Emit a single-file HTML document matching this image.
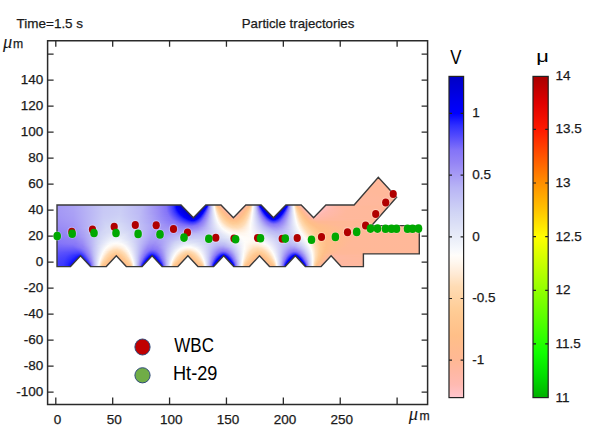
<!DOCTYPE html>
<html><head><meta charset="utf-8"><style>
html,body{margin:0;padding:0;background:#fff;width:602px;height:430px;overflow:hidden}
svg{display:block}

</style></head><body>
<svg width="602" height="430" viewBox="0 0 602 430">
<defs><linearGradient id="g0" gradientUnits="userSpaceOnUse" x1="56" x2="421"><stop offset="0.00137" stop-color="#a498f5"/><stop offset="0.04795" stop-color="#aba2f5"/><stop offset="0.1301" stop-color="#c7c8f5"/><stop offset="0.1795" stop-color="#caccf5"/><stop offset="0.237" stop-color="#b9b5f5"/><stop offset="0.2863" stop-color="#9484f5"/><stop offset="0.3027" stop-color="#8070f8"/><stop offset="0.3164" stop-color="#4c46fd"/><stop offset="0.3219" stop-color="#3231ff"/><stop offset="0.3274" stop-color="#0d0dff"/><stop offset="0.3301" stop-color="#0000fc"/><stop offset="0.3356" stop-color="#0000e6"/><stop offset="0.3384" stop-color="#0000d2"/><stop offset="0.3411" stop-color="#0000c8"/><stop offset="0.4096" stop-color="#0000c9"/><stop offset="0.4123" stop-color="#0000ce"/><stop offset="0.4151" stop-color="#0000ee"/><stop offset="0.4178" stop-color="#544bfc"/><stop offset="0.4205" stop-color="#9383f5"/><stop offset="0.4233" stop-color="#b2abf5"/><stop offset="0.426" stop-color="#c7c9f5"/><stop offset="0.4315" stop-color="#eff2fa"/><stop offset="0.4342" stop-color="#fff6ec"/><stop offset="0.437" stop-color="#ffdcb6"/><stop offset="0.4397" stop-color="#ffcb94"/><stop offset="0.4425" stop-color="#ffba8f"/><stop offset="0.4452" stop-color="#ffb8a3"/><stop offset="0.4589" stop-color="#ffb9aa"/><stop offset="0.5247" stop-color="#ffb8a7"/><stop offset="0.5274" stop-color="#ffb8a3"/><stop offset="0.5301" stop-color="#ffba90"/><stop offset="0.5329" stop-color="#ffca93"/><stop offset="0.5356" stop-color="#ffdbb3"/><stop offset="0.5384" stop-color="#fff3e6"/><stop offset="0.5411" stop-color="#f2f5fb"/><stop offset="0.5466" stop-color="#caccf5"/><stop offset="0.5493" stop-color="#b5b0f5"/><stop offset="0.5521" stop-color="#9686f5"/><stop offset="0.5548" stop-color="#5a50fc"/><stop offset="0.5575" stop-color="#0000ef"/><stop offset="0.5603" stop-color="#0000ce"/><stop offset="0.5658" stop-color="#0000c9"/><stop offset="0.6288" stop-color="#0000c9"/><stop offset="0.6315" stop-color="#0000ce"/><stop offset="0.6342" stop-color="#0000ef"/><stop offset="0.637" stop-color="#5d52fc"/><stop offset="0.6397" stop-color="#9889f5"/><stop offset="0.6425" stop-color="#b8b4f5"/><stop offset="0.6452" stop-color="#cdd0f5"/><stop offset="0.6507" stop-color="#f7f9fc"/><stop offset="0.6534" stop-color="#ffedda"/><stop offset="0.6562" stop-color="#ffd6aa"/><stop offset="0.6589" stop-color="#ffc58e"/><stop offset="0.6616" stop-color="#ffb897"/><stop offset="0.6644" stop-color="#ffbab1"/><stop offset="0.6753" stop-color="#ffbebc"/><stop offset="0.7466" stop-color="#ffbfbd"/><stop offset="0.7548" stop-color="#ffb9ad"/><stop offset="0.7795" stop-color="#ffb8a0"/><stop offset="0.7822" stop-color="#ffb89a"/><stop offset="0.9986" stop-color="#ffb89a"/></linearGradient><linearGradient id="g1" gradientUnits="userSpaceOnUse" x1="56" x2="421"><stop offset="0.00137" stop-color="#a498f5"/><stop offset="0.04795" stop-color="#aba2f5"/><stop offset="0.1301" stop-color="#c7c8f5"/><stop offset="0.1795" stop-color="#caccf5"/><stop offset="0.237" stop-color="#b9b5f5"/><stop offset="0.2863" stop-color="#9484f5"/><stop offset="0.3027" stop-color="#8070f8"/><stop offset="0.3164" stop-color="#4c46fd"/><stop offset="0.3219" stop-color="#3231ff"/><stop offset="0.3274" stop-color="#0d0dff"/><stop offset="0.3301" stop-color="#0000fc"/><stop offset="0.3356" stop-color="#0000e6"/><stop offset="0.3384" stop-color="#0000d2"/><stop offset="0.3411" stop-color="#0000c8"/><stop offset="0.4096" stop-color="#0000c9"/><stop offset="0.4123" stop-color="#0000ce"/><stop offset="0.4151" stop-color="#0000ee"/><stop offset="0.4178" stop-color="#544bfc"/><stop offset="0.4205" stop-color="#9383f5"/><stop offset="0.4233" stop-color="#b2abf5"/><stop offset="0.426" stop-color="#c7c9f5"/><stop offset="0.4315" stop-color="#eff2fa"/><stop offset="0.4342" stop-color="#fff6ec"/><stop offset="0.437" stop-color="#ffdcb6"/><stop offset="0.4397" stop-color="#ffcb94"/><stop offset="0.4425" stop-color="#ffba8f"/><stop offset="0.4452" stop-color="#ffb8a3"/><stop offset="0.4589" stop-color="#ffb9aa"/><stop offset="0.5247" stop-color="#ffb8a7"/><stop offset="0.5274" stop-color="#ffb8a3"/><stop offset="0.5301" stop-color="#ffba90"/><stop offset="0.5329" stop-color="#ffca93"/><stop offset="0.5356" stop-color="#ffdbb3"/><stop offset="0.5384" stop-color="#fff3e6"/><stop offset="0.5411" stop-color="#f2f5fb"/><stop offset="0.5466" stop-color="#caccf5"/><stop offset="0.5493" stop-color="#b5b0f5"/><stop offset="0.5521" stop-color="#9686f5"/><stop offset="0.5548" stop-color="#5a50fc"/><stop offset="0.5575" stop-color="#0000ef"/><stop offset="0.5603" stop-color="#0000ce"/><stop offset="0.5658" stop-color="#0000c9"/><stop offset="0.6288" stop-color="#0000c9"/><stop offset="0.6315" stop-color="#0000ce"/><stop offset="0.6342" stop-color="#0000ef"/><stop offset="0.637" stop-color="#5d52fc"/><stop offset="0.6397" stop-color="#9889f5"/><stop offset="0.6425" stop-color="#b8b4f5"/><stop offset="0.6452" stop-color="#cdd0f5"/><stop offset="0.6507" stop-color="#f7f9fc"/><stop offset="0.6534" stop-color="#ffedda"/><stop offset="0.6562" stop-color="#ffd6aa"/><stop offset="0.6589" stop-color="#ffc58e"/><stop offset="0.6616" stop-color="#ffb897"/><stop offset="0.6644" stop-color="#ffbab1"/><stop offset="0.6753" stop-color="#ffbebc"/><stop offset="0.7466" stop-color="#ffbfbd"/><stop offset="0.7548" stop-color="#ffb9ad"/><stop offset="0.7795" stop-color="#ffb8a0"/><stop offset="0.7877" stop-color="#ffb89a"/><stop offset="0.9986" stop-color="#ffb89a"/></linearGradient><linearGradient id="g2" gradientUnits="userSpaceOnUse" x1="56" x2="421"><stop offset="0.00137" stop-color="#a498f5"/><stop offset="0.04795" stop-color="#aba2f5"/><stop offset="0.1301" stop-color="#c7c8f5"/><stop offset="0.1795" stop-color="#caccf5"/><stop offset="0.237" stop-color="#b9b5f5"/><stop offset="0.2863" stop-color="#9484f5"/><stop offset="0.3027" stop-color="#8070f8"/><stop offset="0.3164" stop-color="#4c46fd"/><stop offset="0.3219" stop-color="#3231ff"/><stop offset="0.3274" stop-color="#0d0dff"/><stop offset="0.3301" stop-color="#0000fc"/><stop offset="0.3356" stop-color="#0000e6"/><stop offset="0.3384" stop-color="#0000d2"/><stop offset="0.3411" stop-color="#0000c8"/><stop offset="0.4096" stop-color="#0000c9"/><stop offset="0.4123" stop-color="#0000ce"/><stop offset="0.4151" stop-color="#0000ee"/><stop offset="0.4178" stop-color="#544bfc"/><stop offset="0.4205" stop-color="#9383f5"/><stop offset="0.4233" stop-color="#b2abf5"/><stop offset="0.426" stop-color="#c7c9f5"/><stop offset="0.4315" stop-color="#eff2fa"/><stop offset="0.4342" stop-color="#fff6ec"/><stop offset="0.437" stop-color="#ffdcb6"/><stop offset="0.4397" stop-color="#ffcb94"/><stop offset="0.4425" stop-color="#ffba8f"/><stop offset="0.4452" stop-color="#ffb8a3"/><stop offset="0.4589" stop-color="#ffb9aa"/><stop offset="0.5247" stop-color="#ffb8a7"/><stop offset="0.5274" stop-color="#ffb8a3"/><stop offset="0.5301" stop-color="#ffba90"/><stop offset="0.5329" stop-color="#ffca93"/><stop offset="0.5356" stop-color="#ffdbb3"/><stop offset="0.5384" stop-color="#fff3e6"/><stop offset="0.5411" stop-color="#f2f5fb"/><stop offset="0.5466" stop-color="#caccf5"/><stop offset="0.5493" stop-color="#b5b0f5"/><stop offset="0.5521" stop-color="#9686f5"/><stop offset="0.5548" stop-color="#5a50fc"/><stop offset="0.5575" stop-color="#0000ef"/><stop offset="0.5603" stop-color="#0000ce"/><stop offset="0.5658" stop-color="#0000c9"/><stop offset="0.6288" stop-color="#0000c9"/><stop offset="0.6315" stop-color="#0000ce"/><stop offset="0.6342" stop-color="#0000ef"/><stop offset="0.637" stop-color="#5d52fc"/><stop offset="0.6397" stop-color="#9889f5"/><stop offset="0.6425" stop-color="#b8b4f5"/><stop offset="0.6452" stop-color="#cdd0f5"/><stop offset="0.6507" stop-color="#f7f9fc"/><stop offset="0.6534" stop-color="#ffedda"/><stop offset="0.6562" stop-color="#ffd6aa"/><stop offset="0.6589" stop-color="#ffc58e"/><stop offset="0.6616" stop-color="#ffb897"/><stop offset="0.6644" stop-color="#ffbab1"/><stop offset="0.6753" stop-color="#ffbebc"/><stop offset="0.7466" stop-color="#ffbfbd"/><stop offset="0.7548" stop-color="#ffb9ad"/><stop offset="0.7904" stop-color="#ffb89a"/><stop offset="0.9986" stop-color="#ffb89a"/></linearGradient><linearGradient id="g3" gradientUnits="userSpaceOnUse" x1="56" x2="421"><stop offset="0.00137" stop-color="#a498f5"/><stop offset="0.04795" stop-color="#aba2f5"/><stop offset="0.1301" stop-color="#c7c8f5"/><stop offset="0.1795" stop-color="#caccf5"/><stop offset="0.237" stop-color="#b9b5f5"/><stop offset="0.2863" stop-color="#9484f5"/><stop offset="0.3027" stop-color="#8070f8"/><stop offset="0.3164" stop-color="#4c46fd"/><stop offset="0.3219" stop-color="#3231ff"/><stop offset="0.3274" stop-color="#0d0dff"/><stop offset="0.3301" stop-color="#0000fc"/><stop offset="0.3356" stop-color="#0000e6"/><stop offset="0.3384" stop-color="#0000d2"/><stop offset="0.3411" stop-color="#0000c8"/><stop offset="0.4096" stop-color="#0000c9"/><stop offset="0.4123" stop-color="#0000ce"/><stop offset="0.4151" stop-color="#0000ee"/><stop offset="0.4178" stop-color="#544bfc"/><stop offset="0.4205" stop-color="#9383f5"/><stop offset="0.4233" stop-color="#b2abf5"/><stop offset="0.426" stop-color="#c7c9f5"/><stop offset="0.4315" stop-color="#eff2fa"/><stop offset="0.4342" stop-color="#fff6ec"/><stop offset="0.437" stop-color="#ffdcb6"/><stop offset="0.4397" stop-color="#ffcb94"/><stop offset="0.4425" stop-color="#ffba8f"/><stop offset="0.4452" stop-color="#ffb8a3"/><stop offset="0.4589" stop-color="#ffb9aa"/><stop offset="0.5247" stop-color="#ffb8a7"/><stop offset="0.5274" stop-color="#ffb8a3"/><stop offset="0.5301" stop-color="#ffba90"/><stop offset="0.5329" stop-color="#ffca93"/><stop offset="0.5356" stop-color="#ffdbb3"/><stop offset="0.5384" stop-color="#fff3e6"/><stop offset="0.5411" stop-color="#f2f5fb"/><stop offset="0.5466" stop-color="#caccf5"/><stop offset="0.5493" stop-color="#b5b0f5"/><stop offset="0.5521" stop-color="#9686f5"/><stop offset="0.5548" stop-color="#5a50fc"/><stop offset="0.5575" stop-color="#0000ef"/><stop offset="0.5603" stop-color="#0000ce"/><stop offset="0.5658" stop-color="#0000c9"/><stop offset="0.6288" stop-color="#0000c9"/><stop offset="0.6315" stop-color="#0000ce"/><stop offset="0.6342" stop-color="#0000ef"/><stop offset="0.637" stop-color="#5d52fc"/><stop offset="0.6397" stop-color="#9889f5"/><stop offset="0.6425" stop-color="#b8b4f5"/><stop offset="0.6452" stop-color="#cdd0f5"/><stop offset="0.6507" stop-color="#f7f9fc"/><stop offset="0.6534" stop-color="#ffedda"/><stop offset="0.6562" stop-color="#ffd6aa"/><stop offset="0.6589" stop-color="#ffc58e"/><stop offset="0.6616" stop-color="#ffb897"/><stop offset="0.6644" stop-color="#ffbab1"/><stop offset="0.6753" stop-color="#ffbebc"/><stop offset="0.7466" stop-color="#ffbfbd"/><stop offset="0.7548" stop-color="#ffb9ad"/><stop offset="0.7932" stop-color="#ffb89a"/><stop offset="0.9986" stop-color="#ffb89a"/></linearGradient><linearGradient id="g4" gradientUnits="userSpaceOnUse" x1="56" x2="421"><stop offset="0.00137" stop-color="#a498f5"/><stop offset="0.04795" stop-color="#aba2f5"/><stop offset="0.1301" stop-color="#c7c8f5"/><stop offset="0.1795" stop-color="#caccf5"/><stop offset="0.237" stop-color="#b9b5f5"/><stop offset="0.2863" stop-color="#9484f5"/><stop offset="0.3027" stop-color="#8070f8"/><stop offset="0.3164" stop-color="#4c46fd"/><stop offset="0.3219" stop-color="#3231ff"/><stop offset="0.3274" stop-color="#0d0dff"/><stop offset="0.3301" stop-color="#0000fc"/><stop offset="0.3356" stop-color="#0000e6"/><stop offset="0.3384" stop-color="#0000d2"/><stop offset="0.3411" stop-color="#0000c8"/><stop offset="0.4096" stop-color="#0000c9"/><stop offset="0.4123" stop-color="#0000ce"/><stop offset="0.4151" stop-color="#0000ee"/><stop offset="0.4178" stop-color="#544bfc"/><stop offset="0.4205" stop-color="#9383f5"/><stop offset="0.4233" stop-color="#b2abf5"/><stop offset="0.426" stop-color="#c7c9f5"/><stop offset="0.4315" stop-color="#eff2fa"/><stop offset="0.4342" stop-color="#fff6ec"/><stop offset="0.437" stop-color="#ffdcb6"/><stop offset="0.4397" stop-color="#ffcb94"/><stop offset="0.4425" stop-color="#ffba8f"/><stop offset="0.4452" stop-color="#ffb8a3"/><stop offset="0.4589" stop-color="#ffb9aa"/><stop offset="0.5247" stop-color="#ffb8a7"/><stop offset="0.5274" stop-color="#ffb8a3"/><stop offset="0.5301" stop-color="#ffba90"/><stop offset="0.5329" stop-color="#ffca93"/><stop offset="0.5356" stop-color="#ffdbb3"/><stop offset="0.5384" stop-color="#fff3e6"/><stop offset="0.5411" stop-color="#f2f5fb"/><stop offset="0.5466" stop-color="#caccf5"/><stop offset="0.5493" stop-color="#b5b0f5"/><stop offset="0.5521" stop-color="#9686f5"/><stop offset="0.5548" stop-color="#5a50fc"/><stop offset="0.5575" stop-color="#0000ef"/><stop offset="0.5603" stop-color="#0000ce"/><stop offset="0.5658" stop-color="#0000c9"/><stop offset="0.6288" stop-color="#0000c9"/><stop offset="0.6315" stop-color="#0000ce"/><stop offset="0.6342" stop-color="#0000ef"/><stop offset="0.637" stop-color="#5d52fc"/><stop offset="0.6397" stop-color="#9889f5"/><stop offset="0.6425" stop-color="#b8b4f5"/><stop offset="0.6452" stop-color="#cdd0f5"/><stop offset="0.6507" stop-color="#f7f9fc"/><stop offset="0.6534" stop-color="#ffedda"/><stop offset="0.6562" stop-color="#ffd6aa"/><stop offset="0.6589" stop-color="#ffc58e"/><stop offset="0.6616" stop-color="#ffb897"/><stop offset="0.6644" stop-color="#ffbab1"/><stop offset="0.6753" stop-color="#ffbebc"/><stop offset="0.7466" stop-color="#ffbfbd"/><stop offset="0.7548" stop-color="#ffb9ad"/><stop offset="0.7932" stop-color="#ffb89a"/><stop offset="0.9986" stop-color="#ffb89a"/></linearGradient><linearGradient id="g5" gradientUnits="userSpaceOnUse" x1="56" x2="421"><stop offset="0.00137" stop-color="#a498f5"/><stop offset="0.04795" stop-color="#aba2f5"/><stop offset="0.1301" stop-color="#c7c8f5"/><stop offset="0.1795" stop-color="#caccf5"/><stop offset="0.237" stop-color="#b9b5f5"/><stop offset="0.2863" stop-color="#9484f5"/><stop offset="0.3027" stop-color="#8070f8"/><stop offset="0.3164" stop-color="#4c46fd"/><stop offset="0.3219" stop-color="#3231ff"/><stop offset="0.3274" stop-color="#0d0dff"/><stop offset="0.3301" stop-color="#0000fc"/><stop offset="0.3356" stop-color="#0000e6"/><stop offset="0.3384" stop-color="#0000d2"/><stop offset="0.3411" stop-color="#0000c8"/><stop offset="0.4096" stop-color="#0000c9"/><stop offset="0.4123" stop-color="#0000ce"/><stop offset="0.4151" stop-color="#0000ee"/><stop offset="0.4178" stop-color="#544bfc"/><stop offset="0.4205" stop-color="#9383f5"/><stop offset="0.4233" stop-color="#b2abf5"/><stop offset="0.426" stop-color="#c7c9f5"/><stop offset="0.4315" stop-color="#eff2fa"/><stop offset="0.4342" stop-color="#fff6ec"/><stop offset="0.437" stop-color="#ffdcb6"/><stop offset="0.4397" stop-color="#ffcb94"/><stop offset="0.4425" stop-color="#ffba8f"/><stop offset="0.4452" stop-color="#ffb8a3"/><stop offset="0.4589" stop-color="#ffb9aa"/><stop offset="0.5247" stop-color="#ffb8a7"/><stop offset="0.5274" stop-color="#ffb8a3"/><stop offset="0.5301" stop-color="#ffba90"/><stop offset="0.5329" stop-color="#ffca93"/><stop offset="0.5356" stop-color="#ffdbb3"/><stop offset="0.5384" stop-color="#fff3e6"/><stop offset="0.5411" stop-color="#f2f5fb"/><stop offset="0.5466" stop-color="#caccf5"/><stop offset="0.5493" stop-color="#b5b0f5"/><stop offset="0.5521" stop-color="#9686f5"/><stop offset="0.5548" stop-color="#5a50fc"/><stop offset="0.5575" stop-color="#0000ef"/><stop offset="0.5603" stop-color="#0000ce"/><stop offset="0.5658" stop-color="#0000c9"/><stop offset="0.6288" stop-color="#0000c9"/><stop offset="0.6315" stop-color="#0000ce"/><stop offset="0.6342" stop-color="#0000ef"/><stop offset="0.637" stop-color="#5d52fc"/><stop offset="0.6397" stop-color="#9889f5"/><stop offset="0.6425" stop-color="#b8b4f5"/><stop offset="0.6452" stop-color="#cdd0f5"/><stop offset="0.6507" stop-color="#f7f9fc"/><stop offset="0.6534" stop-color="#ffedda"/><stop offset="0.6562" stop-color="#ffd6aa"/><stop offset="0.6589" stop-color="#ffc58e"/><stop offset="0.6616" stop-color="#ffb897"/><stop offset="0.6644" stop-color="#ffbab1"/><stop offset="0.6753" stop-color="#ffbebc"/><stop offset="0.7466" stop-color="#ffbfbd"/><stop offset="0.7548" stop-color="#ffb9ad"/><stop offset="0.7959" stop-color="#ffb89a"/><stop offset="0.9986" stop-color="#ffb89a"/></linearGradient><linearGradient id="g6" gradientUnits="userSpaceOnUse" x1="56" x2="421"><stop offset="0.00137" stop-color="#a498f5"/><stop offset="0.04795" stop-color="#aba2f5"/><stop offset="0.1301" stop-color="#c7c8f5"/><stop offset="0.1795" stop-color="#caccf5"/><stop offset="0.237" stop-color="#b9b5f5"/><stop offset="0.2863" stop-color="#9484f5"/><stop offset="0.3027" stop-color="#8070f8"/><stop offset="0.3164" stop-color="#4c46fd"/><stop offset="0.3219" stop-color="#3231ff"/><stop offset="0.3274" stop-color="#0d0dff"/><stop offset="0.3301" stop-color="#0000fc"/><stop offset="0.3356" stop-color="#0000e6"/><stop offset="0.3384" stop-color="#0000d2"/><stop offset="0.3411" stop-color="#0000c8"/><stop offset="0.4096" stop-color="#0000c9"/><stop offset="0.4123" stop-color="#0000ce"/><stop offset="0.4151" stop-color="#0000ee"/><stop offset="0.4178" stop-color="#544bfc"/><stop offset="0.4205" stop-color="#9383f5"/><stop offset="0.4233" stop-color="#b2abf5"/><stop offset="0.426" stop-color="#c7c9f5"/><stop offset="0.4315" stop-color="#eff2fa"/><stop offset="0.4342" stop-color="#fff6ec"/><stop offset="0.437" stop-color="#ffdcb6"/><stop offset="0.4397" stop-color="#ffcb94"/><stop offset="0.4425" stop-color="#ffba8f"/><stop offset="0.4452" stop-color="#ffb8a3"/><stop offset="0.4589" stop-color="#ffb9aa"/><stop offset="0.5247" stop-color="#ffb8a7"/><stop offset="0.5274" stop-color="#ffb8a3"/><stop offset="0.5301" stop-color="#ffba90"/><stop offset="0.5329" stop-color="#ffca93"/><stop offset="0.5356" stop-color="#ffdbb3"/><stop offset="0.5384" stop-color="#fff3e6"/><stop offset="0.5411" stop-color="#f2f5fb"/><stop offset="0.5466" stop-color="#caccf5"/><stop offset="0.5493" stop-color="#b5b0f5"/><stop offset="0.5521" stop-color="#9686f5"/><stop offset="0.5548" stop-color="#5a50fc"/><stop offset="0.5575" stop-color="#0000ef"/><stop offset="0.5603" stop-color="#0000ce"/><stop offset="0.5658" stop-color="#0000c9"/><stop offset="0.6288" stop-color="#0000c9"/><stop offset="0.6315" stop-color="#0000ce"/><stop offset="0.6342" stop-color="#0000ef"/><stop offset="0.637" stop-color="#5d52fc"/><stop offset="0.6397" stop-color="#9889f5"/><stop offset="0.6425" stop-color="#b8b4f5"/><stop offset="0.6452" stop-color="#cdd0f5"/><stop offset="0.6507" stop-color="#f7f9fc"/><stop offset="0.6534" stop-color="#ffedda"/><stop offset="0.6562" stop-color="#ffd6aa"/><stop offset="0.6589" stop-color="#ffc58e"/><stop offset="0.6616" stop-color="#ffb897"/><stop offset="0.6644" stop-color="#ffbab1"/><stop offset="0.6753" stop-color="#ffbebc"/><stop offset="0.7466" stop-color="#ffbfbd"/><stop offset="0.7548" stop-color="#ffb9ad"/><stop offset="0.7959" stop-color="#ffb89a"/><stop offset="0.9986" stop-color="#ffb89a"/></linearGradient><linearGradient id="g7" gradientUnits="userSpaceOnUse" x1="56" x2="421"><stop offset="0.00137" stop-color="#a498f5"/><stop offset="0.04795" stop-color="#aba2f5"/><stop offset="0.1301" stop-color="#c7c8f5"/><stop offset="0.1795" stop-color="#caccf5"/><stop offset="0.237" stop-color="#b9b5f5"/><stop offset="0.2863" stop-color="#9484f5"/><stop offset="0.3027" stop-color="#8070f8"/><stop offset="0.3164" stop-color="#4c46fd"/><stop offset="0.3219" stop-color="#3231ff"/><stop offset="0.3274" stop-color="#0d0dff"/><stop offset="0.3301" stop-color="#0000fc"/><stop offset="0.3356" stop-color="#0000e6"/><stop offset="0.3384" stop-color="#0000d2"/><stop offset="0.3411" stop-color="#0000c8"/><stop offset="0.4096" stop-color="#0000c9"/><stop offset="0.4123" stop-color="#0000ce"/><stop offset="0.4151" stop-color="#0000ee"/><stop offset="0.4178" stop-color="#544bfc"/><stop offset="0.4205" stop-color="#9383f5"/><stop offset="0.4233" stop-color="#b2abf5"/><stop offset="0.426" stop-color="#c7c9f5"/><stop offset="0.4315" stop-color="#eff2fa"/><stop offset="0.4342" stop-color="#fff6ec"/><stop offset="0.437" stop-color="#ffdcb6"/><stop offset="0.4397" stop-color="#ffcb94"/><stop offset="0.4425" stop-color="#ffba8f"/><stop offset="0.4452" stop-color="#ffb8a3"/><stop offset="0.4589" stop-color="#ffb9aa"/><stop offset="0.5247" stop-color="#ffb8a7"/><stop offset="0.5274" stop-color="#ffb8a3"/><stop offset="0.5301" stop-color="#ffba90"/><stop offset="0.5329" stop-color="#ffca93"/><stop offset="0.5356" stop-color="#ffdbb3"/><stop offset="0.5384" stop-color="#fff3e6"/><stop offset="0.5411" stop-color="#f2f5fb"/><stop offset="0.5466" stop-color="#caccf5"/><stop offset="0.5493" stop-color="#b5b0f5"/><stop offset="0.5521" stop-color="#9686f5"/><stop offset="0.5548" stop-color="#5a50fc"/><stop offset="0.5575" stop-color="#0000ef"/><stop offset="0.5603" stop-color="#0000ce"/><stop offset="0.5658" stop-color="#0000c9"/><stop offset="0.6288" stop-color="#0000c9"/><stop offset="0.6315" stop-color="#0000ce"/><stop offset="0.6342" stop-color="#0000ef"/><stop offset="0.637" stop-color="#5d52fc"/><stop offset="0.6397" stop-color="#9889f5"/><stop offset="0.6425" stop-color="#b8b4f5"/><stop offset="0.6452" stop-color="#cdd0f5"/><stop offset="0.6507" stop-color="#f7f9fc"/><stop offset="0.6534" stop-color="#ffedda"/><stop offset="0.6562" stop-color="#ffd6aa"/><stop offset="0.6589" stop-color="#ffc58e"/><stop offset="0.6616" stop-color="#ffb897"/><stop offset="0.6644" stop-color="#ffbab1"/><stop offset="0.6753" stop-color="#ffbebc"/><stop offset="0.7466" stop-color="#ffbfbd"/><stop offset="0.7548" stop-color="#ffb9ad"/><stop offset="0.7986" stop-color="#ffb89a"/><stop offset="0.9986" stop-color="#ffb89a"/></linearGradient><linearGradient id="g8" gradientUnits="userSpaceOnUse" x1="56" x2="421"><stop offset="0.00137" stop-color="#a498f5"/><stop offset="0.04795" stop-color="#aba2f5"/><stop offset="0.1301" stop-color="#c7c8f5"/><stop offset="0.1795" stop-color="#caccf5"/><stop offset="0.237" stop-color="#b9b5f5"/><stop offset="0.2863" stop-color="#9484f5"/><stop offset="0.3027" stop-color="#8070f8"/><stop offset="0.3164" stop-color="#4c46fd"/><stop offset="0.3219" stop-color="#3231ff"/><stop offset="0.3274" stop-color="#0d0dff"/><stop offset="0.3301" stop-color="#0000fc"/><stop offset="0.3356" stop-color="#0000e6"/><stop offset="0.3384" stop-color="#0000d2"/><stop offset="0.3411" stop-color="#0000c8"/><stop offset="0.4096" stop-color="#0000c9"/><stop offset="0.4123" stop-color="#0000ce"/><stop offset="0.4151" stop-color="#0000ee"/><stop offset="0.4178" stop-color="#544bfc"/><stop offset="0.4205" stop-color="#9383f5"/><stop offset="0.4233" stop-color="#b2abf5"/><stop offset="0.426" stop-color="#c7c9f5"/><stop offset="0.4315" stop-color="#eff2fa"/><stop offset="0.4342" stop-color="#fff6ec"/><stop offset="0.437" stop-color="#ffdcb6"/><stop offset="0.4397" stop-color="#ffcb94"/><stop offset="0.4425" stop-color="#ffba8f"/><stop offset="0.4452" stop-color="#ffb8a3"/><stop offset="0.4589" stop-color="#ffb9aa"/><stop offset="0.5247" stop-color="#ffb8a7"/><stop offset="0.5274" stop-color="#ffb8a3"/><stop offset="0.5301" stop-color="#ffba90"/><stop offset="0.5329" stop-color="#ffca93"/><stop offset="0.5356" stop-color="#ffdbb3"/><stop offset="0.5384" stop-color="#fff3e6"/><stop offset="0.5411" stop-color="#f2f5fb"/><stop offset="0.5466" stop-color="#caccf5"/><stop offset="0.5493" stop-color="#b5b0f5"/><stop offset="0.5521" stop-color="#9686f5"/><stop offset="0.5548" stop-color="#5a50fc"/><stop offset="0.5575" stop-color="#0000ef"/><stop offset="0.5603" stop-color="#0000ce"/><stop offset="0.5658" stop-color="#0000c9"/><stop offset="0.6288" stop-color="#0000c9"/><stop offset="0.6315" stop-color="#0000ce"/><stop offset="0.6342" stop-color="#0000ef"/><stop offset="0.637" stop-color="#5d52fc"/><stop offset="0.6397" stop-color="#9889f5"/><stop offset="0.6425" stop-color="#b8b4f5"/><stop offset="0.6452" stop-color="#cdd0f5"/><stop offset="0.6507" stop-color="#f7f9fc"/><stop offset="0.6534" stop-color="#ffedda"/><stop offset="0.6562" stop-color="#ffd6aa"/><stop offset="0.6589" stop-color="#ffc58e"/><stop offset="0.6616" stop-color="#ffb897"/><stop offset="0.6644" stop-color="#ffbab1"/><stop offset="0.6753" stop-color="#ffbebc"/><stop offset="0.7466" stop-color="#ffbfbd"/><stop offset="0.7548" stop-color="#ffb9ad"/><stop offset="0.7986" stop-color="#ffb89a"/><stop offset="0.9986" stop-color="#ffb89a"/></linearGradient><linearGradient id="g9" gradientUnits="userSpaceOnUse" x1="56" x2="421"><stop offset="0.00137" stop-color="#a498f5"/><stop offset="0.04795" stop-color="#aba2f5"/><stop offset="0.1301" stop-color="#c7c8f5"/><stop offset="0.1795" stop-color="#caccf5"/><stop offset="0.237" stop-color="#b9b5f5"/><stop offset="0.2863" stop-color="#9484f5"/><stop offset="0.3027" stop-color="#8070f8"/><stop offset="0.3164" stop-color="#4c46fd"/><stop offset="0.3219" stop-color="#3231ff"/><stop offset="0.3274" stop-color="#0d0dff"/><stop offset="0.3301" stop-color="#0000fc"/><stop offset="0.3356" stop-color="#0000e6"/><stop offset="0.3384" stop-color="#0000d2"/><stop offset="0.3411" stop-color="#0000c8"/><stop offset="0.4096" stop-color="#0000c9"/><stop offset="0.4123" stop-color="#0000ce"/><stop offset="0.4151" stop-color="#0000ee"/><stop offset="0.4178" stop-color="#544bfc"/><stop offset="0.4205" stop-color="#9383f5"/><stop offset="0.4233" stop-color="#b2abf5"/><stop offset="0.426" stop-color="#c7c9f5"/><stop offset="0.4315" stop-color="#eff2fa"/><stop offset="0.4342" stop-color="#fff6ec"/><stop offset="0.437" stop-color="#ffdcb6"/><stop offset="0.4397" stop-color="#ffcb94"/><stop offset="0.4425" stop-color="#ffba8f"/><stop offset="0.4452" stop-color="#ffb8a3"/><stop offset="0.4589" stop-color="#ffb9aa"/><stop offset="0.5247" stop-color="#ffb8a7"/><stop offset="0.5274" stop-color="#ffb8a3"/><stop offset="0.5301" stop-color="#ffba90"/><stop offset="0.5329" stop-color="#ffca93"/><stop offset="0.5356" stop-color="#ffdbb3"/><stop offset="0.5384" stop-color="#fff3e6"/><stop offset="0.5411" stop-color="#f2f5fb"/><stop offset="0.5466" stop-color="#caccf5"/><stop offset="0.5493" stop-color="#b5b0f5"/><stop offset="0.5521" stop-color="#9686f5"/><stop offset="0.5548" stop-color="#5a50fc"/><stop offset="0.5575" stop-color="#0000ef"/><stop offset="0.5603" stop-color="#0000ce"/><stop offset="0.5658" stop-color="#0000c9"/><stop offset="0.6288" stop-color="#0000c9"/><stop offset="0.6315" stop-color="#0000ce"/><stop offset="0.6342" stop-color="#0000ef"/><stop offset="0.637" stop-color="#5d52fc"/><stop offset="0.6397" stop-color="#9889f5"/><stop offset="0.6425" stop-color="#b8b4f5"/><stop offset="0.6452" stop-color="#cdd0f5"/><stop offset="0.6507" stop-color="#f7f9fc"/><stop offset="0.6534" stop-color="#ffedda"/><stop offset="0.6562" stop-color="#ffd6aa"/><stop offset="0.6589" stop-color="#ffc58e"/><stop offset="0.6616" stop-color="#ffb897"/><stop offset="0.6644" stop-color="#ffbab1"/><stop offset="0.6753" stop-color="#ffbebc"/><stop offset="0.7466" stop-color="#ffbfbd"/><stop offset="0.7548" stop-color="#ffb9ad"/><stop offset="0.7986" stop-color="#ffb89a"/><stop offset="0.9986" stop-color="#ffb89a"/></linearGradient><linearGradient id="g10" gradientUnits="userSpaceOnUse" x1="56" x2="421"><stop offset="0.00137" stop-color="#a498f5"/><stop offset="0.04795" stop-color="#aba2f5"/><stop offset="0.1301" stop-color="#c7c8f5"/><stop offset="0.1795" stop-color="#caccf5"/><stop offset="0.237" stop-color="#b9b5f5"/><stop offset="0.2863" stop-color="#9484f5"/><stop offset="0.3027" stop-color="#8070f8"/><stop offset="0.3164" stop-color="#4c46fd"/><stop offset="0.3219" stop-color="#3231ff"/><stop offset="0.3274" stop-color="#0d0dff"/><stop offset="0.3301" stop-color="#0000fc"/><stop offset="0.3356" stop-color="#0000e6"/><stop offset="0.3384" stop-color="#0000d2"/><stop offset="0.3411" stop-color="#0000c8"/><stop offset="0.4096" stop-color="#0000c9"/><stop offset="0.4123" stop-color="#0000ce"/><stop offset="0.4151" stop-color="#0000ee"/><stop offset="0.4178" stop-color="#544bfc"/><stop offset="0.4205" stop-color="#9383f5"/><stop offset="0.4233" stop-color="#b2abf5"/><stop offset="0.426" stop-color="#c7c9f5"/><stop offset="0.4315" stop-color="#eff2fa"/><stop offset="0.4342" stop-color="#fff6ec"/><stop offset="0.437" stop-color="#ffdcb6"/><stop offset="0.4397" stop-color="#ffcb94"/><stop offset="0.4425" stop-color="#ffba8f"/><stop offset="0.4452" stop-color="#ffb8a3"/><stop offset="0.4589" stop-color="#ffb9aa"/><stop offset="0.5247" stop-color="#ffb8a7"/><stop offset="0.5274" stop-color="#ffb8a3"/><stop offset="0.5301" stop-color="#ffba90"/><stop offset="0.5329" stop-color="#ffca93"/><stop offset="0.5356" stop-color="#ffdbb3"/><stop offset="0.5384" stop-color="#fff3e6"/><stop offset="0.5411" stop-color="#f2f5fb"/><stop offset="0.5466" stop-color="#caccf5"/><stop offset="0.5493" stop-color="#b5b0f5"/><stop offset="0.5521" stop-color="#9686f5"/><stop offset="0.5548" stop-color="#5a50fc"/><stop offset="0.5575" stop-color="#0000ef"/><stop offset="0.5603" stop-color="#0000ce"/><stop offset="0.5658" stop-color="#0000c9"/><stop offset="0.6288" stop-color="#0000c9"/><stop offset="0.6315" stop-color="#0000ce"/><stop offset="0.6342" stop-color="#0000ef"/><stop offset="0.637" stop-color="#5d52fc"/><stop offset="0.6397" stop-color="#9889f5"/><stop offset="0.6425" stop-color="#b8b4f5"/><stop offset="0.6452" stop-color="#cdd0f5"/><stop offset="0.6507" stop-color="#f7f9fc"/><stop offset="0.6534" stop-color="#ffedda"/><stop offset="0.6562" stop-color="#ffd6aa"/><stop offset="0.6589" stop-color="#ffc58e"/><stop offset="0.6616" stop-color="#ffb897"/><stop offset="0.6644" stop-color="#ffbab1"/><stop offset="0.6753" stop-color="#ffbebc"/><stop offset="0.7466" stop-color="#ffbfbd"/><stop offset="0.7548" stop-color="#ffb9ad"/><stop offset="0.7986" stop-color="#ffb89a"/><stop offset="0.9986" stop-color="#ffb89a"/></linearGradient><linearGradient id="g11" gradientUnits="userSpaceOnUse" x1="56" x2="421"><stop offset="0.00137" stop-color="#a498f5"/><stop offset="0.04795" stop-color="#aba2f5"/><stop offset="0.1301" stop-color="#c7c8f5"/><stop offset="0.1795" stop-color="#caccf5"/><stop offset="0.237" stop-color="#b9b5f5"/><stop offset="0.2863" stop-color="#9484f5"/><stop offset="0.3027" stop-color="#8070f8"/><stop offset="0.3164" stop-color="#4c46fd"/><stop offset="0.3219" stop-color="#3231ff"/><stop offset="0.3274" stop-color="#0d0dff"/><stop offset="0.3301" stop-color="#0000fc"/><stop offset="0.3356" stop-color="#0000e6"/><stop offset="0.3384" stop-color="#0000d2"/><stop offset="0.3411" stop-color="#0000c8"/><stop offset="0.4096" stop-color="#0000c9"/><stop offset="0.4123" stop-color="#0000ce"/><stop offset="0.4151" stop-color="#0000ee"/><stop offset="0.4178" stop-color="#544bfc"/><stop offset="0.4205" stop-color="#9383f5"/><stop offset="0.4233" stop-color="#b2abf5"/><stop offset="0.426" stop-color="#c7c9f5"/><stop offset="0.4315" stop-color="#eff2fa"/><stop offset="0.4342" stop-color="#fff6ec"/><stop offset="0.437" stop-color="#ffdcb6"/><stop offset="0.4397" stop-color="#ffcb94"/><stop offset="0.4425" stop-color="#ffba8f"/><stop offset="0.4452" stop-color="#ffb8a3"/><stop offset="0.4589" stop-color="#ffb9aa"/><stop offset="0.5247" stop-color="#ffb8a7"/><stop offset="0.5274" stop-color="#ffb8a3"/><stop offset="0.5301" stop-color="#ffba90"/><stop offset="0.5329" stop-color="#ffca93"/><stop offset="0.5356" stop-color="#ffdbb3"/><stop offset="0.5384" stop-color="#fff3e6"/><stop offset="0.5411" stop-color="#f2f5fb"/><stop offset="0.5466" stop-color="#caccf5"/><stop offset="0.5493" stop-color="#b5b0f5"/><stop offset="0.5521" stop-color="#9686f5"/><stop offset="0.5548" stop-color="#5a50fc"/><stop offset="0.5575" stop-color="#0000ef"/><stop offset="0.5603" stop-color="#0000ce"/><stop offset="0.5658" stop-color="#0000c9"/><stop offset="0.6288" stop-color="#0000c9"/><stop offset="0.6315" stop-color="#0000ce"/><stop offset="0.6342" stop-color="#0000ef"/><stop offset="0.637" stop-color="#5d52fc"/><stop offset="0.6397" stop-color="#9889f5"/><stop offset="0.6425" stop-color="#b8b4f5"/><stop offset="0.6452" stop-color="#cdd0f5"/><stop offset="0.6507" stop-color="#f7f9fc"/><stop offset="0.6534" stop-color="#ffedda"/><stop offset="0.6562" stop-color="#ffd6aa"/><stop offset="0.6589" stop-color="#ffc58e"/><stop offset="0.6616" stop-color="#ffb897"/><stop offset="0.6644" stop-color="#ffbab1"/><stop offset="0.6753" stop-color="#ffbebc"/><stop offset="0.7466" stop-color="#ffbfbd"/><stop offset="0.7548" stop-color="#ffb9ad"/><stop offset="0.7904" stop-color="#ffb89e"/><stop offset="0.8233" stop-color="#ffb89a"/><stop offset="0.9986" stop-color="#ffb89a"/></linearGradient><linearGradient id="g12" gradientUnits="userSpaceOnUse" x1="56" x2="421"><stop offset="0.00137" stop-color="#a498f5"/><stop offset="0.04795" stop-color="#aba2f5"/><stop offset="0.1301" stop-color="#c7c8f5"/><stop offset="0.1795" stop-color="#caccf5"/><stop offset="0.237" stop-color="#b9b5f5"/><stop offset="0.2863" stop-color="#9484f5"/><stop offset="0.3027" stop-color="#8070f8"/><stop offset="0.3164" stop-color="#4c46fd"/><stop offset="0.3219" stop-color="#3231ff"/><stop offset="0.3274" stop-color="#0d0dff"/><stop offset="0.3301" stop-color="#0000fc"/><stop offset="0.3356" stop-color="#0000e6"/><stop offset="0.3384" stop-color="#0000d2"/><stop offset="0.3411" stop-color="#0000c8"/><stop offset="0.4096" stop-color="#0000c9"/><stop offset="0.4123" stop-color="#0000ce"/><stop offset="0.4151" stop-color="#0000ee"/><stop offset="0.4178" stop-color="#544bfc"/><stop offset="0.4205" stop-color="#9383f5"/><stop offset="0.4233" stop-color="#b2abf5"/><stop offset="0.426" stop-color="#c7c9f5"/><stop offset="0.4315" stop-color="#eff2fa"/><stop offset="0.4342" stop-color="#fff6ec"/><stop offset="0.437" stop-color="#ffdcb6"/><stop offset="0.4397" stop-color="#ffcb94"/><stop offset="0.4425" stop-color="#ffba8f"/><stop offset="0.4452" stop-color="#ffb8a3"/><stop offset="0.4589" stop-color="#ffb9aa"/><stop offset="0.5247" stop-color="#ffb8a7"/><stop offset="0.5274" stop-color="#ffb8a3"/><stop offset="0.5301" stop-color="#ffba90"/><stop offset="0.5329" stop-color="#ffca93"/><stop offset="0.5356" stop-color="#ffdbb3"/><stop offset="0.5384" stop-color="#fff3e6"/><stop offset="0.5411" stop-color="#f2f5fb"/><stop offset="0.5466" stop-color="#caccf5"/><stop offset="0.5493" stop-color="#b5b0f5"/><stop offset="0.5521" stop-color="#9686f5"/><stop offset="0.5548" stop-color="#5a50fc"/><stop offset="0.5575" stop-color="#0000ef"/><stop offset="0.5603" stop-color="#0000ce"/><stop offset="0.5658" stop-color="#0000c9"/><stop offset="0.6288" stop-color="#0000c9"/><stop offset="0.6315" stop-color="#0000ce"/><stop offset="0.6342" stop-color="#0000ef"/><stop offset="0.637" stop-color="#5d52fc"/><stop offset="0.6397" stop-color="#9889f5"/><stop offset="0.6425" stop-color="#b8b4f5"/><stop offset="0.6452" stop-color="#cdd0f5"/><stop offset="0.6507" stop-color="#f7f9fc"/><stop offset="0.6534" stop-color="#ffedda"/><stop offset="0.6562" stop-color="#ffd6aa"/><stop offset="0.6589" stop-color="#ffc58e"/><stop offset="0.6616" stop-color="#ffb897"/><stop offset="0.6644" stop-color="#ffbab1"/><stop offset="0.6753" stop-color="#ffbebc"/><stop offset="0.7466" stop-color="#ffbfbd"/><stop offset="0.7548" stop-color="#ffb9ad"/><stop offset="0.7904" stop-color="#ffb89e"/><stop offset="0.8425" stop-color="#ffb89a"/><stop offset="0.9986" stop-color="#ffb89a"/></linearGradient><linearGradient id="g13" gradientUnits="userSpaceOnUse" x1="56" x2="421"><stop offset="0.00137" stop-color="#a498f5"/><stop offset="0.04795" stop-color="#aba2f5"/><stop offset="0.1301" stop-color="#c7c8f5"/><stop offset="0.1795" stop-color="#caccf5"/><stop offset="0.237" stop-color="#b9b5f5"/><stop offset="0.2863" stop-color="#9484f5"/><stop offset="0.3027" stop-color="#8070f8"/><stop offset="0.3164" stop-color="#4c46fd"/><stop offset="0.3219" stop-color="#3231ff"/><stop offset="0.3274" stop-color="#0d0dff"/><stop offset="0.3301" stop-color="#0000fc"/><stop offset="0.3356" stop-color="#0000e6"/><stop offset="0.3384" stop-color="#0000d2"/><stop offset="0.3411" stop-color="#0000c8"/><stop offset="0.4096" stop-color="#0000c9"/><stop offset="0.4123" stop-color="#0000ce"/><stop offset="0.4151" stop-color="#0000ee"/><stop offset="0.4178" stop-color="#544bfc"/><stop offset="0.4205" stop-color="#9383f5"/><stop offset="0.4233" stop-color="#b2abf5"/><stop offset="0.426" stop-color="#c7c9f5"/><stop offset="0.4315" stop-color="#eff2fa"/><stop offset="0.4342" stop-color="#fff6ec"/><stop offset="0.437" stop-color="#ffdcb6"/><stop offset="0.4397" stop-color="#ffcb94"/><stop offset="0.4425" stop-color="#ffba8f"/><stop offset="0.4452" stop-color="#ffb8a3"/><stop offset="0.4589" stop-color="#ffb9aa"/><stop offset="0.5247" stop-color="#ffb8a7"/><stop offset="0.5274" stop-color="#ffb8a3"/><stop offset="0.5301" stop-color="#ffba90"/><stop offset="0.5329" stop-color="#ffca93"/><stop offset="0.5356" stop-color="#ffdbb3"/><stop offset="0.5384" stop-color="#fff3e6"/><stop offset="0.5411" stop-color="#f2f5fb"/><stop offset="0.5466" stop-color="#caccf5"/><stop offset="0.5493" stop-color="#b5b0f5"/><stop offset="0.5521" stop-color="#9686f5"/><stop offset="0.5548" stop-color="#5a50fc"/><stop offset="0.5575" stop-color="#0000ef"/><stop offset="0.5603" stop-color="#0000ce"/><stop offset="0.5658" stop-color="#0000c9"/><stop offset="0.6288" stop-color="#0000c9"/><stop offset="0.6315" stop-color="#0000ce"/><stop offset="0.6342" stop-color="#0000ef"/><stop offset="0.637" stop-color="#5d52fc"/><stop offset="0.6397" stop-color="#9889f5"/><stop offset="0.6425" stop-color="#b8b4f5"/><stop offset="0.6452" stop-color="#cdd0f5"/><stop offset="0.6507" stop-color="#f7f9fc"/><stop offset="0.6534" stop-color="#ffedda"/><stop offset="0.6562" stop-color="#ffd6aa"/><stop offset="0.6589" stop-color="#ffc58e"/><stop offset="0.6616" stop-color="#ffb897"/><stop offset="0.6644" stop-color="#ffbab1"/><stop offset="0.6753" stop-color="#ffbebc"/><stop offset="0.7466" stop-color="#ffbfbd"/><stop offset="0.7548" stop-color="#ffb9ad"/><stop offset="0.7904" stop-color="#ffb89e"/><stop offset="0.8425" stop-color="#ffb89a"/><stop offset="0.9986" stop-color="#ffb89a"/></linearGradient><linearGradient id="g14" gradientUnits="userSpaceOnUse" x1="56" x2="421"><stop offset="0.00137" stop-color="#a498f5"/><stop offset="0.04795" stop-color="#aba2f5"/><stop offset="0.1301" stop-color="#c7c8f5"/><stop offset="0.1795" stop-color="#caccf5"/><stop offset="0.237" stop-color="#b9b5f5"/><stop offset="0.2863" stop-color="#9484f5"/><stop offset="0.3027" stop-color="#8070f8"/><stop offset="0.3164" stop-color="#4c46fd"/><stop offset="0.3219" stop-color="#3231ff"/><stop offset="0.3274" stop-color="#0d0dff"/><stop offset="0.3301" stop-color="#0000fc"/><stop offset="0.3356" stop-color="#0000e6"/><stop offset="0.3384" stop-color="#0000d2"/><stop offset="0.3411" stop-color="#0000c8"/><stop offset="0.4096" stop-color="#0000c9"/><stop offset="0.4123" stop-color="#0000ce"/><stop offset="0.4151" stop-color="#0000ee"/><stop offset="0.4178" stop-color="#544bfc"/><stop offset="0.4205" stop-color="#9383f5"/><stop offset="0.4233" stop-color="#b2abf5"/><stop offset="0.426" stop-color="#c7c9f5"/><stop offset="0.4315" stop-color="#eff2fa"/><stop offset="0.4342" stop-color="#fff6ec"/><stop offset="0.437" stop-color="#ffdcb6"/><stop offset="0.4397" stop-color="#ffcb94"/><stop offset="0.4425" stop-color="#ffba8f"/><stop offset="0.4452" stop-color="#ffb8a3"/><stop offset="0.4589" stop-color="#ffb9aa"/><stop offset="0.5247" stop-color="#ffb8a7"/><stop offset="0.5274" stop-color="#ffb8a3"/><stop offset="0.5301" stop-color="#ffba90"/><stop offset="0.5329" stop-color="#ffca93"/><stop offset="0.5356" stop-color="#ffdbb3"/><stop offset="0.5384" stop-color="#fff3e6"/><stop offset="0.5411" stop-color="#f2f5fb"/><stop offset="0.5466" stop-color="#caccf5"/><stop offset="0.5493" stop-color="#b5b0f5"/><stop offset="0.5521" stop-color="#9686f5"/><stop offset="0.5548" stop-color="#5a50fc"/><stop offset="0.5575" stop-color="#0000ef"/><stop offset="0.5603" stop-color="#0000ce"/><stop offset="0.5658" stop-color="#0000c9"/><stop offset="0.6288" stop-color="#0000c9"/><stop offset="0.6315" stop-color="#0000ce"/><stop offset="0.6342" stop-color="#0000ef"/><stop offset="0.637" stop-color="#5d52fc"/><stop offset="0.6397" stop-color="#9889f5"/><stop offset="0.6425" stop-color="#b8b4f5"/><stop offset="0.6452" stop-color="#cdd0f5"/><stop offset="0.6507" stop-color="#f7f9fc"/><stop offset="0.6534" stop-color="#ffedda"/><stop offset="0.6562" stop-color="#ffd6aa"/><stop offset="0.6589" stop-color="#ffc58e"/><stop offset="0.6616" stop-color="#ffb897"/><stop offset="0.6644" stop-color="#ffbab1"/><stop offset="0.6753" stop-color="#ffbebc"/><stop offset="0.7466" stop-color="#ffbfbd"/><stop offset="0.7548" stop-color="#ffb9ad"/><stop offset="0.7904" stop-color="#ffb89e"/><stop offset="0.8616" stop-color="#ffb89a"/><stop offset="0.9986" stop-color="#ffb89a"/></linearGradient><linearGradient id="g15" gradientUnits="userSpaceOnUse" x1="56" x2="421"><stop offset="0.00137" stop-color="#a498f5"/><stop offset="0.04795" stop-color="#aba2f5"/><stop offset="0.1301" stop-color="#c7c8f5"/><stop offset="0.1795" stop-color="#caccf5"/><stop offset="0.237" stop-color="#b9b5f5"/><stop offset="0.2863" stop-color="#9484f5"/><stop offset="0.3027" stop-color="#8070f8"/><stop offset="0.3164" stop-color="#4c46fd"/><stop offset="0.3219" stop-color="#3231ff"/><stop offset="0.3274" stop-color="#0d0dff"/><stop offset="0.3301" stop-color="#0000fc"/><stop offset="0.3356" stop-color="#0000e6"/><stop offset="0.3384" stop-color="#0000d2"/><stop offset="0.3411" stop-color="#0000c8"/><stop offset="0.4096" stop-color="#0000c9"/><stop offset="0.4123" stop-color="#0000ce"/><stop offset="0.4151" stop-color="#0000ee"/><stop offset="0.4178" stop-color="#544bfc"/><stop offset="0.4205" stop-color="#9383f5"/><stop offset="0.4233" stop-color="#b2abf5"/><stop offset="0.426" stop-color="#c7c9f5"/><stop offset="0.4315" stop-color="#eff2fa"/><stop offset="0.4342" stop-color="#fff6ec"/><stop offset="0.437" stop-color="#ffdcb6"/><stop offset="0.4397" stop-color="#ffcb94"/><stop offset="0.4425" stop-color="#ffba8f"/><stop offset="0.4452" stop-color="#ffb8a3"/><stop offset="0.4589" stop-color="#ffb9aa"/><stop offset="0.5247" stop-color="#ffb8a7"/><stop offset="0.5274" stop-color="#ffb8a3"/><stop offset="0.5301" stop-color="#ffba90"/><stop offset="0.5329" stop-color="#ffca93"/><stop offset="0.5356" stop-color="#ffdbb3"/><stop offset="0.5384" stop-color="#fff3e6"/><stop offset="0.5411" stop-color="#f2f5fb"/><stop offset="0.5466" stop-color="#caccf5"/><stop offset="0.5493" stop-color="#b5b0f5"/><stop offset="0.5521" stop-color="#9686f5"/><stop offset="0.5548" stop-color="#5a50fc"/><stop offset="0.5575" stop-color="#0000ef"/><stop offset="0.5603" stop-color="#0000ce"/><stop offset="0.5658" stop-color="#0000c9"/><stop offset="0.6288" stop-color="#0000c9"/><stop offset="0.6315" stop-color="#0000ce"/><stop offset="0.6342" stop-color="#0000ef"/><stop offset="0.637" stop-color="#5d52fc"/><stop offset="0.6397" stop-color="#9889f5"/><stop offset="0.6425" stop-color="#b8b4f5"/><stop offset="0.6452" stop-color="#cdd0f5"/><stop offset="0.6507" stop-color="#f7f9fc"/><stop offset="0.6534" stop-color="#ffedda"/><stop offset="0.6562" stop-color="#ffd6aa"/><stop offset="0.6589" stop-color="#ffc58e"/><stop offset="0.6616" stop-color="#ffb897"/><stop offset="0.6644" stop-color="#ffbab1"/><stop offset="0.6753" stop-color="#ffbebc"/><stop offset="0.7466" stop-color="#ffbfbd"/><stop offset="0.7548" stop-color="#ffb9ad"/><stop offset="0.7904" stop-color="#ffb89e"/><stop offset="0.8616" stop-color="#ffb89a"/><stop offset="0.9986" stop-color="#ffb89a"/></linearGradient><linearGradient id="g16" gradientUnits="userSpaceOnUse" x1="56" x2="421"><stop offset="0.00137" stop-color="#a498f5"/><stop offset="0.04795" stop-color="#aba2f5"/><stop offset="0.1301" stop-color="#c7c8f5"/><stop offset="0.1795" stop-color="#caccf5"/><stop offset="0.237" stop-color="#b9b5f5"/><stop offset="0.2863" stop-color="#9484f5"/><stop offset="0.3027" stop-color="#8070f8"/><stop offset="0.3164" stop-color="#4c46fd"/><stop offset="0.3219" stop-color="#3231ff"/><stop offset="0.3274" stop-color="#0d0dff"/><stop offset="0.3301" stop-color="#0000fc"/><stop offset="0.3356" stop-color="#0000e6"/><stop offset="0.3384" stop-color="#0000d2"/><stop offset="0.3411" stop-color="#0000c8"/><stop offset="0.4096" stop-color="#0000c9"/><stop offset="0.4123" stop-color="#0000ce"/><stop offset="0.4151" stop-color="#0000ee"/><stop offset="0.4178" stop-color="#544bfc"/><stop offset="0.4205" stop-color="#9383f5"/><stop offset="0.4233" stop-color="#b2abf5"/><stop offset="0.426" stop-color="#c7c9f5"/><stop offset="0.4315" stop-color="#eff2fa"/><stop offset="0.4342" stop-color="#fff6ec"/><stop offset="0.437" stop-color="#ffdcb6"/><stop offset="0.4397" stop-color="#ffcb94"/><stop offset="0.4425" stop-color="#ffba8f"/><stop offset="0.4452" stop-color="#ffb8a3"/><stop offset="0.4589" stop-color="#ffb9aa"/><stop offset="0.5247" stop-color="#ffb8a7"/><stop offset="0.5274" stop-color="#ffb8a3"/><stop offset="0.5301" stop-color="#ffba90"/><stop offset="0.5329" stop-color="#ffca93"/><stop offset="0.5356" stop-color="#ffdbb3"/><stop offset="0.5384" stop-color="#fff3e6"/><stop offset="0.5411" stop-color="#f2f5fb"/><stop offset="0.5466" stop-color="#caccf5"/><stop offset="0.5493" stop-color="#b5b0f5"/><stop offset="0.5521" stop-color="#9686f5"/><stop offset="0.5548" stop-color="#5a50fc"/><stop offset="0.5575" stop-color="#0000ef"/><stop offset="0.5603" stop-color="#0000ce"/><stop offset="0.5658" stop-color="#0000c9"/><stop offset="0.6288" stop-color="#0000c9"/><stop offset="0.6315" stop-color="#0000ce"/><stop offset="0.6342" stop-color="#0000ef"/><stop offset="0.637" stop-color="#5d52fc"/><stop offset="0.6397" stop-color="#9889f5"/><stop offset="0.6425" stop-color="#b8b4f5"/><stop offset="0.6452" stop-color="#cdd0f5"/><stop offset="0.6507" stop-color="#f7f9fc"/><stop offset="0.6534" stop-color="#ffedda"/><stop offset="0.6562" stop-color="#ffd6aa"/><stop offset="0.6589" stop-color="#ffc58e"/><stop offset="0.6616" stop-color="#ffb897"/><stop offset="0.6644" stop-color="#ffbab1"/><stop offset="0.6753" stop-color="#ffbebc"/><stop offset="0.7466" stop-color="#ffbfbd"/><stop offset="0.7548" stop-color="#ffb9ad"/><stop offset="0.7904" stop-color="#ffb89e"/><stop offset="0.8808" stop-color="#ffb89a"/><stop offset="0.9986" stop-color="#ffb89a"/></linearGradient><linearGradient id="g17" gradientUnits="userSpaceOnUse" x1="56" x2="421"><stop offset="0.00137" stop-color="#a498f5"/><stop offset="0.04795" stop-color="#aba2f5"/><stop offset="0.1301" stop-color="#c7c8f5"/><stop offset="0.1795" stop-color="#caccf5"/><stop offset="0.237" stop-color="#b9b5f5"/><stop offset="0.2863" stop-color="#9484f5"/><stop offset="0.3027" stop-color="#8070f8"/><stop offset="0.3164" stop-color="#4c46fd"/><stop offset="0.3219" stop-color="#3231ff"/><stop offset="0.3274" stop-color="#0d0dff"/><stop offset="0.3301" stop-color="#0000fc"/><stop offset="0.3356" stop-color="#0000e6"/><stop offset="0.3384" stop-color="#0000d2"/><stop offset="0.3411" stop-color="#0000c8"/><stop offset="0.4096" stop-color="#0000c9"/><stop offset="0.4123" stop-color="#0000ce"/><stop offset="0.4151" stop-color="#0000ee"/><stop offset="0.4178" stop-color="#544bfc"/><stop offset="0.4205" stop-color="#9383f5"/><stop offset="0.4233" stop-color="#b2abf5"/><stop offset="0.426" stop-color="#c7c9f5"/><stop offset="0.4315" stop-color="#eff2fa"/><stop offset="0.4342" stop-color="#fff6ec"/><stop offset="0.437" stop-color="#ffdcb6"/><stop offset="0.4397" stop-color="#ffcb94"/><stop offset="0.4425" stop-color="#ffba8f"/><stop offset="0.4452" stop-color="#ffb8a3"/><stop offset="0.4589" stop-color="#ffb9aa"/><stop offset="0.5247" stop-color="#ffb8a7"/><stop offset="0.5274" stop-color="#ffb8a3"/><stop offset="0.5301" stop-color="#ffba90"/><stop offset="0.5329" stop-color="#ffca93"/><stop offset="0.5356" stop-color="#ffdbb3"/><stop offset="0.5384" stop-color="#fff3e6"/><stop offset="0.5411" stop-color="#f2f5fb"/><stop offset="0.5466" stop-color="#caccf5"/><stop offset="0.5493" stop-color="#b5b0f5"/><stop offset="0.5521" stop-color="#9686f5"/><stop offset="0.5548" stop-color="#5a50fc"/><stop offset="0.5575" stop-color="#0000ef"/><stop offset="0.5603" stop-color="#0000ce"/><stop offset="0.5658" stop-color="#0000c9"/><stop offset="0.6288" stop-color="#0000c9"/><stop offset="0.6315" stop-color="#0000ce"/><stop offset="0.6342" stop-color="#0000ef"/><stop offset="0.637" stop-color="#5d52fc"/><stop offset="0.6397" stop-color="#9889f5"/><stop offset="0.6425" stop-color="#b8b4f5"/><stop offset="0.6452" stop-color="#cdd0f5"/><stop offset="0.6507" stop-color="#f7f9fc"/><stop offset="0.6534" stop-color="#ffedda"/><stop offset="0.6562" stop-color="#ffd6aa"/><stop offset="0.6589" stop-color="#ffc58e"/><stop offset="0.6616" stop-color="#ffb897"/><stop offset="0.6644" stop-color="#ffbab1"/><stop offset="0.6753" stop-color="#ffbebc"/><stop offset="0.7466" stop-color="#ffbfbd"/><stop offset="0.7548" stop-color="#ffb9ad"/><stop offset="0.7904" stop-color="#ffb89e"/><stop offset="0.8808" stop-color="#ffb89a"/><stop offset="0.9986" stop-color="#ffb89a"/></linearGradient><linearGradient id="g18" gradientUnits="userSpaceOnUse" x1="56" x2="421"><stop offset="0.00137" stop-color="#a498f5"/><stop offset="0.04795" stop-color="#aba2f5"/><stop offset="0.1301" stop-color="#c7c8f5"/><stop offset="0.1795" stop-color="#caccf5"/><stop offset="0.237" stop-color="#b9b5f5"/><stop offset="0.2863" stop-color="#9484f5"/><stop offset="0.3027" stop-color="#8070f8"/><stop offset="0.3164" stop-color="#4c46fd"/><stop offset="0.3219" stop-color="#3231ff"/><stop offset="0.3274" stop-color="#0d0dff"/><stop offset="0.3301" stop-color="#0000fc"/><stop offset="0.3356" stop-color="#0000e6"/><stop offset="0.3384" stop-color="#0000d2"/><stop offset="0.3411" stop-color="#0000c8"/><stop offset="0.4096" stop-color="#0000c9"/><stop offset="0.4123" stop-color="#0000ce"/><stop offset="0.4151" stop-color="#0000ee"/><stop offset="0.4178" stop-color="#544bfc"/><stop offset="0.4205" stop-color="#9383f5"/><stop offset="0.4233" stop-color="#b2abf5"/><stop offset="0.426" stop-color="#c7c9f5"/><stop offset="0.4315" stop-color="#eff2fa"/><stop offset="0.4342" stop-color="#fff6ec"/><stop offset="0.437" stop-color="#ffdcb6"/><stop offset="0.4397" stop-color="#ffcb94"/><stop offset="0.4425" stop-color="#ffba8f"/><stop offset="0.4452" stop-color="#ffb8a3"/><stop offset="0.4589" stop-color="#ffb9aa"/><stop offset="0.5247" stop-color="#ffb8a7"/><stop offset="0.5274" stop-color="#ffb8a3"/><stop offset="0.5301" stop-color="#ffba90"/><stop offset="0.5329" stop-color="#ffca93"/><stop offset="0.5356" stop-color="#ffdbb3"/><stop offset="0.5384" stop-color="#fff3e6"/><stop offset="0.5411" stop-color="#f2f5fb"/><stop offset="0.5466" stop-color="#caccf5"/><stop offset="0.5493" stop-color="#b5b0f5"/><stop offset="0.5521" stop-color="#9686f5"/><stop offset="0.5548" stop-color="#5a50fc"/><stop offset="0.5575" stop-color="#0000ef"/><stop offset="0.5603" stop-color="#0000ce"/><stop offset="0.5658" stop-color="#0000c9"/><stop offset="0.6288" stop-color="#0000c9"/><stop offset="0.6315" stop-color="#0000ce"/><stop offset="0.6342" stop-color="#0000ef"/><stop offset="0.637" stop-color="#5d52fc"/><stop offset="0.6397" stop-color="#9889f5"/><stop offset="0.6425" stop-color="#b8b4f5"/><stop offset="0.6452" stop-color="#cdd0f5"/><stop offset="0.6507" stop-color="#f7f9fc"/><stop offset="0.6534" stop-color="#ffedda"/><stop offset="0.6562" stop-color="#ffd6aa"/><stop offset="0.6589" stop-color="#ffc58e"/><stop offset="0.6616" stop-color="#ffb897"/><stop offset="0.6644" stop-color="#ffbab1"/><stop offset="0.6753" stop-color="#ffbebc"/><stop offset="0.7466" stop-color="#ffbfbd"/><stop offset="0.7548" stop-color="#ffb9ad"/><stop offset="0.7904" stop-color="#ffb89e"/><stop offset="0.9" stop-color="#ffb89a"/><stop offset="0.9986" stop-color="#ffb89a"/></linearGradient><linearGradient id="g19" gradientUnits="userSpaceOnUse" x1="56" x2="421"><stop offset="0.00137" stop-color="#a498f5"/><stop offset="0.04795" stop-color="#aba2f5"/><stop offset="0.1301" stop-color="#c7c8f5"/><stop offset="0.1795" stop-color="#caccf5"/><stop offset="0.237" stop-color="#b9b5f5"/><stop offset="0.2863" stop-color="#9484f5"/><stop offset="0.3027" stop-color="#8070f8"/><stop offset="0.3164" stop-color="#4c46fd"/><stop offset="0.3219" stop-color="#3231ff"/><stop offset="0.3274" stop-color="#0d0dff"/><stop offset="0.3301" stop-color="#0000fc"/><stop offset="0.3356" stop-color="#0000e6"/><stop offset="0.3384" stop-color="#0000d2"/><stop offset="0.3411" stop-color="#0000c8"/><stop offset="0.4096" stop-color="#0000c9"/><stop offset="0.4123" stop-color="#0000ce"/><stop offset="0.4151" stop-color="#0000ee"/><stop offset="0.4178" stop-color="#544bfc"/><stop offset="0.4205" stop-color="#9383f5"/><stop offset="0.4233" stop-color="#b2abf5"/><stop offset="0.426" stop-color="#c7c9f5"/><stop offset="0.4315" stop-color="#eff2fa"/><stop offset="0.4342" stop-color="#fff6ec"/><stop offset="0.437" stop-color="#ffdcb6"/><stop offset="0.4397" stop-color="#ffcb94"/><stop offset="0.4425" stop-color="#ffba8f"/><stop offset="0.4452" stop-color="#ffb8a3"/><stop offset="0.4589" stop-color="#ffb9aa"/><stop offset="0.5247" stop-color="#ffb8a7"/><stop offset="0.5274" stop-color="#ffb8a3"/><stop offset="0.5301" stop-color="#ffba90"/><stop offset="0.5329" stop-color="#ffca93"/><stop offset="0.5356" stop-color="#ffdbb3"/><stop offset="0.5384" stop-color="#fff3e6"/><stop offset="0.5411" stop-color="#f2f5fb"/><stop offset="0.5466" stop-color="#caccf5"/><stop offset="0.5493" stop-color="#b5b0f5"/><stop offset="0.5521" stop-color="#9686f5"/><stop offset="0.5548" stop-color="#5a50fc"/><stop offset="0.5575" stop-color="#0000ef"/><stop offset="0.5603" stop-color="#0000ce"/><stop offset="0.5658" stop-color="#0000c9"/><stop offset="0.6288" stop-color="#0000c9"/><stop offset="0.6315" stop-color="#0000ce"/><stop offset="0.6342" stop-color="#0000ef"/><stop offset="0.637" stop-color="#5d52fc"/><stop offset="0.6397" stop-color="#9889f5"/><stop offset="0.6425" stop-color="#b8b4f5"/><stop offset="0.6452" stop-color="#cdd0f5"/><stop offset="0.6507" stop-color="#f7f9fc"/><stop offset="0.6534" stop-color="#ffedda"/><stop offset="0.6562" stop-color="#ffd6aa"/><stop offset="0.6589" stop-color="#ffc58e"/><stop offset="0.6616" stop-color="#ffb897"/><stop offset="0.6644" stop-color="#ffbab1"/><stop offset="0.6753" stop-color="#ffbebc"/><stop offset="0.7466" stop-color="#ffbfbd"/><stop offset="0.7548" stop-color="#ffb9ad"/><stop offset="0.7904" stop-color="#ffb89e"/><stop offset="0.9" stop-color="#ffb89a"/><stop offset="0.9986" stop-color="#ffb89a"/></linearGradient><linearGradient id="g20" gradientUnits="userSpaceOnUse" x1="56" x2="421"><stop offset="0.00137" stop-color="#a498f5"/><stop offset="0.04795" stop-color="#aba2f5"/><stop offset="0.1301" stop-color="#c7c8f5"/><stop offset="0.1795" stop-color="#caccf5"/><stop offset="0.237" stop-color="#b9b5f5"/><stop offset="0.2863" stop-color="#9484f5"/><stop offset="0.3027" stop-color="#8070f8"/><stop offset="0.3164" stop-color="#4c46fd"/><stop offset="0.3219" stop-color="#3231ff"/><stop offset="0.3274" stop-color="#0d0dff"/><stop offset="0.3301" stop-color="#0000fc"/><stop offset="0.3356" stop-color="#0000e6"/><stop offset="0.3384" stop-color="#0000d2"/><stop offset="0.3411" stop-color="#0000c8"/><stop offset="0.4096" stop-color="#0000c9"/><stop offset="0.4123" stop-color="#0000ce"/><stop offset="0.4151" stop-color="#0000ee"/><stop offset="0.4178" stop-color="#544bfc"/><stop offset="0.4205" stop-color="#9383f5"/><stop offset="0.4233" stop-color="#b2abf5"/><stop offset="0.426" stop-color="#c7c9f5"/><stop offset="0.4315" stop-color="#eff2fa"/><stop offset="0.4342" stop-color="#fff6ec"/><stop offset="0.437" stop-color="#ffdcb6"/><stop offset="0.4397" stop-color="#ffcb94"/><stop offset="0.4425" stop-color="#ffba8f"/><stop offset="0.4452" stop-color="#ffb8a3"/><stop offset="0.4589" stop-color="#ffb9aa"/><stop offset="0.5247" stop-color="#ffb8a7"/><stop offset="0.5274" stop-color="#ffb8a3"/><stop offset="0.5301" stop-color="#ffba90"/><stop offset="0.5329" stop-color="#ffca93"/><stop offset="0.5356" stop-color="#ffdbb3"/><stop offset="0.5384" stop-color="#fff3e6"/><stop offset="0.5411" stop-color="#f2f5fb"/><stop offset="0.5466" stop-color="#caccf5"/><stop offset="0.5493" stop-color="#b5b0f5"/><stop offset="0.5521" stop-color="#9686f5"/><stop offset="0.5548" stop-color="#5a50fc"/><stop offset="0.5575" stop-color="#0000ef"/><stop offset="0.5603" stop-color="#0000ce"/><stop offset="0.5658" stop-color="#0000c9"/><stop offset="0.6288" stop-color="#0000c9"/><stop offset="0.6315" stop-color="#0000ce"/><stop offset="0.6342" stop-color="#0000ef"/><stop offset="0.637" stop-color="#5d52fc"/><stop offset="0.6397" stop-color="#9889f5"/><stop offset="0.6425" stop-color="#b8b4f5"/><stop offset="0.6452" stop-color="#cdd0f5"/><stop offset="0.6507" stop-color="#f7f9fc"/><stop offset="0.6534" stop-color="#ffedda"/><stop offset="0.6562" stop-color="#ffd6aa"/><stop offset="0.6589" stop-color="#ffc58e"/><stop offset="0.6616" stop-color="#ffb897"/><stop offset="0.6644" stop-color="#ffbab1"/><stop offset="0.6753" stop-color="#ffbebc"/><stop offset="0.7055" stop-color="#ffbfbd"/><stop offset="0.7466" stop-color="#ffbfbd"/><stop offset="0.7548" stop-color="#ffb9ad"/><stop offset="0.7904" stop-color="#ffb89e"/><stop offset="0.9274" stop-color="#ffb89a"/><stop offset="0.9986" stop-color="#ffb89a"/></linearGradient><linearGradient id="g21" gradientUnits="userSpaceOnUse" x1="56" x2="421"><stop offset="0.00137" stop-color="#a498f5"/><stop offset="0.04795" stop-color="#aba2f5"/><stop offset="0.1301" stop-color="#c7c8f5"/><stop offset="0.1795" stop-color="#caccf5"/><stop offset="0.237" stop-color="#b9b5f5"/><stop offset="0.2863" stop-color="#9484f5"/><stop offset="0.3027" stop-color="#8070f8"/><stop offset="0.3164" stop-color="#4c46fd"/><stop offset="0.3219" stop-color="#3231ff"/><stop offset="0.3274" stop-color="#0d0dff"/><stop offset="0.3301" stop-color="#0000fc"/><stop offset="0.3356" stop-color="#0000e6"/><stop offset="0.3384" stop-color="#0000d2"/><stop offset="0.3411" stop-color="#0000c8"/><stop offset="0.4096" stop-color="#0000c9"/><stop offset="0.4123" stop-color="#0000ce"/><stop offset="0.4151" stop-color="#0000ee"/><stop offset="0.4178" stop-color="#544bfc"/><stop offset="0.4205" stop-color="#9383f5"/><stop offset="0.4233" stop-color="#b2abf5"/><stop offset="0.426" stop-color="#c7c9f5"/><stop offset="0.4315" stop-color="#eff2fa"/><stop offset="0.4342" stop-color="#fff6ec"/><stop offset="0.437" stop-color="#ffdcb6"/><stop offset="0.4397" stop-color="#ffcb94"/><stop offset="0.4425" stop-color="#ffba8f"/><stop offset="0.4452" stop-color="#ffb8a3"/><stop offset="0.4589" stop-color="#ffb9aa"/><stop offset="0.5247" stop-color="#ffb8a7"/><stop offset="0.5274" stop-color="#ffb8a3"/><stop offset="0.5301" stop-color="#ffba90"/><stop offset="0.5329" stop-color="#ffca93"/><stop offset="0.5356" stop-color="#ffdbb3"/><stop offset="0.5384" stop-color="#fff3e6"/><stop offset="0.5411" stop-color="#f2f5fb"/><stop offset="0.5466" stop-color="#caccf5"/><stop offset="0.5493" stop-color="#b5b0f5"/><stop offset="0.5521" stop-color="#9686f5"/><stop offset="0.5548" stop-color="#5a50fc"/><stop offset="0.5575" stop-color="#0000ef"/><stop offset="0.5603" stop-color="#0000ce"/><stop offset="0.5658" stop-color="#0000c9"/><stop offset="0.6288" stop-color="#0000c9"/><stop offset="0.6315" stop-color="#0000ce"/><stop offset="0.6342" stop-color="#0000ef"/><stop offset="0.637" stop-color="#5d52fc"/><stop offset="0.6397" stop-color="#9889f5"/><stop offset="0.6425" stop-color="#b8b4f5"/><stop offset="0.6452" stop-color="#cdd0f5"/><stop offset="0.6507" stop-color="#f7f9fc"/><stop offset="0.6534" stop-color="#ffedda"/><stop offset="0.6562" stop-color="#ffd6aa"/><stop offset="0.6589" stop-color="#ffc58e"/><stop offset="0.6616" stop-color="#ffb897"/><stop offset="0.6644" stop-color="#ffbab1"/><stop offset="0.6753" stop-color="#ffbebc"/><stop offset="0.7055" stop-color="#ffbfbd"/><stop offset="0.7466" stop-color="#ffbfbd"/><stop offset="0.7548" stop-color="#ffb9ad"/><stop offset="0.7904" stop-color="#ffb89e"/><stop offset="0.9548" stop-color="#ffb89a"/><stop offset="0.9986" stop-color="#ffb89a"/></linearGradient><linearGradient id="g22" gradientUnits="userSpaceOnUse" x1="56" x2="421"><stop offset="0.00137" stop-color="#a498f5"/><stop offset="0.04795" stop-color="#aba2f5"/><stop offset="0.1301" stop-color="#c7c8f5"/><stop offset="0.1795" stop-color="#caccf5"/><stop offset="0.237" stop-color="#b9b5f5"/><stop offset="0.2863" stop-color="#9484f5"/><stop offset="0.3027" stop-color="#8070f8"/><stop offset="0.3164" stop-color="#4c46fd"/><stop offset="0.3219" stop-color="#3231ff"/><stop offset="0.3274" stop-color="#0d0dff"/><stop offset="0.3301" stop-color="#0000fc"/><stop offset="0.3356" stop-color="#0000e6"/><stop offset="0.3384" stop-color="#0000d2"/><stop offset="0.3411" stop-color="#0000c8"/><stop offset="0.4096" stop-color="#0000c9"/><stop offset="0.4123" stop-color="#0000ce"/><stop offset="0.4151" stop-color="#0000ee"/><stop offset="0.4178" stop-color="#544bfc"/><stop offset="0.4205" stop-color="#9383f5"/><stop offset="0.4233" stop-color="#b2abf5"/><stop offset="0.426" stop-color="#c7c9f5"/><stop offset="0.4315" stop-color="#eff2fa"/><stop offset="0.4342" stop-color="#fff6ec"/><stop offset="0.437" stop-color="#ffdcb6"/><stop offset="0.4397" stop-color="#ffcb94"/><stop offset="0.4425" stop-color="#ffba8f"/><stop offset="0.4452" stop-color="#ffb8a3"/><stop offset="0.4589" stop-color="#ffb9aa"/><stop offset="0.5247" stop-color="#ffb8a7"/><stop offset="0.5274" stop-color="#ffb8a3"/><stop offset="0.5301" stop-color="#ffba90"/><stop offset="0.5329" stop-color="#ffca93"/><stop offset="0.5356" stop-color="#ffdbb3"/><stop offset="0.5384" stop-color="#fff3e6"/><stop offset="0.5411" stop-color="#f2f5fb"/><stop offset="0.5466" stop-color="#caccf5"/><stop offset="0.5493" stop-color="#b5b0f5"/><stop offset="0.5521" stop-color="#9686f5"/><stop offset="0.5548" stop-color="#5a50fc"/><stop offset="0.5575" stop-color="#0000ef"/><stop offset="0.5603" stop-color="#0000ce"/><stop offset="0.5658" stop-color="#0000c9"/><stop offset="0.6288" stop-color="#0000c9"/><stop offset="0.6315" stop-color="#0000ce"/><stop offset="0.6342" stop-color="#0000ef"/><stop offset="0.637" stop-color="#5d52fc"/><stop offset="0.6397" stop-color="#9889f5"/><stop offset="0.6425" stop-color="#b8b4f5"/><stop offset="0.6452" stop-color="#cdd0f5"/><stop offset="0.6507" stop-color="#f7f9fc"/><stop offset="0.6534" stop-color="#ffedda"/><stop offset="0.6562" stop-color="#ffd6aa"/><stop offset="0.6589" stop-color="#ffc58e"/><stop offset="0.6616" stop-color="#ffb897"/><stop offset="0.6644" stop-color="#ffbab1"/><stop offset="0.6753" stop-color="#ffbebc"/><stop offset="0.7055" stop-color="#ffbfbd"/><stop offset="0.7466" stop-color="#ffbfbd"/><stop offset="0.7548" stop-color="#ffb9ad"/><stop offset="0.7904" stop-color="#ffb89e"/><stop offset="0.9822" stop-color="#ffb89a"/><stop offset="0.9986" stop-color="#ffb89a"/></linearGradient><linearGradient id="g23" gradientUnits="userSpaceOnUse" x1="56" x2="421"><stop offset="0.00137" stop-color="#a498f5"/><stop offset="0.04795" stop-color="#aba2f5"/><stop offset="0.1301" stop-color="#c7c8f5"/><stop offset="0.1795" stop-color="#caccf5"/><stop offset="0.237" stop-color="#b9b5f5"/><stop offset="0.2863" stop-color="#9484f5"/><stop offset="0.3027" stop-color="#8070f8"/><stop offset="0.3164" stop-color="#4c46fd"/><stop offset="0.3219" stop-color="#3231ff"/><stop offset="0.3274" stop-color="#0d0dff"/><stop offset="0.3301" stop-color="#0000fc"/><stop offset="0.3356" stop-color="#0000e6"/><stop offset="0.3384" stop-color="#0000d2"/><stop offset="0.3411" stop-color="#0000c8"/><stop offset="0.4096" stop-color="#0000c9"/><stop offset="0.4123" stop-color="#0000ce"/><stop offset="0.4151" stop-color="#0000ee"/><stop offset="0.4178" stop-color="#544bfc"/><stop offset="0.4205" stop-color="#9383f5"/><stop offset="0.4233" stop-color="#b2abf5"/><stop offset="0.426" stop-color="#c7c9f5"/><stop offset="0.4315" stop-color="#eff2fa"/><stop offset="0.4342" stop-color="#fff6ec"/><stop offset="0.437" stop-color="#ffdcb6"/><stop offset="0.4397" stop-color="#ffcb94"/><stop offset="0.4425" stop-color="#ffba8f"/><stop offset="0.4452" stop-color="#ffb8a3"/><stop offset="0.4589" stop-color="#ffb9aa"/><stop offset="0.5247" stop-color="#ffb8a7"/><stop offset="0.5274" stop-color="#ffb8a3"/><stop offset="0.5301" stop-color="#ffba90"/><stop offset="0.5329" stop-color="#ffca93"/><stop offset="0.5356" stop-color="#ffdbb3"/><stop offset="0.5384" stop-color="#fff3e6"/><stop offset="0.5411" stop-color="#f2f5fb"/><stop offset="0.5466" stop-color="#caccf5"/><stop offset="0.5493" stop-color="#b5b0f5"/><stop offset="0.5521" stop-color="#9686f5"/><stop offset="0.5548" stop-color="#5a50fc"/><stop offset="0.5575" stop-color="#0000ef"/><stop offset="0.5603" stop-color="#0000ce"/><stop offset="0.5658" stop-color="#0000c9"/><stop offset="0.6288" stop-color="#0000c9"/><stop offset="0.6315" stop-color="#0000ce"/><stop offset="0.6342" stop-color="#0000ef"/><stop offset="0.637" stop-color="#5d52fc"/><stop offset="0.6397" stop-color="#9889f5"/><stop offset="0.6425" stop-color="#b8b4f5"/><stop offset="0.6452" stop-color="#cdd0f5"/><stop offset="0.6507" stop-color="#f7f9fc"/><stop offset="0.6534" stop-color="#ffedda"/><stop offset="0.6562" stop-color="#ffd6aa"/><stop offset="0.6589" stop-color="#ffc58e"/><stop offset="0.6616" stop-color="#ffb897"/><stop offset="0.6644" stop-color="#ffbab1"/><stop offset="0.6753" stop-color="#ffbebc"/><stop offset="0.7055" stop-color="#ffbebc"/><stop offset="0.7466" stop-color="#ffbfbd"/><stop offset="0.7548" stop-color="#ffb9ad"/><stop offset="0.7904" stop-color="#ffb89e"/><stop offset="0.9986" stop-color="#ffb89a"/></linearGradient><linearGradient id="g24" gradientUnits="userSpaceOnUse" x1="56" x2="421"><stop offset="0.00137" stop-color="#a498f5"/><stop offset="0.04795" stop-color="#aba2f5"/><stop offset="0.1301" stop-color="#c7c8f5"/><stop offset="0.1795" stop-color="#caccf5"/><stop offset="0.237" stop-color="#b9b5f5"/><stop offset="0.2863" stop-color="#9484f5"/><stop offset="0.3027" stop-color="#8070f8"/><stop offset="0.3164" stop-color="#4c46fd"/><stop offset="0.3219" stop-color="#3231ff"/><stop offset="0.3274" stop-color="#0d0dff"/><stop offset="0.3301" stop-color="#0000fc"/><stop offset="0.3356" stop-color="#0000e6"/><stop offset="0.3384" stop-color="#0000d2"/><stop offset="0.3411" stop-color="#0000c8"/><stop offset="0.4096" stop-color="#0000c9"/><stop offset="0.4123" stop-color="#0000ce"/><stop offset="0.4151" stop-color="#0000ee"/><stop offset="0.4178" stop-color="#544bfc"/><stop offset="0.4205" stop-color="#9383f5"/><stop offset="0.4233" stop-color="#b2abf5"/><stop offset="0.426" stop-color="#c7c9f5"/><stop offset="0.4315" stop-color="#eff2fa"/><stop offset="0.4342" stop-color="#fff6ec"/><stop offset="0.437" stop-color="#ffdcb6"/><stop offset="0.4397" stop-color="#ffcb94"/><stop offset="0.4425" stop-color="#ffba8f"/><stop offset="0.4452" stop-color="#ffb8a3"/><stop offset="0.4589" stop-color="#ffb9aa"/><stop offset="0.5247" stop-color="#ffb8a7"/><stop offset="0.5274" stop-color="#ffb8a3"/><stop offset="0.5301" stop-color="#ffba90"/><stop offset="0.5329" stop-color="#ffca93"/><stop offset="0.5356" stop-color="#ffdbb3"/><stop offset="0.5384" stop-color="#fff3e6"/><stop offset="0.5411" stop-color="#f2f5fb"/><stop offset="0.5466" stop-color="#caccf5"/><stop offset="0.5493" stop-color="#b5b0f5"/><stop offset="0.5521" stop-color="#9686f5"/><stop offset="0.5548" stop-color="#5a50fc"/><stop offset="0.5575" stop-color="#0000ef"/><stop offset="0.5603" stop-color="#0000ce"/><stop offset="0.5658" stop-color="#0000c9"/><stop offset="0.6288" stop-color="#0000c9"/><stop offset="0.6315" stop-color="#0000ce"/><stop offset="0.6342" stop-color="#0000ef"/><stop offset="0.637" stop-color="#5d52fc"/><stop offset="0.6397" stop-color="#9889f5"/><stop offset="0.6425" stop-color="#b8b4f5"/><stop offset="0.6452" stop-color="#cdd0f5"/><stop offset="0.6507" stop-color="#f7f9fc"/><stop offset="0.6534" stop-color="#ffedda"/><stop offset="0.6562" stop-color="#ffd6aa"/><stop offset="0.6589" stop-color="#ffc58e"/><stop offset="0.6616" stop-color="#ffb897"/><stop offset="0.6644" stop-color="#ffbab1"/><stop offset="0.6753" stop-color="#ffbebc"/><stop offset="0.7466" stop-color="#ffbfbd"/><stop offset="0.7548" stop-color="#ffb9ad"/><stop offset="0.7904" stop-color="#ffb89e"/><stop offset="0.9986" stop-color="#ffb89a"/></linearGradient><linearGradient id="g25" gradientUnits="userSpaceOnUse" x1="56" x2="421"><stop offset="0.00137" stop-color="#a498f5"/><stop offset="0.04795" stop-color="#aba2f5"/><stop offset="0.1301" stop-color="#c7c8f5"/><stop offset="0.1795" stop-color="#caccf5"/><stop offset="0.237" stop-color="#b9b5f5"/><stop offset="0.2863" stop-color="#9484f5"/><stop offset="0.3027" stop-color="#8070f8"/><stop offset="0.3164" stop-color="#4c46fd"/><stop offset="0.3219" stop-color="#3231ff"/><stop offset="0.3274" stop-color="#0d0dff"/><stop offset="0.3301" stop-color="#0000fc"/><stop offset="0.3356" stop-color="#0000e6"/><stop offset="0.3384" stop-color="#0000d2"/><stop offset="0.3411" stop-color="#0000c8"/><stop offset="0.4096" stop-color="#0000c9"/><stop offset="0.4123" stop-color="#0000ce"/><stop offset="0.4151" stop-color="#0000ee"/><stop offset="0.4178" stop-color="#544bfc"/><stop offset="0.4205" stop-color="#9383f5"/><stop offset="0.4233" stop-color="#b2abf5"/><stop offset="0.426" stop-color="#c7c9f5"/><stop offset="0.4315" stop-color="#eff2fa"/><stop offset="0.4342" stop-color="#fff6ec"/><stop offset="0.437" stop-color="#ffdcb6"/><stop offset="0.4397" stop-color="#ffcb94"/><stop offset="0.4425" stop-color="#ffba8f"/><stop offset="0.4452" stop-color="#ffb8a3"/><stop offset="0.4589" stop-color="#ffb9aa"/><stop offset="0.5247" stop-color="#ffb8a7"/><stop offset="0.5274" stop-color="#ffb8a3"/><stop offset="0.5301" stop-color="#ffba90"/><stop offset="0.5329" stop-color="#ffca93"/><stop offset="0.5356" stop-color="#ffdbb3"/><stop offset="0.5384" stop-color="#fff3e6"/><stop offset="0.5411" stop-color="#f2f5fb"/><stop offset="0.5466" stop-color="#caccf5"/><stop offset="0.5493" stop-color="#b5b0f5"/><stop offset="0.5521" stop-color="#9686f5"/><stop offset="0.5548" stop-color="#5a50fc"/><stop offset="0.5575" stop-color="#0000ef"/><stop offset="0.5603" stop-color="#0000ce"/><stop offset="0.5658" stop-color="#0000c9"/><stop offset="0.6288" stop-color="#0000c9"/><stop offset="0.6315" stop-color="#0000ce"/><stop offset="0.6342" stop-color="#0000ef"/><stop offset="0.637" stop-color="#5d52fc"/><stop offset="0.6397" stop-color="#9889f5"/><stop offset="0.6425" stop-color="#b8b4f5"/><stop offset="0.6452" stop-color="#cdd0f5"/><stop offset="0.6507" stop-color="#f7f9fc"/><stop offset="0.6534" stop-color="#ffedda"/><stop offset="0.6562" stop-color="#ffd6aa"/><stop offset="0.6589" stop-color="#ffc58e"/><stop offset="0.6616" stop-color="#ffb897"/><stop offset="0.6644" stop-color="#ffbab1"/><stop offset="0.6753" stop-color="#ffbebc"/><stop offset="0.7466" stop-color="#ffbfbd"/><stop offset="0.7548" stop-color="#ffb9ad"/><stop offset="0.7904" stop-color="#ffb89e"/><stop offset="0.9986" stop-color="#ffb89a"/></linearGradient><linearGradient id="g26" gradientUnits="userSpaceOnUse" x1="56" x2="421"><stop offset="0.00137" stop-color="#a498f5"/><stop offset="0.04795" stop-color="#aba2f5"/><stop offset="0.1301" stop-color="#c7c8f5"/><stop offset="0.1795" stop-color="#caccf5"/><stop offset="0.237" stop-color="#b9b5f5"/><stop offset="0.2863" stop-color="#9484f5"/><stop offset="0.3027" stop-color="#8070f8"/><stop offset="0.3164" stop-color="#4c46fd"/><stop offset="0.3219" stop-color="#3231ff"/><stop offset="0.3274" stop-color="#0d0dff"/><stop offset="0.3301" stop-color="#0000fc"/><stop offset="0.3356" stop-color="#0000e6"/><stop offset="0.3384" stop-color="#0000d2"/><stop offset="0.3411" stop-color="#0000c8"/><stop offset="0.4096" stop-color="#0000c9"/><stop offset="0.4123" stop-color="#0000ce"/><stop offset="0.4151" stop-color="#0000ee"/><stop offset="0.4178" stop-color="#544bfc"/><stop offset="0.4205" stop-color="#9383f5"/><stop offset="0.4233" stop-color="#b2abf5"/><stop offset="0.426" stop-color="#c7c9f5"/><stop offset="0.4315" stop-color="#eff2fa"/><stop offset="0.4342" stop-color="#fff6ec"/><stop offset="0.437" stop-color="#ffdcb6"/><stop offset="0.4397" stop-color="#ffcb94"/><stop offset="0.4425" stop-color="#ffba8f"/><stop offset="0.4452" stop-color="#ffb8a3"/><stop offset="0.4589" stop-color="#ffb9aa"/><stop offset="0.5247" stop-color="#ffb8a7"/><stop offset="0.5274" stop-color="#ffb8a3"/><stop offset="0.5301" stop-color="#ffba90"/><stop offset="0.5329" stop-color="#ffca93"/><stop offset="0.5356" stop-color="#ffdbb3"/><stop offset="0.5384" stop-color="#fff3e6"/><stop offset="0.5411" stop-color="#f2f5fb"/><stop offset="0.5466" stop-color="#caccf5"/><stop offset="0.5493" stop-color="#b5b0f5"/><stop offset="0.5521" stop-color="#9686f5"/><stop offset="0.5548" stop-color="#5a50fc"/><stop offset="0.5575" stop-color="#0000ef"/><stop offset="0.5603" stop-color="#0000ce"/><stop offset="0.5658" stop-color="#0000c9"/><stop offset="0.6288" stop-color="#0000c9"/><stop offset="0.6315" stop-color="#0000ce"/><stop offset="0.6342" stop-color="#0000ef"/><stop offset="0.637" stop-color="#5d52fc"/><stop offset="0.6397" stop-color="#9889f5"/><stop offset="0.6425" stop-color="#b8b4f5"/><stop offset="0.6452" stop-color="#cdd0f5"/><stop offset="0.6507" stop-color="#f7f9fc"/><stop offset="0.6534" stop-color="#ffedda"/><stop offset="0.6562" stop-color="#ffd6aa"/><stop offset="0.6589" stop-color="#ffc58e"/><stop offset="0.6616" stop-color="#ffb897"/><stop offset="0.6644" stop-color="#ffbab1"/><stop offset="0.6753" stop-color="#ffbebc"/><stop offset="0.7466" stop-color="#ffbfbd"/><stop offset="0.7548" stop-color="#ffb9ad"/><stop offset="0.7904" stop-color="#ffb89e"/><stop offset="0.9986" stop-color="#ffb899"/></linearGradient><linearGradient id="g27" gradientUnits="userSpaceOnUse" x1="56" x2="421"><stop offset="0.00137" stop-color="#a498f5"/><stop offset="0.04795" stop-color="#aba2f5"/><stop offset="0.1301" stop-color="#c7c8f5"/><stop offset="0.1795" stop-color="#caccf5"/><stop offset="0.237" stop-color="#b9b5f5"/><stop offset="0.2863" stop-color="#9484f5"/><stop offset="0.3027" stop-color="#8070f8"/><stop offset="0.3164" stop-color="#4c46fd"/><stop offset="0.3219" stop-color="#3231ff"/><stop offset="0.3274" stop-color="#0d0dff"/><stop offset="0.3301" stop-color="#0000fc"/><stop offset="0.3356" stop-color="#0000e6"/><stop offset="0.3384" stop-color="#0000d2"/><stop offset="0.3411" stop-color="#0000c8"/><stop offset="0.4096" stop-color="#0000c9"/><stop offset="0.4123" stop-color="#0000ce"/><stop offset="0.4151" stop-color="#0000ee"/><stop offset="0.4178" stop-color="#544bfc"/><stop offset="0.4205" stop-color="#9383f5"/><stop offset="0.4233" stop-color="#b2abf5"/><stop offset="0.426" stop-color="#c7c9f5"/><stop offset="0.4315" stop-color="#eff2fa"/><stop offset="0.4342" stop-color="#fff6ec"/><stop offset="0.437" stop-color="#ffdcb6"/><stop offset="0.4397" stop-color="#ffcb94"/><stop offset="0.4425" stop-color="#ffba8f"/><stop offset="0.4452" stop-color="#ffb8a3"/><stop offset="0.4589" stop-color="#ffb9aa"/><stop offset="0.5247" stop-color="#ffb8a7"/><stop offset="0.5274" stop-color="#ffb8a3"/><stop offset="0.5301" stop-color="#ffba90"/><stop offset="0.5329" stop-color="#ffca93"/><stop offset="0.5356" stop-color="#ffdbb3"/><stop offset="0.5384" stop-color="#fff3e6"/><stop offset="0.5411" stop-color="#f2f5fb"/><stop offset="0.5466" stop-color="#caccf5"/><stop offset="0.5493" stop-color="#b5b0f5"/><stop offset="0.5521" stop-color="#9686f5"/><stop offset="0.5548" stop-color="#5a50fc"/><stop offset="0.5575" stop-color="#0000ef"/><stop offset="0.5603" stop-color="#0000ce"/><stop offset="0.5658" stop-color="#0000c9"/><stop offset="0.6288" stop-color="#0000c9"/><stop offset="0.6315" stop-color="#0000ce"/><stop offset="0.6342" stop-color="#0000ef"/><stop offset="0.637" stop-color="#5d52fc"/><stop offset="0.6397" stop-color="#9889f5"/><stop offset="0.6425" stop-color="#b8b4f5"/><stop offset="0.6452" stop-color="#cdd0f5"/><stop offset="0.6507" stop-color="#f7f9fc"/><stop offset="0.6534" stop-color="#ffedda"/><stop offset="0.6562" stop-color="#ffd6aa"/><stop offset="0.6589" stop-color="#ffc58e"/><stop offset="0.6616" stop-color="#ffb897"/><stop offset="0.6644" stop-color="#ffbab1"/><stop offset="0.6753" stop-color="#ffbebc"/><stop offset="0.7466" stop-color="#ffbfbd"/><stop offset="0.7548" stop-color="#ffb9ad"/><stop offset="0.7904" stop-color="#ffb89e"/><stop offset="0.9986" stop-color="#ffb899"/></linearGradient><linearGradient id="g28" gradientUnits="userSpaceOnUse" x1="56" x2="421"><stop offset="0.00137" stop-color="#a498f5"/><stop offset="0.04795" stop-color="#aba2f5"/><stop offset="0.1301" stop-color="#c7c8f5"/><stop offset="0.1795" stop-color="#caccf5"/><stop offset="0.237" stop-color="#b9b5f5"/><stop offset="0.2863" stop-color="#9484f5"/><stop offset="0.3027" stop-color="#8070f8"/><stop offset="0.3164" stop-color="#4c46fd"/><stop offset="0.3219" stop-color="#3231ff"/><stop offset="0.3274" stop-color="#0d0dff"/><stop offset="0.3301" stop-color="#0000fc"/><stop offset="0.3356" stop-color="#0000e6"/><stop offset="0.3384" stop-color="#0000d2"/><stop offset="0.3411" stop-color="#0000c8"/><stop offset="0.4096" stop-color="#0000c9"/><stop offset="0.4123" stop-color="#0000ce"/><stop offset="0.4151" stop-color="#0000ee"/><stop offset="0.4178" stop-color="#544bfc"/><stop offset="0.4205" stop-color="#9383f5"/><stop offset="0.4233" stop-color="#b2abf5"/><stop offset="0.426" stop-color="#c7c9f5"/><stop offset="0.4315" stop-color="#eff2fa"/><stop offset="0.4342" stop-color="#fff6ec"/><stop offset="0.437" stop-color="#ffdcb6"/><stop offset="0.4397" stop-color="#ffcb94"/><stop offset="0.4425" stop-color="#ffba8f"/><stop offset="0.4452" stop-color="#ffb8a3"/><stop offset="0.4589" stop-color="#ffb9a9"/><stop offset="0.5247" stop-color="#ffb8a7"/><stop offset="0.5274" stop-color="#ffb8a3"/><stop offset="0.5301" stop-color="#ffba90"/><stop offset="0.5329" stop-color="#ffca93"/><stop offset="0.5356" stop-color="#ffdbb3"/><stop offset="0.5384" stop-color="#fff3e6"/><stop offset="0.5411" stop-color="#f2f5fb"/><stop offset="0.5466" stop-color="#caccf5"/><stop offset="0.5493" stop-color="#b5b0f5"/><stop offset="0.5521" stop-color="#9686f5"/><stop offset="0.5548" stop-color="#5a50fc"/><stop offset="0.5575" stop-color="#0000ef"/><stop offset="0.5603" stop-color="#0000ce"/><stop offset="0.5658" stop-color="#0000c9"/><stop offset="0.6288" stop-color="#0000c9"/><stop offset="0.6315" stop-color="#0000ce"/><stop offset="0.6342" stop-color="#0000ef"/><stop offset="0.637" stop-color="#5d52fc"/><stop offset="0.6397" stop-color="#9889f5"/><stop offset="0.6425" stop-color="#b8b4f5"/><stop offset="0.6452" stop-color="#cdd0f5"/><stop offset="0.6507" stop-color="#f7f9fc"/><stop offset="0.6534" stop-color="#ffedda"/><stop offset="0.6562" stop-color="#ffd6aa"/><stop offset="0.6589" stop-color="#ffc58e"/><stop offset="0.6616" stop-color="#ffb897"/><stop offset="0.6644" stop-color="#ffbab1"/><stop offset="0.6726" stop-color="#ffbebc"/><stop offset="0.7466" stop-color="#ffbfbd"/><stop offset="0.7548" stop-color="#ffb9ad"/><stop offset="0.7904" stop-color="#ffb89e"/><stop offset="0.9986" stop-color="#ffb899"/></linearGradient><linearGradient id="g29" gradientUnits="userSpaceOnUse" x1="56" x2="421"><stop offset="0.00137" stop-color="#a498f5"/><stop offset="0.04795" stop-color="#aba2f5"/><stop offset="0.1301" stop-color="#c7c8f5"/><stop offset="0.1795" stop-color="#caccf5"/><stop offset="0.237" stop-color="#b9b5f5"/><stop offset="0.2863" stop-color="#9484f5"/><stop offset="0.3027" stop-color="#8070f8"/><stop offset="0.3164" stop-color="#4c46fd"/><stop offset="0.3219" stop-color="#3231ff"/><stop offset="0.3274" stop-color="#0d0dff"/><stop offset="0.3301" stop-color="#0000fc"/><stop offset="0.3356" stop-color="#0000e7"/><stop offset="0.3384" stop-color="#0000d4"/><stop offset="0.3411" stop-color="#0000ca"/><stop offset="0.4068" stop-color="#0000ca"/><stop offset="0.4096" stop-color="#0000cb"/><stop offset="0.4123" stop-color="#0000d5"/><stop offset="0.4151" stop-color="#0000f4"/><stop offset="0.4178" stop-color="#574efc"/><stop offset="0.4205" stop-color="#9484f5"/><stop offset="0.4233" stop-color="#b2acf5"/><stop offset="0.426" stop-color="#c7c9f5"/><stop offset="0.4315" stop-color="#eff2fa"/><stop offset="0.4342" stop-color="#fff6ec"/><stop offset="0.437" stop-color="#ffddb7"/><stop offset="0.4397" stop-color="#ffcc95"/><stop offset="0.4425" stop-color="#ffbc8d"/><stop offset="0.4452" stop-color="#ffb89b"/><stop offset="0.4534" stop-color="#ffb9a9"/><stop offset="0.5192" stop-color="#ffb9a9"/><stop offset="0.5274" stop-color="#ffb89c"/><stop offset="0.5301" stop-color="#ffbb8d"/><stop offset="0.5329" stop-color="#ffcb94"/><stop offset="0.5356" stop-color="#ffdbb3"/><stop offset="0.5384" stop-color="#fff3e7"/><stop offset="0.5411" stop-color="#f2f4fb"/><stop offset="0.5466" stop-color="#caccf5"/><stop offset="0.5493" stop-color="#b6b1f5"/><stop offset="0.5521" stop-color="#9787f5"/><stop offset="0.5548" stop-color="#5d52fc"/><stop offset="0.5575" stop-color="#0000f5"/><stop offset="0.5603" stop-color="#0000d5"/><stop offset="0.563" stop-color="#0000cb"/><stop offset="0.6288" stop-color="#0000cb"/><stop offset="0.6315" stop-color="#0000d5"/><stop offset="0.6342" stop-color="#0000f6"/><stop offset="0.637" stop-color="#6055fb"/><stop offset="0.6397" stop-color="#998af5"/><stop offset="0.6425" stop-color="#b8b5f5"/><stop offset="0.6452" stop-color="#cdd0f5"/><stop offset="0.6507" stop-color="#f7f9fc"/><stop offset="0.6534" stop-color="#ffedda"/><stop offset="0.6562" stop-color="#ffd7aa"/><stop offset="0.6589" stop-color="#ffc68f"/><stop offset="0.6616" stop-color="#ffb992"/><stop offset="0.6644" stop-color="#ffb9aa"/><stop offset="0.6726" stop-color="#ffbeba"/><stop offset="0.7438" stop-color="#ffbfbd"/><stop offset="0.7603" stop-color="#ffb9a9"/><stop offset="0.8068" stop-color="#ffb89c"/><stop offset="0.9986" stop-color="#ffb899"/></linearGradient><linearGradient id="g30" gradientUnits="userSpaceOnUse" x1="56" x2="421"><stop offset="0.00137" stop-color="#a498f5"/><stop offset="0.04795" stop-color="#aba2f5"/><stop offset="0.1301" stop-color="#c7c8f5"/><stop offset="0.1795" stop-color="#caccf5"/><stop offset="0.237" stop-color="#b9b5f5"/><stop offset="0.2863" stop-color="#9484f5"/><stop offset="0.3027" stop-color="#8071f8"/><stop offset="0.3164" stop-color="#4d46fd"/><stop offset="0.3219" stop-color="#3332ff"/><stop offset="0.3301" stop-color="#0000fd"/><stop offset="0.3438" stop-color="#0000cb"/><stop offset="0.363" stop-color="#0000c7"/><stop offset="0.4068" stop-color="#0000cc"/><stop offset="0.4096" stop-color="#0000da"/><stop offset="0.4123" stop-color="#0000ef"/><stop offset="0.4151" stop-color="#1818ff"/><stop offset="0.4178" stop-color="#685cfb"/><stop offset="0.4205" stop-color="#9787f5"/><stop offset="0.4233" stop-color="#b4aef5"/><stop offset="0.426" stop-color="#c8c9f5"/><stop offset="0.4315" stop-color="#eef1fa"/><stop offset="0.4342" stop-color="#fff8ef"/><stop offset="0.437" stop-color="#ffe0be"/><stop offset="0.4397" stop-color="#ffcf9c"/><stop offset="0.4425" stop-color="#ffc28b"/><stop offset="0.4479" stop-color="#ffb992"/><stop offset="0.4562" stop-color="#ffb9a8"/><stop offset="0.5164" stop-color="#ffb9a8"/><stop offset="0.5274" stop-color="#ffbb8e"/><stop offset="0.5301" stop-color="#ffc28b"/><stop offset="0.5329" stop-color="#ffce99"/><stop offset="0.5356" stop-color="#ffddb7"/><stop offset="0.5384" stop-color="#fff4e9"/><stop offset="0.5411" stop-color="#f1f4fb"/><stop offset="0.5466" stop-color="#cbcdf5"/><stop offset="0.5493" stop-color="#b7b3f5"/><stop offset="0.5521" stop-color="#9a8bf5"/><stop offset="0.5548" stop-color="#6e61fa"/><stop offset="0.5575" stop-color="#1d1dff"/><stop offset="0.5603" stop-color="#0000f0"/><stop offset="0.563" stop-color="#0000db"/><stop offset="0.5658" stop-color="#0000cc"/><stop offset="0.6233" stop-color="#0000c9"/><stop offset="0.626" stop-color="#0000cc"/><stop offset="0.6288" stop-color="#0000db"/><stop offset="0.6315" stop-color="#0000f1"/><stop offset="0.6342" stop-color="#1f1fff"/><stop offset="0.637" stop-color="#7164fa"/><stop offset="0.6397" stop-color="#9c8ef5"/><stop offset="0.6425" stop-color="#bab6f5"/><stop offset="0.6452" stop-color="#cdd0f5"/><stop offset="0.6507" stop-color="#f6f8fc"/><stop offset="0.6534" stop-color="#ffeedd"/><stop offset="0.6562" stop-color="#ffd8ae"/><stop offset="0.6589" stop-color="#ffc992"/><stop offset="0.6616" stop-color="#ffbe8a"/><stop offset="0.6671" stop-color="#ffb89e"/><stop offset="0.6753" stop-color="#ffbdb9"/><stop offset="0.7356" stop-color="#ffbfbe"/><stop offset="0.7685" stop-color="#ffb8a4"/><stop offset="0.8288" stop-color="#ffb89a"/><stop offset="0.9986" stop-color="#ffb899"/></linearGradient><linearGradient id="g31" gradientUnits="userSpaceOnUse" x1="56" x2="421"><stop offset="0.00137" stop-color="#a498f5"/><stop offset="0.04795" stop-color="#aba2f5"/><stop offset="0.1301" stop-color="#c7c8f5"/><stop offset="0.1795" stop-color="#caccf5"/><stop offset="0.237" stop-color="#b9b6f5"/><stop offset="0.289" stop-color="#9282f6"/><stop offset="0.3027" stop-color="#8171f8"/><stop offset="0.3164" stop-color="#4f47fd"/><stop offset="0.3219" stop-color="#3534ff"/><stop offset="0.3301" stop-color="#0000ff"/><stop offset="0.3466" stop-color="#0000cb"/><stop offset="0.374" stop-color="#0000c7"/><stop offset="0.4041" stop-color="#0000cb"/><stop offset="0.4068" stop-color="#0000d8"/><stop offset="0.4123" stop-color="#0000ff"/><stop offset="0.4151" stop-color="#3d3afe"/><stop offset="0.4178" stop-color="#7c6df9"/><stop offset="0.4233" stop-color="#b6b1f5"/><stop offset="0.4288" stop-color="#dadef6"/><stop offset="0.4315" stop-color="#edf0f9"/><stop offset="0.4342" stop-color="#fff9f3"/><stop offset="0.437" stop-color="#ffe4c8"/><stop offset="0.4397" stop-color="#ffd4a5"/><stop offset="0.4425" stop-color="#ffc891"/><stop offset="0.4452" stop-color="#ffc089"/><stop offset="0.4534" stop-color="#ffb898"/><stop offset="0.4562" stop-color="#ffb8a3"/><stop offset="0.4616" stop-color="#ffb9a9"/><stop offset="0.5137" stop-color="#ffb9a8"/><stop offset="0.5219" stop-color="#ffb991"/><stop offset="0.5274" stop-color="#ffbf88"/><stop offset="0.5301" stop-color="#ffc790"/><stop offset="0.5329" stop-color="#ffd2a2"/><stop offset="0.5356" stop-color="#ffe1c1"/><stop offset="0.5384" stop-color="#fff7ed"/><stop offset="0.5411" stop-color="#f0f3fa"/><stop offset="0.5466" stop-color="#cbcef5"/><stop offset="0.5493" stop-color="#b9b6f5"/><stop offset="0.5548" stop-color="#8373f8"/><stop offset="0.5603" stop-color="#0404ff"/><stop offset="0.5658" stop-color="#0000d8"/><stop offset="0.5685" stop-color="#0000cb"/><stop offset="0.6233" stop-color="#0000ca"/><stop offset="0.626" stop-color="#0000d8"/><stop offset="0.6315" stop-color="#0505ff"/><stop offset="0.637" stop-color="#8575f8"/><stop offset="0.6425" stop-color="#bbb8f5"/><stop offset="0.6479" stop-color="#e1e5f7"/><stop offset="0.6507" stop-color="#f5f7fc"/><stop offset="0.6534" stop-color="#fff1e2"/><stop offset="0.6562" stop-color="#ffdbb3"/><stop offset="0.6589" stop-color="#ffce98"/><stop offset="0.6616" stop-color="#ffc38c"/><stop offset="0.6671" stop-color="#ffb992"/><stop offset="0.6781" stop-color="#ffbdb9"/><stop offset="0.7356" stop-color="#ffbebc"/><stop offset="0.7712" stop-color="#ffb8a3"/><stop offset="0.8397" stop-color="#ffb89a"/><stop offset="0.9986" stop-color="#ffb899"/></linearGradient><linearGradient id="g32" gradientUnits="userSpaceOnUse" x1="56" x2="421"><stop offset="0.00137" stop-color="#a498f5"/><stop offset="0.04795" stop-color="#aba2f5"/><stop offset="0.1301" stop-color="#c7c8f5"/><stop offset="0.1795" stop-color="#cacdf5"/><stop offset="0.237" stop-color="#b9b6f5"/><stop offset="0.289" stop-color="#9282f6"/><stop offset="0.3027" stop-color="#8272f8"/><stop offset="0.3164" stop-color="#5149fd"/><stop offset="0.3247" stop-color="#2929ff"/><stop offset="0.3301" stop-color="#0505ff"/><stop offset="0.3356" stop-color="#0000f2"/><stop offset="0.3493" stop-color="#0000cb"/><stop offset="0.3877" stop-color="#0000c8"/><stop offset="0.4014" stop-color="#0000cb"/><stop offset="0.4068" stop-color="#0000e8"/><stop offset="0.4096" stop-color="#0000f9"/><stop offset="0.4123" stop-color="#2323ff"/><stop offset="0.4178" stop-color="#8878f7"/><stop offset="0.4233" stop-color="#b8b5f5"/><stop offset="0.4315" stop-color="#ebeff9"/><stop offset="0.4342" stop-color="#fffcf7"/><stop offset="0.4397" stop-color="#ffd8ad"/><stop offset="0.4425" stop-color="#ffce98"/><stop offset="0.4479" stop-color="#ffbf88"/><stop offset="0.4562" stop-color="#ffb899"/><stop offset="0.4589" stop-color="#ffb8a4"/><stop offset="0.4644" stop-color="#ffb9a9"/><stop offset="0.511" stop-color="#ffb9a8"/><stop offset="0.5192" stop-color="#ffb991"/><stop offset="0.5247" stop-color="#ffbf88"/><stop offset="0.5301" stop-color="#ffcc95"/><stop offset="0.5329" stop-color="#ffd6aa"/><stop offset="0.5384" stop-color="#fff9f2"/><stop offset="0.5411" stop-color="#eff2fa"/><stop offset="0.5466" stop-color="#cdcff5"/><stop offset="0.5493" stop-color="#bcb9f5"/><stop offset="0.5548" stop-color="#8c7cf7"/><stop offset="0.5575" stop-color="#5d53fc"/><stop offset="0.5603" stop-color="#2828ff"/><stop offset="0.563" stop-color="#0000fa"/><stop offset="0.5685" stop-color="#0000d4"/><stop offset="0.5712" stop-color="#0000ca"/><stop offset="0.6205" stop-color="#0000ca"/><stop offset="0.6233" stop-color="#0000d4"/><stop offset="0.6288" stop-color="#0000fa"/><stop offset="0.6315" stop-color="#2929ff"/><stop offset="0.6342" stop-color="#5f54fc"/><stop offset="0.637" stop-color="#8d7df6"/><stop offset="0.6425" stop-color="#bdbbf5"/><stop offset="0.6479" stop-color="#e0e4f7"/><stop offset="0.6507" stop-color="#f4f6fb"/><stop offset="0.6534" stop-color="#fff4e8"/><stop offset="0.6562" stop-color="#ffdfbc"/><stop offset="0.6589" stop-color="#ffd2a1"/><stop offset="0.6616" stop-color="#ffc891"/><stop offset="0.6644" stop-color="#ffc089"/><stop offset="0.6726" stop-color="#ffb89a"/><stop offset="0.6808" stop-color="#ffbdb9"/><stop offset="0.7329" stop-color="#ffbebc"/><stop offset="0.7658" stop-color="#ffb8a5"/><stop offset="0.8233" stop-color="#ffb89b"/><stop offset="0.9986" stop-color="#ffb899"/></linearGradient><linearGradient id="g33" gradientUnits="userSpaceOnUse" x1="56" x2="421"><stop offset="0.00137" stop-color="#a498f5"/><stop offset="0.04795" stop-color="#aba2f5"/><stop offset="0.1301" stop-color="#c7c9f5"/><stop offset="0.1767" stop-color="#cbcdf5"/><stop offset="0.2315" stop-color="#bcb9f5"/><stop offset="0.2781" stop-color="#9d8ff5"/><stop offset="0.3027" stop-color="#8374f8"/><stop offset="0.3192" stop-color="#4842fd"/><stop offset="0.3247" stop-color="#2e2eff"/><stop offset="0.3301" stop-color="#0c0cff"/><stop offset="0.3329" stop-color="#0000fd"/><stop offset="0.3521" stop-color="#0000ca"/><stop offset="0.3959" stop-color="#0000c9"/><stop offset="0.3986" stop-color="#0000ca"/><stop offset="0.4041" stop-color="#0000e5"/><stop offset="0.4068" stop-color="#0000f5"/><stop offset="0.4096" stop-color="#0f0fff"/><stop offset="0.4151" stop-color="#6d60fa"/><stop offset="0.4178" stop-color="#8f7ff6"/><stop offset="0.4233" stop-color="#bab7f5"/><stop offset="0.4315" stop-color="#eaedf8"/><stop offset="0.4342" stop-color="#fefcfa"/><stop offset="0.437" stop-color="#ffeedc"/><stop offset="0.4397" stop-color="#ffdcb5"/><stop offset="0.4452" stop-color="#ffca93"/><stop offset="0.4507" stop-color="#ffbf89"/><stop offset="0.4589" stop-color="#ffb89a"/><stop offset="0.4616" stop-color="#ffb8a4"/><stop offset="0.4699" stop-color="#ffb9a9"/><stop offset="0.5082" stop-color="#ffb9a9"/><stop offset="0.5164" stop-color="#ffb992"/><stop offset="0.5219" stop-color="#ffbe89"/><stop offset="0.5274" stop-color="#ffc992"/><stop offset="0.5301" stop-color="#ffd19e"/><stop offset="0.5329" stop-color="#ffdab1"/><stop offset="0.5384" stop-color="#fffbf5"/><stop offset="0.5411" stop-color="#eef1fa"/><stop offset="0.5466" stop-color="#ced1f5"/><stop offset="0.5493" stop-color="#bebcf5"/><stop offset="0.5548" stop-color="#9383f5"/><stop offset="0.5575" stop-color="#7567f9"/><stop offset="0.563" stop-color="#1414ff"/><stop offset="0.5658" stop-color="#0000f5"/><stop offset="0.5712" stop-color="#0000d1"/><stop offset="0.574" stop-color="#0000c9"/><stop offset="0.6178" stop-color="#0000c9"/><stop offset="0.6205" stop-color="#0000d1"/><stop offset="0.626" stop-color="#0000f5"/><stop offset="0.6288" stop-color="#1313ff"/><stop offset="0.6342" stop-color="#7668f9"/><stop offset="0.637" stop-color="#9484f5"/><stop offset="0.6425" stop-color="#bfbef5"/><stop offset="0.6479" stop-color="#e0e4f7"/><stop offset="0.6507" stop-color="#f2f5fb"/><stop offset="0.6534" stop-color="#fff7ed"/><stop offset="0.6562" stop-color="#ffe4c7"/><stop offset="0.6589" stop-color="#ffd6a9"/><stop offset="0.6616" stop-color="#ffcc95"/><stop offset="0.6671" stop-color="#ffbf89"/><stop offset="0.6753" stop-color="#ffb89c"/><stop offset="0.6836" stop-color="#ffbdba"/><stop offset="0.7301" stop-color="#ffbebc"/><stop offset="0.7575" stop-color="#ffb9a8"/><stop offset="0.8068" stop-color="#ffb89b"/><stop offset="0.9986" stop-color="#ffb899"/></linearGradient><linearGradient id="g34" gradientUnits="userSpaceOnUse" x1="56" x2="421"><stop offset="0.00137" stop-color="#a397f5"/><stop offset="0.04795" stop-color="#aba2f5"/><stop offset="0.1301" stop-color="#c8c9f5"/><stop offset="0.1767" stop-color="#cbcef5"/><stop offset="0.2315" stop-color="#bcb9f5"/><stop offset="0.2781" stop-color="#9d8ff5"/><stop offset="0.3027" stop-color="#8575f8"/><stop offset="0.3192" stop-color="#4c45fd"/><stop offset="0.3247" stop-color="#3332ff"/><stop offset="0.3329" stop-color="#0303ff"/><stop offset="0.3548" stop-color="#0000ca"/><stop offset="0.3932" stop-color="#0000c8"/><stop offset="0.3959" stop-color="#0000ca"/><stop offset="0.4014" stop-color="#0000e2"/><stop offset="0.4068" stop-color="#0000ff"/><stop offset="0.4096" stop-color="#2b2bff"/><stop offset="0.4151" stop-color="#7f70f8"/><stop offset="0.4205" stop-color="#aaa0f5"/><stop offset="0.4233" stop-color="#bcbaf5"/><stop offset="0.4315" stop-color="#e8ecf8"/><stop offset="0.4342" stop-color="#fafafb"/><stop offset="0.437" stop-color="#fff2e5"/><stop offset="0.4397" stop-color="#ffe2c2"/><stop offset="0.4425" stop-color="#ffd7aa"/><stop offset="0.4452" stop-color="#ffce9a"/><stop offset="0.4507" stop-color="#ffc28b"/><stop offset="0.4562" stop-color="#ffbb8e"/><stop offset="0.4616" stop-color="#ffb89a"/><stop offset="0.4671" stop-color="#ffb9a9"/><stop offset="0.5055" stop-color="#ffb9a9"/><stop offset="0.5164" stop-color="#ffbb8e"/><stop offset="0.5219" stop-color="#ffc18a"/><stop offset="0.5274" stop-color="#ffcc96"/><stop offset="0.5329" stop-color="#ffdeb9"/><stop offset="0.5356" stop-color="#ffeedc"/><stop offset="0.5384" stop-color="#fffcf9"/><stop offset="0.5466" stop-color="#cfd3f5"/><stop offset="0.5521" stop-color="#afa7f5"/><stop offset="0.5548" stop-color="#9a8bf5"/><stop offset="0.5575" stop-color="#8676f8"/><stop offset="0.563" stop-color="#3131ff"/><stop offset="0.5658" stop-color="#0303ff"/><stop offset="0.574" stop-color="#0000d0"/><stop offset="0.5767" stop-color="#0000c9"/><stop offset="0.6151" stop-color="#0000c9"/><stop offset="0.6178" stop-color="#0000cf"/><stop offset="0.626" stop-color="#0101ff"/><stop offset="0.6288" stop-color="#2f2fff"/><stop offset="0.6342" stop-color="#8676f8"/><stop offset="0.637" stop-color="#9b8cf5"/><stop offset="0.6425" stop-color="#c2c1f5"/><stop offset="0.6479" stop-color="#e0e4f7"/><stop offset="0.6507" stop-color="#f1f3fa"/><stop offset="0.6534" stop-color="#fff9f2"/><stop offset="0.6589" stop-color="#ffd9af"/><stop offset="0.6616" stop-color="#ffd09d"/><stop offset="0.6671" stop-color="#ffc28b"/><stop offset="0.6726" stop-color="#ffbb8f"/><stop offset="0.6781" stop-color="#ffb89d"/><stop offset="0.6863" stop-color="#ffbdba"/><stop offset="0.7274" stop-color="#ffbebc"/><stop offset="0.7466" stop-color="#ffb9ad"/><stop offset="0.7959" stop-color="#ffb89c"/><stop offset="0.9986" stop-color="#ffb899"/></linearGradient><linearGradient id="g35" gradientUnits="userSpaceOnUse" x1="56" x2="421"><stop offset="0.00137" stop-color="#a397f5"/><stop offset="0.04795" stop-color="#aba1f5"/><stop offset="0.1301" stop-color="#c8c9f5"/><stop offset="0.1767" stop-color="#cbcef5"/><stop offset="0.2315" stop-color="#bcb9f5"/><stop offset="0.2781" stop-color="#9d90f5"/><stop offset="0.3027" stop-color="#8575f8"/><stop offset="0.3164" stop-color="#5b51fc"/><stop offset="0.3274" stop-color="#2c2cff"/><stop offset="0.3356" stop-color="#0000fe"/><stop offset="0.3603" stop-color="#0000c7"/><stop offset="0.3932" stop-color="#0000c9"/><stop offset="0.3986" stop-color="#0000df"/><stop offset="0.4041" stop-color="#0000fb"/><stop offset="0.4068" stop-color="#1a1aff"/><stop offset="0.4123" stop-color="#675bfb"/><stop offset="0.4151" stop-color="#8979f7"/><stop offset="0.4233" stop-color="#bebcf5"/><stop offset="0.4315" stop-color="#e7ebf8"/><stop offset="0.4342" stop-color="#f6f8fc"/><stop offset="0.437" stop-color="#fff6ec"/><stop offset="0.4425" stop-color="#ffdab1"/><stop offset="0.4479" stop-color="#ffcb94"/><stop offset="0.4534" stop-color="#ffc18a"/><stop offset="0.4616" stop-color="#ffb993"/><stop offset="0.4671" stop-color="#ffb8a5"/><stop offset="0.4753" stop-color="#ffb9a9"/><stop offset="0.5027" stop-color="#ffb9a9"/><stop offset="0.5082" stop-color="#ffb89b"/><stop offset="0.5164" stop-color="#ffbd8b"/><stop offset="0.5192" stop-color="#ffc089"/><stop offset="0.5247" stop-color="#ffca93"/><stop offset="0.5301" stop-color="#ffd8ac"/><stop offset="0.5329" stop-color="#ffe2c3"/><stop offset="0.5356" stop-color="#fff1e2"/><stop offset="0.5384" stop-color="#fdfcfa"/><stop offset="0.5466" stop-color="#d0d4f5"/><stop offset="0.5521" stop-color="#b4aef5"/><stop offset="0.5575" stop-color="#8e7ef6"/><stop offset="0.5603" stop-color="#7164fa"/><stop offset="0.5658" stop-color="#2020ff"/><stop offset="0.5685" stop-color="#0000fc"/><stop offset="0.5767" stop-color="#0000cf"/><stop offset="0.5795" stop-color="#0000c9"/><stop offset="0.6123" stop-color="#0000c9"/><stop offset="0.6151" stop-color="#0000cf"/><stop offset="0.6233" stop-color="#0000fb"/><stop offset="0.626" stop-color="#1d1dff"/><stop offset="0.6315" stop-color="#6f62fa"/><stop offset="0.6342" stop-color="#8d7df6"/><stop offset="0.6425" stop-color="#c3c3f5"/><stop offset="0.6507" stop-color="#eff2fa"/><stop offset="0.6534" stop-color="#fffbf6"/><stop offset="0.6562" stop-color="#ffecd9"/><stop offset="0.6589" stop-color="#ffdcb6"/><stop offset="0.6644" stop-color="#ffcc95"/><stop offset="0.6699" stop-color="#ffc089"/><stop offset="0.6781" stop-color="#ffb895"/><stop offset="0.689" stop-color="#ffbebb"/><stop offset="0.7247" stop-color="#ffbebc"/><stop offset="0.7411" stop-color="#ffb9ae"/><stop offset="0.7959" stop-color="#ffb89c"/><stop offset="0.9986" stop-color="#ffb899"/></linearGradient><linearGradient id="g36" gradientUnits="userSpaceOnUse" x1="56" x2="421"><stop offset="0.00137" stop-color="#a397f5"/><stop offset="0.04795" stop-color="#aaa1f5"/><stop offset="0.1301" stop-color="#c8c9f5"/><stop offset="0.1767" stop-color="#cccef5"/><stop offset="0.2315" stop-color="#bcb9f5"/><stop offset="0.2808" stop-color="#9b8df5"/><stop offset="0.3055" stop-color="#8273f8"/><stop offset="0.3219" stop-color="#4a44fd"/><stop offset="0.3301" stop-color="#2525ff"/><stop offset="0.3356" stop-color="#0808ff"/><stop offset="0.3384" stop-color="#0000fc"/><stop offset="0.363" stop-color="#0000c7"/><stop offset="0.3904" stop-color="#0000c9"/><stop offset="0.3932" stop-color="#0000cf"/><stop offset="0.4014" stop-color="#0000f7"/><stop offset="0.4041" stop-color="#0d0dff"/><stop offset="0.4068" stop-color="#3131ff"/><stop offset="0.4123" stop-color="#786af9"/><stop offset="0.4178" stop-color="#a093f5"/><stop offset="0.4233" stop-color="#c0bef5"/><stop offset="0.4342" stop-color="#f4f6fb"/><stop offset="0.437" stop-color="#fff9f3"/><stop offset="0.4425" stop-color="#ffdebb"/><stop offset="0.4479" stop-color="#ffcf9b"/><stop offset="0.4534" stop-color="#ffc48d"/><stop offset="0.4562" stop-color="#ffc089"/><stop offset="0.4644" stop-color="#ffb893"/><stop offset="0.4699" stop-color="#ffb8a5"/><stop offset="0.4781" stop-color="#ffb9a9"/><stop offset="0.5" stop-color="#ffb9a9"/><stop offset="0.5055" stop-color="#ffb89c"/><stop offset="0.511" stop-color="#ffba90"/><stop offset="0.5164" stop-color="#ffbf88"/><stop offset="0.5247" stop-color="#ffcd97"/><stop offset="0.5301" stop-color="#ffdab2"/><stop offset="0.5356" stop-color="#fff4e8"/><stop offset="0.5384" stop-color="#fbfbfb"/><stop offset="0.5466" stop-color="#d1d5f5"/><stop offset="0.5521" stop-color="#b8b4f5"/><stop offset="0.5575" stop-color="#9585f5"/><stop offset="0.5603" stop-color="#8474f8"/><stop offset="0.5658" stop-color="#3937fe"/><stop offset="0.5685" stop-color="#1313ff"/><stop offset="0.5712" stop-color="#0000f8"/><stop offset="0.5795" stop-color="#0000cf"/><stop offset="0.5849" stop-color="#0000c9"/><stop offset="0.6096" stop-color="#0000c9"/><stop offset="0.6123" stop-color="#0000ce"/><stop offset="0.6205" stop-color="#0000f7"/><stop offset="0.6233" stop-color="#0f0fff"/><stop offset="0.626" stop-color="#3634ff"/><stop offset="0.6315" stop-color="#8272f8"/><stop offset="0.637" stop-color="#a69bf5"/><stop offset="0.6397" stop-color="#b8b4f5"/><stop offset="0.6479" stop-color="#e0e4f7"/><stop offset="0.6534" stop-color="#fffdfa"/><stop offset="0.6589" stop-color="#ffe1c0"/><stop offset="0.6616" stop-color="#ffd7ab"/><stop offset="0.6671" stop-color="#ffc992"/><stop offset="0.6726" stop-color="#ffbf89"/><stop offset="0.6808" stop-color="#ffb897"/><stop offset="0.6918" stop-color="#ffbebb"/><stop offset="0.7219" stop-color="#ffbebb"/><stop offset="0.7384" stop-color="#ffb9ad"/><stop offset="0.7959" stop-color="#ffb89c"/><stop offset="0.9986" stop-color="#ffb899"/></linearGradient><linearGradient id="g37" gradientUnits="userSpaceOnUse" x1="56" x2="421"><stop offset="0.00137" stop-color="#a296f5"/><stop offset="0.04795" stop-color="#aaa0f5"/><stop offset="0.1301" stop-color="#c8caf5"/><stop offset="0.1767" stop-color="#cccff5"/><stop offset="0.2315" stop-color="#bcb9f5"/><stop offset="0.2808" stop-color="#9c8ef5"/><stop offset="0.3055" stop-color="#8575f8"/><stop offset="0.3219" stop-color="#5048fd"/><stop offset="0.3301" stop-color="#2f2fff"/><stop offset="0.3384" stop-color="#0505ff"/><stop offset="0.3438" stop-color="#0000f7"/><stop offset="0.3658" stop-color="#0000c8"/><stop offset="0.3877" stop-color="#0000c8"/><stop offset="0.3904" stop-color="#0000ce"/><stop offset="0.4014" stop-color="#0202ff"/><stop offset="0.4068" stop-color="#443ffe"/><stop offset="0.4123" stop-color="#8676f8"/><stop offset="0.4178" stop-color="#a599f5"/><stop offset="0.4233" stop-color="#c1c0f5"/><stop offset="0.4342" stop-color="#f1f4fb"/><stop offset="0.437" stop-color="#fffcf7"/><stop offset="0.4452" stop-color="#ffd9b0"/><stop offset="0.4507" stop-color="#ffcd96"/><stop offset="0.4589" stop-color="#ffbf88"/><stop offset="0.4671" stop-color="#ffb893"/><stop offset="0.4726" stop-color="#ffb8a5"/><stop offset="0.4808" stop-color="#ffb9a9"/><stop offset="0.4973" stop-color="#ffb9a9"/><stop offset="0.5027" stop-color="#ffb89d"/><stop offset="0.5082" stop-color="#ffba90"/><stop offset="0.5137" stop-color="#ffbe89"/><stop offset="0.5219" stop-color="#ffca93"/><stop offset="0.5301" stop-color="#ffddb8"/><stop offset="0.5356" stop-color="#fff7ed"/><stop offset="0.5384" stop-color="#f9fafb"/><stop offset="0.5493" stop-color="#c7c8f5"/><stop offset="0.5548" stop-color="#aca3f5"/><stop offset="0.5603" stop-color="#8c7cf7"/><stop offset="0.563" stop-color="#7265fa"/><stop offset="0.5685" stop-color="#2e2eff"/><stop offset="0.5712" stop-color="#0a0aff"/><stop offset="0.574" stop-color="#0000f6"/><stop offset="0.5822" stop-color="#0000cf"/><stop offset="0.5877" stop-color="#0000c9"/><stop offset="0.6068" stop-color="#0000c9"/><stop offset="0.6096" stop-color="#0000ce"/><stop offset="0.6178" stop-color="#0000f5"/><stop offset="0.6205" stop-color="#0505ff"/><stop offset="0.6233" stop-color="#2828ff"/><stop offset="0.6288" stop-color="#6e61fa"/><stop offset="0.6315" stop-color="#8a7af7"/><stop offset="0.637" stop-color="#aba2f5"/><stop offset="0.6425" stop-color="#c7c8f5"/><stop offset="0.6534" stop-color="#fdfcfb"/><stop offset="0.6562" stop-color="#fff3e6"/><stop offset="0.6616" stop-color="#ffdab0"/><stop offset="0.6671" stop-color="#ffcc95"/><stop offset="0.6726" stop-color="#ffc18a"/><stop offset="0.6808" stop-color="#ffb992"/><stop offset="0.6945" stop-color="#ffbebb"/><stop offset="0.7192" stop-color="#ffbebb"/><stop offset="0.7329" stop-color="#ffb9ae"/><stop offset="0.7932" stop-color="#ffb89c"/><stop offset="0.9986" stop-color="#ffb899"/></linearGradient><linearGradient id="g38" gradientUnits="userSpaceOnUse" x1="56" x2="421"><stop offset="0.00137" stop-color="#a296f5"/><stop offset="0.04795" stop-color="#aaa0f5"/><stop offset="0.1301" stop-color="#c9caf5"/><stop offset="0.1767" stop-color="#cccff5"/><stop offset="0.2315" stop-color="#bcbaf5"/><stop offset="0.2836" stop-color="#9a8cf5"/><stop offset="0.3082" stop-color="#8172f8"/><stop offset="0.3274" stop-color="#423efe"/><stop offset="0.3356" stop-color="#1f1fff"/><stop offset="0.3411" stop-color="#0505ff"/><stop offset="0.3466" stop-color="#0000f7"/><stop offset="0.3685" stop-color="#0000c8"/><stop offset="0.3849" stop-color="#0000c8"/><stop offset="0.3904" stop-color="#0000d8"/><stop offset="0.3986" stop-color="#0000fd"/><stop offset="0.4014" stop-color="#1919ff"/><stop offset="0.4041" stop-color="#3836fe"/><stop offset="0.4096" stop-color="#7567f9"/><stop offset="0.4123" stop-color="#8b7bf7"/><stop offset="0.4178" stop-color="#a99ef5"/><stop offset="0.4205" stop-color="#b7b3f5"/><stop offset="0.4288" stop-color="#d8dcf6"/><stop offset="0.437" stop-color="#fdfcfa"/><stop offset="0.4425" stop-color="#ffe8d1"/><stop offset="0.4452" stop-color="#ffddb7"/><stop offset="0.4534" stop-color="#ffcb94"/><stop offset="0.4616" stop-color="#ffbf89"/><stop offset="0.4699" stop-color="#ffb893"/><stop offset="0.4753" stop-color="#ffb8a5"/><stop offset="0.4836" stop-color="#ffb9a9"/><stop offset="0.4945" stop-color="#ffb9a9"/><stop offset="0.5" stop-color="#ffb89d"/><stop offset="0.5055" stop-color="#ffba91"/><stop offset="0.5137" stop-color="#ffc089"/><stop offset="0.5219" stop-color="#ffcd97"/><stop offset="0.5274" stop-color="#ffd9af"/><stop offset="0.5301" stop-color="#ffe1c1"/><stop offset="0.5356" stop-color="#fff9f1"/><stop offset="0.5384" stop-color="#f7f9fc"/><stop offset="0.5493" stop-color="#c9caf5"/><stop offset="0.5548" stop-color="#b1aaf5"/><stop offset="0.5603" stop-color="#9383f5"/><stop offset="0.563" stop-color="#8575f8"/><stop offset="0.5712" stop-color="#2525ff"/><stop offset="0.574" stop-color="#0303ff"/><stop offset="0.5849" stop-color="#0000cf"/><stop offset="0.5904" stop-color="#0000c9"/><stop offset="0.6041" stop-color="#0000c9"/><stop offset="0.6096" stop-color="#0000d9"/><stop offset="0.6178" stop-color="#0000fe"/><stop offset="0.6233" stop-color="#3e3bfe"/><stop offset="0.6288" stop-color="#7f70f8"/><stop offset="0.6397" stop-color="#bdbbf5"/><stop offset="0.6479" stop-color="#dfe3f7"/><stop offset="0.6534" stop-color="#fafafb"/><stop offset="0.6562" stop-color="#fff6ec"/><stop offset="0.6616" stop-color="#ffdcb6"/><stop offset="0.6671" stop-color="#ffcf9b"/><stop offset="0.6753" stop-color="#ffc089"/><stop offset="0.6836" stop-color="#ffb993"/><stop offset="0.6973" stop-color="#ffbebb"/><stop offset="0.7164" stop-color="#ffbeba"/><stop offset="0.7274" stop-color="#ffb9ae"/><stop offset="0.7904" stop-color="#ffb89c"/><stop offset="0.9986" stop-color="#ffb899"/></linearGradient><linearGradient id="g39" gradientUnits="userSpaceOnUse" x1="56" x2="421"><stop offset="0.00137" stop-color="#a295f5"/><stop offset="0.04795" stop-color="#a9a0f5"/><stop offset="0.1301" stop-color="#c9caf5"/><stop offset="0.174" stop-color="#cdd0f5"/><stop offset="0.226" stop-color="#bfbdf5"/><stop offset="0.2616" stop-color="#aba2f5"/><stop offset="0.3082" stop-color="#8575f8"/><stop offset="0.3274" stop-color="#4a44fd"/><stop offset="0.3356" stop-color="#2b2bff"/><stop offset="0.3438" stop-color="#0606ff"/><stop offset="0.3493" stop-color="#0000f8"/><stop offset="0.3658" stop-color="#0000d3"/><stop offset="0.3712" stop-color="#0000c8"/><stop offset="0.3822" stop-color="#0000c9"/><stop offset="0.3877" stop-color="#0000d8"/><stop offset="0.3959" stop-color="#0000fb"/><stop offset="0.3986" stop-color="#1111ff"/><stop offset="0.4014" stop-color="#2f2fff"/><stop offset="0.4096" stop-color="#8474f8"/><stop offset="0.4151" stop-color="#9e91f5"/><stop offset="0.4205" stop-color="#b9b6f5"/><stop offset="0.4315" stop-color="#e2e6f7"/><stop offset="0.437" stop-color="#fafafb"/><stop offset="0.4397" stop-color="#fff8f0"/><stop offset="0.4479" stop-color="#ffd9b0"/><stop offset="0.4562" stop-color="#ffc992"/><stop offset="0.4644" stop-color="#ffbe89"/><stop offset="0.4726" stop-color="#ffb893"/><stop offset="0.4808" stop-color="#ffb9a9"/><stop offset="0.4918" stop-color="#ffb9a9"/><stop offset="0.5027" stop-color="#ffba91"/><stop offset="0.511" stop-color="#ffc089"/><stop offset="0.5192" stop-color="#ffcb94"/><stop offset="0.5274" stop-color="#ffdbb3"/><stop offset="0.5356" stop-color="#fffaf4"/><stop offset="0.5384" stop-color="#f6f8fc"/><stop offset="0.5493" stop-color="#cbcdf5"/><stop offset="0.5548" stop-color="#b6b1f5"/><stop offset="0.563" stop-color="#8c7cf7"/><stop offset="0.5658" stop-color="#786af9"/><stop offset="0.574" stop-color="#1f1fff"/><stop offset="0.5767" stop-color="#0000ff"/><stop offset="0.5877" stop-color="#0000cf"/><stop offset="0.5904" stop-color="#0000c9"/><stop offset="0.6014" stop-color="#0000c9"/><stop offset="0.6068" stop-color="#0000da"/><stop offset="0.6151" stop-color="#0000fd"/><stop offset="0.6178" stop-color="#1717ff"/><stop offset="0.6205" stop-color="#3534ff"/><stop offset="0.626" stop-color="#7063fa"/><stop offset="0.6288" stop-color="#8979f7"/><stop offset="0.6342" stop-color="#a599f5"/><stop offset="0.6397" stop-color="#bfbdf5"/><stop offset="0.6507" stop-color="#ebeef9"/><stop offset="0.6534" stop-color="#f8f9fc"/><stop offset="0.6562" stop-color="#fff8f1"/><stop offset="0.6616" stop-color="#ffe0bf"/><stop offset="0.6671" stop-color="#ffd2a0"/><stop offset="0.6699" stop-color="#ffcc95"/><stop offset="0.6781" stop-color="#ffbf89"/><stop offset="0.6863" stop-color="#ffb893"/><stop offset="0.7" stop-color="#ffbebb"/><stop offset="0.7137" stop-color="#ffbdba"/><stop offset="0.7247" stop-color="#ffb9ad"/><stop offset="0.7904" stop-color="#ffb89c"/><stop offset="0.9986" stop-color="#ffb899"/></linearGradient><linearGradient id="g40" gradientUnits="userSpaceOnUse" x1="56" x2="421"><stop offset="0.00137" stop-color="#a194f5"/><stop offset="0.04795" stop-color="#a99ff5"/><stop offset="0.1301" stop-color="#c9cbf5"/><stop offset="0.174" stop-color="#ced1f5"/><stop offset="0.226" stop-color="#bfbdf5"/><stop offset="0.2616" stop-color="#aba2f5"/><stop offset="0.311" stop-color="#8373f8"/><stop offset="0.3329" stop-color="#403cfe"/><stop offset="0.3411" stop-color="#2020ff"/><stop offset="0.3493" stop-color="#0000fe"/><stop offset="0.363" stop-color="#0000e4"/><stop offset="0.374" stop-color="#0000c9"/><stop offset="0.3795" stop-color="#0000c9"/><stop offset="0.3849" stop-color="#0000d9"/><stop offset="0.3932" stop-color="#0000fa"/><stop offset="0.3959" stop-color="#0b0bff"/><stop offset="0.4014" stop-color="#413dfe"/><stop offset="0.4068" stop-color="#7668f9"/><stop offset="0.4096" stop-color="#8a7af7"/><stop offset="0.4151" stop-color="#a396f5"/><stop offset="0.4233" stop-color="#c5c5f5"/><stop offset="0.437" stop-color="#f6f8fc"/><stop offset="0.4397" stop-color="#fffaf5"/><stop offset="0.4479" stop-color="#ffddb7"/><stop offset="0.4562" stop-color="#ffcd97"/><stop offset="0.4671" stop-color="#ffbe89"/><stop offset="0.4781" stop-color="#ffb89a"/><stop offset="0.4836" stop-color="#ffb9a8"/><stop offset="0.4918" stop-color="#ffb8a4"/><stop offset="0.4973" stop-color="#ffb894"/><stop offset="0.5082" stop-color="#ffbf88"/><stop offset="0.5192" stop-color="#ffce99"/><stop offset="0.5274" stop-color="#ffdeba"/><stop offset="0.5356" stop-color="#fffbf6"/><stop offset="0.5384" stop-color="#f5f7fc"/><stop offset="0.5521" stop-color="#c3c3f5"/><stop offset="0.5575" stop-color="#ada5f5"/><stop offset="0.563" stop-color="#9383f5"/><stop offset="0.5658" stop-color="#8777f7"/><stop offset="0.574" stop-color="#3836fe"/><stop offset="0.5795" stop-color="#0000ff"/><stop offset="0.5904" stop-color="#0000d0"/><stop offset="0.5932" stop-color="#0000c9"/><stop offset="0.5986" stop-color="#0000ca"/><stop offset="0.6041" stop-color="#0000db"/><stop offset="0.6123" stop-color="#0000fc"/><stop offset="0.6151" stop-color="#1313ff"/><stop offset="0.6178" stop-color="#3030ff"/><stop offset="0.626" stop-color="#8171f8"/><stop offset="0.6342" stop-color="#a99ff5"/><stop offset="0.6397" stop-color="#c1c0f5"/><stop offset="0.6534" stop-color="#f5f8fc"/><stop offset="0.6562" stop-color="#fffaf4"/><stop offset="0.6644" stop-color="#ffdab2"/><stop offset="0.6726" stop-color="#ffca93"/><stop offset="0.6808" stop-color="#ffbe8a"/><stop offset="0.689" stop-color="#ffb894"/><stop offset="0.7027" stop-color="#ffbebb"/><stop offset="0.711" stop-color="#ffbdb8"/><stop offset="0.7192" stop-color="#ffb9ad"/><stop offset="0.7795" stop-color="#ffb89c"/><stop offset="0.9986" stop-color="#ffb899"/></linearGradient><linearGradient id="g41" gradientUnits="userSpaceOnUse" x1="56" x2="421"><stop offset="0.00137" stop-color="#a094f5"/><stop offset="0.04795" stop-color="#a99ef5"/><stop offset="0.1301" stop-color="#cacbf5"/><stop offset="0.174" stop-color="#ced2f5"/><stop offset="0.226" stop-color="#bfbdf5"/><stop offset="0.2644" stop-color="#aaa0f5"/><stop offset="0.311" stop-color="#8676f8"/><stop offset="0.3274" stop-color="#5b51fc"/><stop offset="0.3411" stop-color="#2e2eff"/><stop offset="0.3521" stop-color="#0101ff"/><stop offset="0.3658" stop-color="#0000e7"/><stop offset="0.374" stop-color="#0000d0"/><stop offset="0.3767" stop-color="#0000cc"/><stop offset="0.3795" stop-color="#0000d1"/><stop offset="0.3904" stop-color="#0000fa"/><stop offset="0.3932" stop-color="#0909ff"/><stop offset="0.3986" stop-color="#3b38fe"/><stop offset="0.4068" stop-color="#8474f8"/><stop offset="0.4151" stop-color="#a79cf5"/><stop offset="0.4233" stop-color="#c5c6f5"/><stop offset="0.437" stop-color="#f3f6fb"/><stop offset="0.4397" stop-color="#fffdf9"/><stop offset="0.4507" stop-color="#ffdab1"/><stop offset="0.4589" stop-color="#ffcc95"/><stop offset="0.4699" stop-color="#ffbe89"/><stop offset="0.4808" stop-color="#ffb897"/><stop offset="0.4863" stop-color="#ffb8a5"/><stop offset="0.4973" stop-color="#ffba90"/><stop offset="0.5055" stop-color="#ffbf88"/><stop offset="0.5164" stop-color="#ffcc96"/><stop offset="0.5247" stop-color="#ffdab1"/><stop offset="0.5356" stop-color="#fffcf9"/><stop offset="0.5411" stop-color="#eaedf8"/><stop offset="0.5521" stop-color="#c6c6f5"/><stop offset="0.5603" stop-color="#a69bf5"/><stop offset="0.5685" stop-color="#8272f8"/><stop offset="0.5767" stop-color="#3634ff"/><stop offset="0.5822" stop-color="#0101ff"/><stop offset="0.5904" stop-color="#0000e0"/><stop offset="0.5932" stop-color="#0000d3"/><stop offset="0.5959" stop-color="#0000ce"/><stop offset="0.5986" stop-color="#0000d2"/><stop offset="0.6068" stop-color="#0000f4"/><stop offset="0.6096" stop-color="#0000fd"/><stop offset="0.6123" stop-color="#1313ff"/><stop offset="0.6151" stop-color="#2c2cff"/><stop offset="0.6233" stop-color="#7668f9"/><stop offset="0.626" stop-color="#8979f7"/><stop offset="0.6315" stop-color="#a194f5"/><stop offset="0.637" stop-color="#bab6f5"/><stop offset="0.6507" stop-color="#e9edf8"/><stop offset="0.6534" stop-color="#f4f6fb"/><stop offset="0.6562" stop-color="#fffcf7"/><stop offset="0.6644" stop-color="#ffddb8"/><stop offset="0.6726" stop-color="#ffcc95"/><stop offset="0.6808" stop-color="#ffc089"/><stop offset="0.6918" stop-color="#ffb894"/><stop offset="0.7055" stop-color="#ffbcb8"/><stop offset="0.7219" stop-color="#ffb8a7"/><stop offset="0.7959" stop-color="#ffb89b"/><stop offset="0.9986" stop-color="#ffb899"/></linearGradient><linearGradient id="g42" gradientUnits="userSpaceOnUse" x1="56" x2="421"><stop offset="0.00137" stop-color="#a093f5"/><stop offset="0.04795" stop-color="#a89ef5"/><stop offset="0.1301" stop-color="#caccf5"/><stop offset="0.174" stop-color="#cfd3f5"/><stop offset="0.226" stop-color="#bfbef5"/><stop offset="0.2671" stop-color="#a89ef5"/><stop offset="0.3137" stop-color="#8575f8"/><stop offset="0.3356" stop-color="#4b45fd"/><stop offset="0.3466" stop-color="#2828ff"/><stop offset="0.3575" stop-color="#0000fe"/><stop offset="0.3767" stop-color="#0000de"/><stop offset="0.3877" stop-color="#0000fb"/><stop offset="0.3904" stop-color="#0b0bff"/><stop offset="0.3959" stop-color="#3836fe"/><stop offset="0.4041" stop-color="#7b6cf9"/><stop offset="0.4096" stop-color="#9484f5"/><stop offset="0.4205" stop-color="#bebcf5"/><stop offset="0.4342" stop-color="#e8ecf8"/><stop offset="0.4397" stop-color="#fcfbfb"/><stop offset="0.4425" stop-color="#fff8f0"/><stop offset="0.4507" stop-color="#ffdeb9"/><stop offset="0.4616" stop-color="#ffcb94"/><stop offset="0.4726" stop-color="#ffbf88"/><stop offset="0.4863" stop-color="#ffb895"/><stop offset="0.5027" stop-color="#ffc089"/><stop offset="0.5137" stop-color="#ffcb94"/><stop offset="0.5247" stop-color="#ffdcb6"/><stop offset="0.5329" stop-color="#fff6ec"/><stop offset="0.5356" stop-color="#fffdfa"/><stop offset="0.5521" stop-color="#c8c9f5"/><stop offset="0.5575" stop-color="#b7b3f5"/><stop offset="0.5658" stop-color="#9585f5"/><stop offset="0.5712" stop-color="#7c6df9"/><stop offset="0.5822" stop-color="#1f1fff"/><stop offset="0.5849" stop-color="#0707ff"/><stop offset="0.5877" stop-color="#0000f9"/><stop offset="0.5959" stop-color="#0000e4"/><stop offset="0.6068" stop-color="#0000ff"/><stop offset="0.6123" stop-color="#2d2dff"/><stop offset="0.6233" stop-color="#8575f8"/><stop offset="0.6315" stop-color="#a69bf5"/><stop offset="0.6397" stop-color="#c4c4f5"/><stop offset="0.6534" stop-color="#f2f5fb"/><stop offset="0.6562" stop-color="#fffdfa"/><stop offset="0.6616" stop-color="#ffebd7"/><stop offset="0.6671" stop-color="#ffd9b0"/><stop offset="0.6753" stop-color="#ffca93"/><stop offset="0.6836" stop-color="#ffbf88"/><stop offset="0.6945" stop-color="#ffb894"/><stop offset="0.7055" stop-color="#ffb9ab"/><stop offset="0.7521" stop-color="#ffb89e"/><stop offset="0.9986" stop-color="#ffb899"/></linearGradient><linearGradient id="g43" gradientUnits="userSpaceOnUse" x1="56" x2="421"><stop offset="0.00137" stop-color="#9f92f5"/><stop offset="0.04795" stop-color="#a89df5"/><stop offset="0.1301" stop-color="#cacdf5"/><stop offset="0.1712" stop-color="#d0d4f5"/><stop offset="0.2178" stop-color="#c3c3f5"/><stop offset="0.2589" stop-color="#aea6f5"/><stop offset="0.3164" stop-color="#8575f8"/><stop offset="0.3411" stop-color="#4741fd"/><stop offset="0.3521" stop-color="#2525ff"/><stop offset="0.363" stop-color="#0000fe"/><stop offset="0.3767" stop-color="#0000f1"/><stop offset="0.3849" stop-color="#0000fe"/><stop offset="0.3959" stop-color="#4b45fd"/><stop offset="0.4041" stop-color="#8676f8"/><stop offset="0.4123" stop-color="#a397f5"/><stop offset="0.4205" stop-color="#bfbef5"/><stop offset="0.4342" stop-color="#e6eaf8"/><stop offset="0.4397" stop-color="#f8f9fc"/><stop offset="0.4425" stop-color="#fffbf5"/><stop offset="0.4534" stop-color="#ffdcb4"/><stop offset="0.4644" stop-color="#ffcb94"/><stop offset="0.4781" stop-color="#ffbe89"/><stop offset="0.4918" stop-color="#ffbc8c"/><stop offset="0.5" stop-color="#ffc18a"/><stop offset="0.5137" stop-color="#ffce99"/><stop offset="0.5219" stop-color="#ffdab1"/><stop offset="0.5329" stop-color="#fff8f0"/><stop offset="0.5356" stop-color="#fdfcfa"/><stop offset="0.5521" stop-color="#caccf5"/><stop offset="0.5603" stop-color="#b1abf5"/><stop offset="0.5685" stop-color="#9282f6"/><stop offset="0.5712" stop-color="#8979f7"/><stop offset="0.574" stop-color="#796bf9"/><stop offset="0.5904" stop-color="#0202ff"/><stop offset="0.5959" stop-color="#0000f8"/><stop offset="0.6014" stop-color="#0000fe"/><stop offset="0.6068" stop-color="#1f1fff"/><stop offset="0.6205" stop-color="#8071f8"/><stop offset="0.6288" stop-color="#a092f5"/><stop offset="0.637" stop-color="#bebcf5"/><stop offset="0.6534" stop-color="#f1f4fb"/><stop offset="0.6562" stop-color="#fcfbfb"/><stop offset="0.6589" stop-color="#fff8ef"/><stop offset="0.6671" stop-color="#ffdcb5"/><stop offset="0.6753" stop-color="#ffcd97"/><stop offset="0.6863" stop-color="#ffbf88"/><stop offset="0.7" stop-color="#ffb898"/><stop offset="0.7082" stop-color="#ffb8a2"/><stop offset="0.8205" stop-color="#ffb89a"/><stop offset="0.9986" stop-color="#ffb899"/></linearGradient><linearGradient id="g44" gradientUnits="userSpaceOnUse" x1="56" x2="421"><stop offset="0.00137" stop-color="#9f91f5"/><stop offset="0.04795" stop-color="#a79cf5"/><stop offset="0.1301" stop-color="#cbcdf5"/><stop offset="0.1712" stop-color="#d1d5f5"/><stop offset="0.2178" stop-color="#c4c3f5"/><stop offset="0.2616" stop-color="#aca4f5"/><stop offset="0.3219" stop-color="#8172f8"/><stop offset="0.3548" stop-color="#2e2eff"/><stop offset="0.3712" stop-color="#0000ff"/><stop offset="0.3795" stop-color="#0303ff"/><stop offset="0.3877" stop-color="#2c2cff"/><stop offset="0.3986" stop-color="#7063fa"/><stop offset="0.4014" stop-color="#8373f8"/><stop offset="0.4096" stop-color="#9e90f5"/><stop offset="0.4205" stop-color="#c1c0f5"/><stop offset="0.437" stop-color="#edf0f9"/><stop offset="0.4425" stop-color="#fffdfa"/><stop offset="0.4562" stop-color="#ffdab2"/><stop offset="0.4671" stop-color="#ffcc95"/><stop offset="0.4836" stop-color="#ffbf88"/><stop offset="0.5" stop-color="#ffc48d"/><stop offset="0.511" stop-color="#ffce99"/><stop offset="0.5219" stop-color="#ffdcb5"/><stop offset="0.5329" stop-color="#fff9f2"/><stop offset="0.5356" stop-color="#fcfbfb"/><stop offset="0.5548" stop-color="#c5c6f5"/><stop offset="0.563" stop-color="#ada4f5"/><stop offset="0.5712" stop-color="#9080f6"/><stop offset="0.5767" stop-color="#7a6bf9"/><stop offset="0.5849" stop-color="#443ffe"/><stop offset="0.5932" stop-color="#1c1cff"/><stop offset="0.5959" stop-color="#1717ff"/><stop offset="0.6014" stop-color="#2222ff"/><stop offset="0.6123" stop-color="#5a50fc"/><stop offset="0.6178" stop-color="#7d6ef9"/><stop offset="0.6288" stop-color="#a599f5"/><stop offset="0.637" stop-color="#c0bef5"/><stop offset="0.6534" stop-color="#eff2fa"/><stop offset="0.6562" stop-color="#fafafb"/><stop offset="0.6589" stop-color="#fff9f3"/><stop offset="0.6671" stop-color="#ffdfbd"/><stop offset="0.6753" stop-color="#ffd09d"/><stop offset="0.6808" stop-color="#ffc891"/><stop offset="0.689" stop-color="#ffbf89"/><stop offset="0.7137" stop-color="#ffb89b"/><stop offset="0.9986" stop-color="#ffb899"/></linearGradient><linearGradient id="g45" gradientUnits="userSpaceOnUse" x1="56" x2="421"><stop offset="0.00137" stop-color="#9e90f5"/><stop offset="0.04795" stop-color="#a69bf5"/><stop offset="0.1301" stop-color="#cccef5"/><stop offset="0.1712" stop-color="#d1d5f5"/><stop offset="0.2151" stop-color="#c5c5f5"/><stop offset="0.2616" stop-color="#ada4f5"/><stop offset="0.3247" stop-color="#8474f8"/><stop offset="0.3712" stop-color="#1c1cff"/><stop offset="0.3767" stop-color="#1c1cff"/><stop offset="0.3822" stop-color="#2b2bff"/><stop offset="0.3932" stop-color="#5f54fc"/><stop offset="0.3986" stop-color="#8071f8"/><stop offset="0.4096" stop-color="#a296f5"/><stop offset="0.4205" stop-color="#c2c1f5"/><stop offset="0.4397" stop-color="#f2f5fb"/><stop offset="0.4425" stop-color="#fbfbfb"/><stop offset="0.4479" stop-color="#fff3e7"/><stop offset="0.4562" stop-color="#ffdfbb"/><stop offset="0.4671" stop-color="#ffd09c"/><stop offset="0.4781" stop-color="#ffc68f"/><stop offset="0.4945" stop-color="#ffc48d"/><stop offset="0.5082" stop-color="#ffce99"/><stop offset="0.5192" stop-color="#ffdab2"/><stop offset="0.5329" stop-color="#fffaf4"/><stop offset="0.5356" stop-color="#fbfbfb"/><stop offset="0.5548" stop-color="#c8c9f5"/><stop offset="0.5658" stop-color="#aaa0f5"/><stop offset="0.574" stop-color="#9080f6"/><stop offset="0.5795" stop-color="#7d6ef9"/><stop offset="0.5877" stop-color="#5149fd"/><stop offset="0.5932" stop-color="#3e3bfe"/><stop offset="0.5986" stop-color="#3c39fe"/><stop offset="0.6068" stop-color="#534bfc"/><stop offset="0.6178" stop-color="#8878f7"/><stop offset="0.626" stop-color="#a093f5"/><stop offset="0.637" stop-color="#c1c0f5"/><stop offset="0.6562" stop-color="#f7f9fc"/><stop offset="0.6589" stop-color="#fffbf6"/><stop offset="0.6699" stop-color="#ffdbb4"/><stop offset="0.6808" stop-color="#ffca93"/><stop offset="0.6918" stop-color="#ffbf89"/><stop offset="0.7164" stop-color="#ffb895"/><stop offset="0.9986" stop-color="#ffb899"/></linearGradient><linearGradient id="g46" gradientUnits="userSpaceOnUse" x1="56" x2="421"><stop offset="0.00137" stop-color="#9d8ff5"/><stop offset="0.04795" stop-color="#a69af5"/><stop offset="0.1329" stop-color="#cdd0f5"/><stop offset="0.174" stop-color="#d2d6f5"/><stop offset="0.2178" stop-color="#c4c4f5"/><stop offset="0.3274" stop-color="#8575f8"/><stop offset="0.3658" stop-color="#3c39fe"/><stop offset="0.374" stop-color="#3635ff"/><stop offset="0.3822" stop-color="#443ffe"/><stop offset="0.3904" stop-color="#6459fb"/><stop offset="0.3959" stop-color="#8071f8"/><stop offset="0.4068" stop-color="#9e91f5"/><stop offset="0.4178" stop-color="#bdbaf5"/><stop offset="0.4342" stop-color="#e2e6f7"/><stop offset="0.4425" stop-color="#f7f9fc"/><stop offset="0.4452" stop-color="#fffcf9"/><stop offset="0.4589" stop-color="#ffdeb9"/><stop offset="0.4753" stop-color="#ffcc95"/><stop offset="0.4945" stop-color="#ffc891"/><stop offset="0.5055" stop-color="#ffcf9a"/><stop offset="0.5192" stop-color="#ffddb7"/><stop offset="0.5329" stop-color="#fffbf6"/><stop offset="0.5384" stop-color="#f2f5fb"/><stop offset="0.5575" stop-color="#c4c4f5"/><stop offset="0.5658" stop-color="#b0a8f5"/><stop offset="0.5767" stop-color="#9181f6"/><stop offset="0.5822" stop-color="#8474f8"/><stop offset="0.5904" stop-color="#6156fb"/><stop offset="0.5959" stop-color="#574efc"/><stop offset="0.6014" stop-color="#5b51fc"/><stop offset="0.6096" stop-color="#7567f9"/><stop offset="0.6151" stop-color="#8979f7"/><stop offset="0.6233" stop-color="#9d8ff5"/><stop offset="0.637" stop-color="#c3c2f5"/><stop offset="0.6562" stop-color="#f5f7fc"/><stop offset="0.6589" stop-color="#fffdfa"/><stop offset="0.6671" stop-color="#ffe7cd"/><stop offset="0.6726" stop-color="#ffd9b0"/><stop offset="0.6836" stop-color="#ffc992"/><stop offset="0.6945" stop-color="#ffbf88"/><stop offset="0.7219" stop-color="#ffb893"/><stop offset="0.8836" stop-color="#ffb89a"/><stop offset="0.9986" stop-color="#ffb899"/></linearGradient><linearGradient id="g47" gradientUnits="userSpaceOnUse" x1="56" x2="421"><stop offset="0.00137" stop-color="#9c8ef5"/><stop offset="0.04521" stop-color="#a498f5"/><stop offset="0.1356" stop-color="#cfd2f5"/><stop offset="0.1767" stop-color="#d3d7f5"/><stop offset="0.2205" stop-color="#c3c3f5"/><stop offset="0.3356" stop-color="#8373f8"/><stop offset="0.3658" stop-color="#5048fd"/><stop offset="0.374" stop-color="#4d46fd"/><stop offset="0.3822" stop-color="#5a50fc"/><stop offset="0.3932" stop-color="#8373f8"/><stop offset="0.4041" stop-color="#9c8ef5"/><stop offset="0.4178" stop-color="#bebcf5"/><stop offset="0.437" stop-color="#e7ebf8"/><stop offset="0.4452" stop-color="#fbfbfb"/><stop offset="0.4507" stop-color="#fff5ea"/><stop offset="0.4616" stop-color="#ffdeb9"/><stop offset="0.4753" stop-color="#ffd09d"/><stop offset="0.4863" stop-color="#ffcb94"/><stop offset="0.5" stop-color="#ffce9a"/><stop offset="0.5164" stop-color="#ffdcb4"/><stop offset="0.5329" stop-color="#fffcf7"/><stop offset="0.5384" stop-color="#f2f4fb"/><stop offset="0.5603" stop-color="#c2c1f5"/><stop offset="0.5795" stop-color="#9282f5"/><stop offset="0.5959" stop-color="#7164fa"/><stop offset="0.6041" stop-color="#796af9"/><stop offset="0.6205" stop-color="#9c8df5"/><stop offset="0.637" stop-color="#c4c4f5"/><stop offset="0.6562" stop-color="#f3f6fb"/><stop offset="0.6589" stop-color="#fcfcfb"/><stop offset="0.6644" stop-color="#fff2e4"/><stop offset="0.6726" stop-color="#ffdcb4"/><stop offset="0.6836" stop-color="#ffcc95"/><stop offset="0.6973" stop-color="#ffbf88"/><stop offset="0.7329" stop-color="#ffb993"/><stop offset="0.8836" stop-color="#ffb899"/><stop offset="0.9986" stop-color="#ffb899"/></linearGradient><linearGradient id="g48" gradientUnits="userSpaceOnUse" x1="56" x2="421"><stop offset="0.00137" stop-color="#9b8df5"/><stop offset="0.04521" stop-color="#a397f5"/><stop offset="0.1356" stop-color="#cfd3f5"/><stop offset="0.1767" stop-color="#d4d8f5"/><stop offset="0.2151" stop-color="#c6c7f5"/><stop offset="0.311" stop-color="#9686f5"/><stop offset="0.3438" stop-color="#8172f8"/><stop offset="0.3658" stop-color="#6458fb"/><stop offset="0.3767" stop-color="#6559fb"/><stop offset="0.3849" stop-color="#7668f9"/><stop offset="0.3932" stop-color="#8a7af7"/><stop offset="0.4041" stop-color="#a194f5"/><stop offset="0.4205" stop-color="#c5c5f5"/><stop offset="0.4479" stop-color="#fffdfa"/><stop offset="0.4671" stop-color="#ffdbb3"/><stop offset="0.4836" stop-color="#ffd09d"/><stop offset="0.4973" stop-color="#ffd19e"/><stop offset="0.5137" stop-color="#ffdbb3"/><stop offset="0.5329" stop-color="#fffcf9"/><stop offset="0.5411" stop-color="#eceff9"/><stop offset="0.5603" stop-color="#c5c5f5"/><stop offset="0.5822" stop-color="#9585f5"/><stop offset="0.5959" stop-color="#8676f8"/><stop offset="0.6096" stop-color="#8e7ef6"/><stop offset="0.6205" stop-color="#a194f5"/><stop offset="0.6425" stop-color="#d1d5f5"/><stop offset="0.6589" stop-color="#fafafb"/><stop offset="0.6616" stop-color="#fffbf6"/><stop offset="0.6753" stop-color="#ffdab1"/><stop offset="0.6863" stop-color="#ffcb94"/><stop offset="0.7027" stop-color="#ffbe89"/><stop offset="0.7658" stop-color="#ffb896"/><stop offset="0.9986" stop-color="#ffb899"/></linearGradient><linearGradient id="g49" gradientUnits="userSpaceOnUse" x1="56" x2="421"><stop offset="0.00137" stop-color="#9a8cf5"/><stop offset="0.04521" stop-color="#a296f5"/><stop offset="0.1356" stop-color="#d0d4f5"/><stop offset="0.1767" stop-color="#d5d9f5"/><stop offset="0.2151" stop-color="#c7c8f5"/><stop offset="0.2945" stop-color="#9f92f5"/><stop offset="0.3548" stop-color="#8071f8"/><stop offset="0.3712" stop-color="#7668f9"/><stop offset="0.3904" stop-color="#8d7df6"/><stop offset="0.4014" stop-color="#a093f5"/><stop offset="0.4178" stop-color="#c1c0f5"/><stop offset="0.4425" stop-color="#eef1fa"/><stop offset="0.4507" stop-color="#fffcf8"/><stop offset="0.4699" stop-color="#ffdcb5"/><stop offset="0.4863" stop-color="#ffd4a4"/><stop offset="0.5027" stop-color="#ffd6aa"/><stop offset="0.5137" stop-color="#ffdfbb"/><stop offset="0.5329" stop-color="#fffdfa"/><stop offset="0.5603" stop-color="#c8c9f5"/><stop offset="0.5849" stop-color="#998af5"/><stop offset="0.5959" stop-color="#8f7ff6"/><stop offset="0.6096" stop-color="#9585f5"/><stop offset="0.6233" stop-color="#aca3f5"/><stop offset="0.6452" stop-color="#d7dbf6"/><stop offset="0.6589" stop-color="#f7f8fc"/><stop offset="0.6616" stop-color="#fffdf9"/><stop offset="0.6726" stop-color="#ffe3c5"/><stop offset="0.6753" stop-color="#ffdcb6"/><stop offset="0.689" stop-color="#ffcb94"/><stop offset="0.7055" stop-color="#ffbf88"/><stop offset="0.7767" stop-color="#ffb896"/><stop offset="0.9986" stop-color="#ffb899"/></linearGradient><linearGradient id="g50" gradientUnits="userSpaceOnUse" x1="56" x2="421"><stop offset="0.00137" stop-color="#998bf5"/><stop offset="0.04521" stop-color="#a195f5"/><stop offset="0.1356" stop-color="#d1d5f5"/><stop offset="0.1767" stop-color="#d6daf5"/><stop offset="0.2123" stop-color="#c9caf5"/><stop offset="0.2863" stop-color="#a397f5"/><stop offset="0.3685" stop-color="#8676f8"/><stop offset="0.3877" stop-color="#9080f6"/><stop offset="0.4014" stop-color="#a599f5"/><stop offset="0.4233" stop-color="#cbcdf5"/><stop offset="0.4507" stop-color="#fcfbfb"/><stop offset="0.4616" stop-color="#ffeedd"/><stop offset="0.4753" stop-color="#ffdcb5"/><stop offset="0.4918" stop-color="#ffd7ab"/><stop offset="0.5082" stop-color="#ffdcb5"/><stop offset="0.5329" stop-color="#fefdfa"/><stop offset="0.563" stop-color="#c7c7f5"/><stop offset="0.5877" stop-color="#9e90f5"/><stop offset="0.5986" stop-color="#9687f5"/><stop offset="0.6123" stop-color="#9f91f5"/><stop offset="0.6534" stop-color="#e7ebf8"/><stop offset="0.6616" stop-color="#fcfcfb"/><stop offset="0.6671" stop-color="#fff4e8"/><stop offset="0.6781" stop-color="#ffdbb3"/><stop offset="0.6918" stop-color="#ffcb94"/><stop offset="0.711" stop-color="#ffbe89"/><stop offset="0.7986" stop-color="#ffb898"/><stop offset="0.9986" stop-color="#ffb899"/></linearGradient><linearGradient id="g51" gradientUnits="userSpaceOnUse" x1="56" x2="421"><stop offset="0.00137" stop-color="#9889f5"/><stop offset="0.04521" stop-color="#a093f5"/><stop offset="0.08356" stop-color="#b6b2f5"/><stop offset="0.1384" stop-color="#d3d7f5"/><stop offset="0.1767" stop-color="#d7dbf6"/><stop offset="0.2123" stop-color="#c9cbf5"/><stop offset="0.2836" stop-color="#a599f5"/><stop offset="0.3685" stop-color="#8d7df6"/><stop offset="0.3877" stop-color="#9787f5"/><stop offset="0.4068" stop-color="#b3adf5"/><stop offset="0.437" stop-color="#e0e4f7"/><stop offset="0.4534" stop-color="#fdfcfa"/><stop offset="0.4808" stop-color="#ffddb8"/><stop offset="0.4945" stop-color="#ffdbb2"/><stop offset="0.5055" stop-color="#ffdeba"/><stop offset="0.5329" stop-color="#fefcfa"/><stop offset="0.5658" stop-color="#c6c6f5"/><stop offset="0.5904" stop-color="#a397f5"/><stop offset="0.6041" stop-color="#9f92f5"/><stop offset="0.6178" stop-color="#aba2f5"/><stop offset="0.6534" stop-color="#e6eaf8"/><stop offset="0.6616" stop-color="#f9fafb"/><stop offset="0.6644" stop-color="#fffcf7"/><stop offset="0.6753" stop-color="#ffe4c8"/><stop offset="0.6808" stop-color="#ffdab1"/><stop offset="0.6945" stop-color="#ffcb94"/><stop offset="0.7137" stop-color="#ffbf88"/><stop offset="0.8014" stop-color="#ffb898"/><stop offset="0.9986" stop-color="#ffb899"/></linearGradient><linearGradient id="g52" gradientUnits="userSpaceOnUse" x1="56" x2="421"><stop offset="0.00137" stop-color="#9788f5"/><stop offset="0.04521" stop-color="#9f92f5"/><stop offset="0.08356" stop-color="#b6b1f5"/><stop offset="0.1384" stop-color="#d4d8f5"/><stop offset="0.1767" stop-color="#d8dcf6"/><stop offset="0.2123" stop-color="#caccf5"/><stop offset="0.2781" stop-color="#a79cf5"/><stop offset="0.3712" stop-color="#9585f5"/><stop offset="0.3904" stop-color="#a093f5"/><stop offset="0.437" stop-color="#dee2f6"/><stop offset="0.4562" stop-color="#fdfcfa"/><stop offset="0.4836" stop-color="#ffe2c2"/><stop offset="0.4973" stop-color="#ffdfbd"/><stop offset="0.511" stop-color="#ffe6cd"/><stop offset="0.5329" stop-color="#fdfcfa"/><stop offset="0.5685" stop-color="#c5c6f5"/><stop offset="0.5932" stop-color="#a89ef5"/><stop offset="0.6068" stop-color="#a79cf5"/><stop offset="0.6205" stop-color="#b3adf5"/><stop offset="0.6534" stop-color="#e5e9f7"/><stop offset="0.6644" stop-color="#fefcfa"/><stop offset="0.6726" stop-color="#ffeedc"/><stop offset="0.6808" stop-color="#ffdcb6"/><stop offset="0.6973" stop-color="#ffcb94"/><stop offset="0.7192" stop-color="#ffbe89"/><stop offset="0.8123" stop-color="#ffb898"/><stop offset="0.9986" stop-color="#ffb899"/></linearGradient><linearGradient id="g53" gradientUnits="userSpaceOnUse" x1="56" x2="421"><stop offset="0.00137" stop-color="#9687f5"/><stop offset="0.04521" stop-color="#9e91f5"/><stop offset="0.08082" stop-color="#b3adf5"/><stop offset="0.1356" stop-color="#d4d8f5"/><stop offset="0.174" stop-color="#dadef6"/><stop offset="0.2096" stop-color="#cccff5"/><stop offset="0.2753" stop-color="#a89ef5"/><stop offset="0.3712" stop-color="#9c8ef5"/><stop offset="0.3904" stop-color="#a69bf5"/><stop offset="0.4452" stop-color="#e7ebf8"/><stop offset="0.4589" stop-color="#fdfcfb"/><stop offset="0.4863" stop-color="#ffe6cc"/><stop offset="0.5" stop-color="#ffe5c9"/><stop offset="0.5192" stop-color="#fff1e2"/><stop offset="0.5329" stop-color="#fdfcfa"/><stop offset="0.5712" stop-color="#c6c6f5"/><stop offset="0.5959" stop-color="#ada5f5"/><stop offset="0.6096" stop-color="#ada5f5"/><stop offset="0.637" stop-color="#c9cbf5"/><stop offset="0.6616" stop-color="#f3f6fb"/><stop offset="0.6671" stop-color="#fffcf7"/><stop offset="0.6836" stop-color="#ffdbb4"/><stop offset="0.7" stop-color="#ffcb94"/><stop offset="0.7219" stop-color="#ffbf89"/><stop offset="0.8123" stop-color="#ffb898"/><stop offset="0.9986" stop-color="#ffb899"/></linearGradient><linearGradient id="g54" gradientUnits="userSpaceOnUse" x1="56" x2="421"><stop offset="0.00137" stop-color="#9585f5"/><stop offset="0.04521" stop-color="#9d8ff5"/><stop offset="0.08082" stop-color="#b3acf5"/><stop offset="0.1329" stop-color="#d4d8f5"/><stop offset="0.1712" stop-color="#dce0f6"/><stop offset="0.2096" stop-color="#cdd0f5"/><stop offset="0.2726" stop-color="#a99ff5"/><stop offset="0.3685" stop-color="#a396f5"/><stop offset="0.3904" stop-color="#aca3f5"/><stop offset="0.4479" stop-color="#e8ecf8"/><stop offset="0.4644" stop-color="#fffdf9"/><stop offset="0.4863" stop-color="#ffebd8"/><stop offset="0.5" stop-color="#ffe9d3"/><stop offset="0.5164" stop-color="#fff0e1"/><stop offset="0.5329" stop-color="#fdfcfa"/><stop offset="0.5767" stop-color="#c3c3f5"/><stop offset="0.6014" stop-color="#b1abf5"/><stop offset="0.6178" stop-color="#b7b3f5"/><stop offset="0.6425" stop-color="#d1d5f5"/><stop offset="0.6644" stop-color="#f6f8fc"/><stop offset="0.6671" stop-color="#fefcfa"/><stop offset="0.6781" stop-color="#ffead4"/><stop offset="0.6863" stop-color="#ffdbb2"/><stop offset="0.7027" stop-color="#ffca93"/><stop offset="0.7247" stop-color="#ffbf89"/><stop offset="0.8123" stop-color="#ffb898"/><stop offset="0.9986" stop-color="#ffb899"/></linearGradient><linearGradient id="g55" gradientUnits="userSpaceOnUse" x1="56" x2="421"><stop offset="0.00137" stop-color="#9484f5"/><stop offset="0.04247" stop-color="#9b8cf5"/><stop offset="0.07534" stop-color="#aea5f5"/><stop offset="0.1274" stop-color="#d2d6f5"/><stop offset="0.1658" stop-color="#dee2f6"/><stop offset="0.2041" stop-color="#d1d5f5"/><stop offset="0.2699" stop-color="#aaa0f5"/><stop offset="0.3082" stop-color="#a89df5"/><stop offset="0.3795" stop-color="#aca3f5"/><stop offset="0.4205" stop-color="#c9cbf5"/><stop offset="0.4671" stop-color="#fdfcfa"/><stop offset="0.4918" stop-color="#ffeede"/><stop offset="0.5082" stop-color="#ffefde"/><stop offset="0.5329" stop-color="#fdfcfa"/><stop offset="0.5849" stop-color="#c0bef5"/><stop offset="0.6068" stop-color="#b6b2f5"/><stop offset="0.6288" stop-color="#c1c1f5"/><stop offset="0.6589" stop-color="#e9edf8"/><stop offset="0.6699" stop-color="#fffcf8"/><stop offset="0.6836" stop-color="#ffe3c4"/><stop offset="0.689" stop-color="#ffdab1"/><stop offset="0.7055" stop-color="#ffca93"/><stop offset="0.7274" stop-color="#ffbf89"/><stop offset="0.8151" stop-color="#ffb898"/><stop offset="0.9986" stop-color="#ffb899"/></linearGradient><linearGradient id="g56" gradientUnits="userSpaceOnUse" x1="56" x2="421"><stop offset="0.00137" stop-color="#9383f5"/><stop offset="0.04247" stop-color="#998bf5"/><stop offset="0.07534" stop-color="#ada4f5"/><stop offset="0.1247" stop-color="#d1d5f5"/><stop offset="0.163" stop-color="#dfe3f7"/><stop offset="0.1986" stop-color="#d5d9f5"/><stop offset="0.2699" stop-color="#aaa0f5"/><stop offset="0.3027" stop-color="#a99ff5"/><stop offset="0.3849" stop-color="#b4aef5"/><stop offset="0.4233" stop-color="#cccef5"/><stop offset="0.4726" stop-color="#fefcfa"/><stop offset="0.4973" stop-color="#fff2e4"/><stop offset="0.5164" stop-color="#fff5ea"/><stop offset="0.5329" stop-color="#fdfcfa"/><stop offset="0.5822" stop-color="#c6c7f5"/><stop offset="0.6041" stop-color="#bab7f5"/><stop offset="0.6233" stop-color="#bfbdf5"/><stop offset="0.6507" stop-color="#dadef6"/><stop offset="0.6699" stop-color="#fcfbfb"/><stop offset="0.6781" stop-color="#fff1e3"/><stop offset="0.689" stop-color="#ffdcb5"/><stop offset="0.7082" stop-color="#ffca93"/><stop offset="0.7301" stop-color="#ffbf89"/><stop offset="0.8151" stop-color="#ffb898"/><stop offset="0.9986" stop-color="#ffb899"/></linearGradient><linearGradient id="g57" gradientUnits="userSpaceOnUse" x1="56" x2="421"><stop offset="0.00137" stop-color="#9282f6"/><stop offset="0.04521" stop-color="#998af5"/><stop offset="0.07808" stop-color="#aea6f5"/><stop offset="0.1247" stop-color="#d2d6f5"/><stop offset="0.1603" stop-color="#e1e5f7"/><stop offset="0.1959" stop-color="#d8dcf6"/><stop offset="0.2671" stop-color="#aaa1f5"/><stop offset="0.2973" stop-color="#aaa0f5"/><stop offset="0.3575" stop-color="#b6b1f5"/><stop offset="0.4014" stop-color="#bfbdf5"/><stop offset="0.4507" stop-color="#e2e6f7"/><stop offset="0.4781" stop-color="#fdfcfa"/><stop offset="0.5027" stop-color="#fff5ea"/><stop offset="0.5247" stop-color="#fffaf3"/><stop offset="0.5356" stop-color="#fbfbfb"/><stop offset="0.5904" stop-color="#c4c3f5"/><stop offset="0.6123" stop-color="#bdbbf5"/><stop offset="0.6342" stop-color="#c7c8f5"/><stop offset="0.6616" stop-color="#e8ecf8"/><stop offset="0.6726" stop-color="#fffdfa"/><stop offset="0.6836" stop-color="#ffead6"/><stop offset="0.6918" stop-color="#ffdbb4"/><stop offset="0.7082" stop-color="#ffcc95"/><stop offset="0.7329" stop-color="#ffbe89"/><stop offset="0.8178" stop-color="#ffb898"/><stop offset="0.9986" stop-color="#ffb899"/></linearGradient><linearGradient id="g58" gradientUnits="userSpaceOnUse" x1="56" x2="421"><stop offset="0.00137" stop-color="#9080f6"/><stop offset="0.04521" stop-color="#9888f5"/><stop offset="0.07534" stop-color="#aba1f5"/><stop offset="0.1192" stop-color="#cfd3f5"/><stop offset="0.1548" stop-color="#e2e6f7"/><stop offset="0.1877" stop-color="#dee2f6"/><stop offset="0.2205" stop-color="#c8c9f5"/><stop offset="0.2644" stop-color="#aba1f5"/><stop offset="0.2918" stop-color="#aaa0f5"/><stop offset="0.3493" stop-color="#bab7f5"/><stop offset="0.4041" stop-color="#c2c2f5"/><stop offset="0.4534" stop-color="#e1e5f7"/><stop offset="0.4863" stop-color="#fffdfa"/><stop offset="0.511" stop-color="#fff7ef"/><stop offset="0.5356" stop-color="#fcfbfb"/><stop offset="0.5959" stop-color="#c4c4f5"/><stop offset="0.6178" stop-color="#c0bef5"/><stop offset="0.6397" stop-color="#cccef5"/><stop offset="0.6671" stop-color="#eff2fa"/><stop offset="0.6753" stop-color="#fffcf8"/><stop offset="0.689" stop-color="#ffe4c7"/><stop offset="0.6945" stop-color="#ffdbb2"/><stop offset="0.711" stop-color="#ffcb94"/><stop offset="0.7356" stop-color="#ffbe89"/><stop offset="0.8205" stop-color="#ffb898"/><stop offset="0.9986" stop-color="#ffb899"/></linearGradient><linearGradient id="g59" gradientUnits="userSpaceOnUse" x1="56" x2="421"><stop offset="0.00137" stop-color="#8f7ff6"/><stop offset="0.04795" stop-color="#9788f5"/><stop offset="0.07808" stop-color="#aca3f5"/><stop offset="0.1219" stop-color="#d2d6f5"/><stop offset="0.1575" stop-color="#e5e9f7"/><stop offset="0.1877" stop-color="#dfe3f7"/><stop offset="0.2205" stop-color="#c8caf5"/><stop offset="0.2644" stop-color="#aaa0f5"/><stop offset="0.289" stop-color="#aaa0f5"/><stop offset="0.3411" stop-color="#bdbbf5"/><stop offset="0.4123" stop-color="#c7c8f5"/><stop offset="0.4616" stop-color="#e4e8f7"/><stop offset="0.4918" stop-color="#fefcfa"/><stop offset="0.5164" stop-color="#fff9f2"/><stop offset="0.5356" stop-color="#fdfcfa"/><stop offset="0.5822" stop-color="#d1d5f5"/><stop offset="0.6096" stop-color="#c2c1f5"/><stop offset="0.6315" stop-color="#c5c6f5"/><stop offset="0.6589" stop-color="#dfe3f7"/><stop offset="0.6753" stop-color="#fcfbfb"/><stop offset="0.6836" stop-color="#fff2e4"/><stop offset="0.6945" stop-color="#ffddb8"/><stop offset="0.7137" stop-color="#ffcb94"/><stop offset="0.7356" stop-color="#ffbf89"/><stop offset="0.8151" stop-color="#ffb898"/><stop offset="0.9986" stop-color="#ffb899"/></linearGradient><linearGradient id="g60" gradientUnits="userSpaceOnUse" x1="56" x2="421"><stop offset="0.00137" stop-color="#8e7ef6"/><stop offset="0.04795" stop-color="#9686f5"/><stop offset="0.07808" stop-color="#aba2f5"/><stop offset="0.1192" stop-color="#d1d5f5"/><stop offset="0.1548" stop-color="#e6eaf8"/><stop offset="0.1849" stop-color="#e3e7f7"/><stop offset="0.2205" stop-color="#c9caf5"/><stop offset="0.2616" stop-color="#aaa1f5"/><stop offset="0.2836" stop-color="#a89ef5"/><stop offset="0.3438" stop-color="#c1c1f5"/><stop offset="0.4205" stop-color="#caccf5"/><stop offset="0.4671" stop-color="#e4e8f7"/><stop offset="0.5" stop-color="#fffdfa"/><stop offset="0.5247" stop-color="#fffbf5"/><stop offset="0.5411" stop-color="#fafafb"/><stop offset="0.6014" stop-color="#c7c8f5"/><stop offset="0.6233" stop-color="#c3c2f5"/><stop offset="0.6452" stop-color="#ced1f5"/><stop offset="0.6699" stop-color="#edf0f9"/><stop offset="0.6781" stop-color="#fefcfa"/><stop offset="0.689" stop-color="#ffebd7"/><stop offset="0.6973" stop-color="#ffdcb5"/><stop offset="0.7164" stop-color="#ffca93"/><stop offset="0.7384" stop-color="#ffbe89"/><stop offset="0.8205" stop-color="#ffb898"/><stop offset="0.9986" stop-color="#ffb899"/></linearGradient><linearGradient id="g61" gradientUnits="userSpaceOnUse" x1="56" x2="421"><stop offset="0.00137" stop-color="#8c7cf7"/><stop offset="0.05068" stop-color="#9585f5"/><stop offset="0.07808" stop-color="#aaa0f5"/><stop offset="0.1164" stop-color="#cfd3f5"/><stop offset="0.1521" stop-color="#e8ecf8"/><stop offset="0.1795" stop-color="#e7ebf8"/><stop offset="0.2151" stop-color="#ced2f5"/><stop offset="0.2616" stop-color="#a99ff5"/><stop offset="0.2836" stop-color="#a89ef5"/><stop offset="0.3411" stop-color="#c5c5f5"/><stop offset="0.3849" stop-color="#c9caf5"/><stop offset="0.4315" stop-color="#cdd0f5"/><stop offset="0.4753" stop-color="#e7ebf8"/><stop offset="0.5055" stop-color="#fefdfa"/><stop offset="0.5301" stop-color="#fffbf7"/><stop offset="0.5466" stop-color="#f9f9fb"/><stop offset="0.6041" stop-color="#c8caf5"/><stop offset="0.626" stop-color="#c4c3f5"/><stop offset="0.6479" stop-color="#cfd2f5"/><stop offset="0.6726" stop-color="#eef1fa"/><stop offset="0.6808" stop-color="#fffdf9"/><stop offset="0.6945" stop-color="#ffe4c8"/><stop offset="0.7" stop-color="#ffdbb3"/><stop offset="0.7164" stop-color="#ffcb94"/><stop offset="0.7384" stop-color="#ffbe89"/><stop offset="0.8151" stop-color="#ffb898"/><stop offset="0.9986" stop-color="#ffb899"/></linearGradient><linearGradient id="g62" gradientUnits="userSpaceOnUse" x1="56" x2="421"><stop offset="0.00137" stop-color="#8b7bf7"/><stop offset="0.05068" stop-color="#9383f5"/><stop offset="0.07534" stop-color="#a69af5"/><stop offset="0.1137" stop-color="#cdd1f5"/><stop offset="0.1493" stop-color="#e9edf8"/><stop offset="0.174" stop-color="#eceff9"/><stop offset="0.2068" stop-color="#d6daf6"/><stop offset="0.2589" stop-color="#a99ff5"/><stop offset="0.2781" stop-color="#a69bf5"/><stop offset="0.3055" stop-color="#b5b0f5"/><stop offset="0.3493" stop-color="#cbcef5"/><stop offset="0.3904" stop-color="#cccef5"/><stop offset="0.4342" stop-color="#cccff5"/><stop offset="0.4726" stop-color="#e0e4f7"/><stop offset="0.511" stop-color="#fffdfa"/><stop offset="0.5356" stop-color="#fffbf7"/><stop offset="0.5521" stop-color="#f7f9fc"/><stop offset="0.6096" stop-color="#c8c9f5"/><stop offset="0.6315" stop-color="#c4c4f5"/><stop offset="0.6534" stop-color="#d1d5f5"/><stop offset="0.6781" stop-color="#f4f7fc"/><stop offset="0.6836" stop-color="#fffcf7"/><stop offset="0.6973" stop-color="#ffe2c4"/><stop offset="0.7027" stop-color="#ffdab0"/><stop offset="0.7192" stop-color="#ffca93"/><stop offset="0.7384" stop-color="#ffbf88"/><stop offset="0.8123" stop-color="#ffb898"/><stop offset="0.9986" stop-color="#ffb899"/></linearGradient><linearGradient id="g63" gradientUnits="userSpaceOnUse" x1="56" x2="421"><stop offset="0.00137" stop-color="#8979f7"/><stop offset="0.05068" stop-color="#9181f6"/><stop offset="0.0726" stop-color="#a195f5"/><stop offset="0.1164" stop-color="#d1d5f5"/><stop offset="0.1521" stop-color="#edf1fa"/><stop offset="0.1767" stop-color="#eef1fa"/><stop offset="0.2123" stop-color="#d2d6f5"/><stop offset="0.2589" stop-color="#a89df5"/><stop offset="0.2781" stop-color="#a69af5"/><stop offset="0.3027" stop-color="#b5aff5"/><stop offset="0.3466" stop-color="#cfd2f5"/><stop offset="0.3822" stop-color="#d1d5f5"/><stop offset="0.4342" stop-color="#caccf5"/><stop offset="0.4671" stop-color="#d8dcf6"/><stop offset="0.5137" stop-color="#fffdfa"/><stop offset="0.5384" stop-color="#fffbf5"/><stop offset="0.5548" stop-color="#f9fafb"/><stop offset="0.6123" stop-color="#c8c9f5"/><stop offset="0.6342" stop-color="#c4c4f5"/><stop offset="0.6562" stop-color="#d1d5f5"/><stop offset="0.6781" stop-color="#f0f3fa"/><stop offset="0.6836" stop-color="#fcfcfb"/><stop offset="0.6918" stop-color="#fff1e2"/><stop offset="0.7027" stop-color="#ffdbb4"/><stop offset="0.7192" stop-color="#ffcb94"/><stop offset="0.7411" stop-color="#ffbe89"/><stop offset="0.8178" stop-color="#ffb898"/><stop offset="0.9986" stop-color="#ffb899"/></linearGradient><linearGradient id="g64" gradientUnits="userSpaceOnUse" x1="56" x2="421"><stop offset="0.00137" stop-color="#8878f7"/><stop offset="0.05068" stop-color="#9080f6"/><stop offset="0.0726" stop-color="#9f92f5"/><stop offset="0.1164" stop-color="#d2d6f5"/><stop offset="0.1521" stop-color="#f0f3fa"/><stop offset="0.1767" stop-color="#f1f4fb"/><stop offset="0.2096" stop-color="#d6daf6"/><stop offset="0.2589" stop-color="#a69bf5"/><stop offset="0.2781" stop-color="#a499f5"/><stop offset="0.3027" stop-color="#b6b1f5"/><stop offset="0.3438" stop-color="#d2d6f5"/><stop offset="0.3767" stop-color="#d6daf6"/><stop offset="0.437" stop-color="#c8caf5"/><stop offset="0.4671" stop-color="#d4d8f5"/><stop offset="0.5137" stop-color="#fdfcfa"/><stop offset="0.5384" stop-color="#fff9f2"/><stop offset="0.5575" stop-color="#fbfbfb"/><stop offset="0.6123" stop-color="#c9cbf5"/><stop offset="0.6342" stop-color="#c3c2f5"/><stop offset="0.6534" stop-color="#cccef5"/><stop offset="0.6781" stop-color="#ecf0f9"/><stop offset="0.6863" stop-color="#fffdfa"/><stop offset="0.6973" stop-color="#ffe9d2"/><stop offset="0.7055" stop-color="#ffdab1"/><stop offset="0.7219" stop-color="#ffc992"/><stop offset="0.7411" stop-color="#ffbe89"/><stop offset="0.8151" stop-color="#ffb898"/><stop offset="0.9986" stop-color="#ffb899"/></linearGradient><linearGradient id="g65" gradientUnits="userSpaceOnUse" x1="56" x2="421"><stop offset="0.00137" stop-color="#8676f8"/><stop offset="0.05342" stop-color="#8f7ff6"/><stop offset="0.0726" stop-color="#9d8ff5"/><stop offset="0.1164" stop-color="#d3d7f5"/><stop offset="0.1493" stop-color="#f2f5fb"/><stop offset="0.1712" stop-color="#f7f8fc"/><stop offset="0.1986" stop-color="#e3e7f7"/><stop offset="0.226" stop-color="#c5c5f5"/><stop offset="0.2562" stop-color="#a59af5"/><stop offset="0.2726" stop-color="#a195f5"/><stop offset="0.2918" stop-color="#aca4f5"/><stop offset="0.3329" stop-color="#d0d4f5"/><stop offset="0.363" stop-color="#dce0f6"/><stop offset="0.4068" stop-color="#cfd3f5"/><stop offset="0.4425" stop-color="#c6c7f5"/><stop offset="0.4671" stop-color="#d0d4f5"/><stop offset="0.5164" stop-color="#fffdfa"/><stop offset="0.5384" stop-color="#fff7ef"/><stop offset="0.563" stop-color="#fbfbfb"/><stop offset="0.6151" stop-color="#c8caf5"/><stop offset="0.637" stop-color="#c1c0f5"/><stop offset="0.6562" stop-color="#cbcdf5"/><stop offset="0.6808" stop-color="#eef1fa"/><stop offset="0.689" stop-color="#fffcf8"/><stop offset="0.7027" stop-color="#ffe1bf"/><stop offset="0.7082" stop-color="#ffd8ad"/><stop offset="0.7219" stop-color="#ffca93"/><stop offset="0.7411" stop-color="#ffbe89"/><stop offset="0.8123" stop-color="#ffb898"/><stop offset="0.9986" stop-color="#ffb899"/></linearGradient><linearGradient id="g66" gradientUnits="userSpaceOnUse" x1="56" x2="421"><stop offset="0.00137" stop-color="#8575f8"/><stop offset="0.05342" stop-color="#8d7df6"/><stop offset="0.0726" stop-color="#9b8df5"/><stop offset="0.1137" stop-color="#d0d4f5"/><stop offset="0.1493" stop-color="#f6f8fc"/><stop offset="0.1685" stop-color="#fcfbfb"/><stop offset="0.1932" stop-color="#ebeef9"/><stop offset="0.2233" stop-color="#c8c9f5"/><stop offset="0.2562" stop-color="#a397f5"/><stop offset="0.2726" stop-color="#9f92f5"/><stop offset="0.2918" stop-color="#aca4f5"/><stop offset="0.3274" stop-color="#cfd3f5"/><stop offset="0.3575" stop-color="#e0e4f7"/><stop offset="0.3904" stop-color="#d9ddf6"/><stop offset="0.4397" stop-color="#c3c3f5"/><stop offset="0.4616" stop-color="#c8c9f5"/><stop offset="0.5082" stop-color="#f5f7fc"/><stop offset="0.5192" stop-color="#fffcf8"/><stop offset="0.5411" stop-color="#fff5ea"/><stop offset="0.5603" stop-color="#fffaf5"/><stop offset="0.5712" stop-color="#f7f8fc"/><stop offset="0.6178" stop-color="#c7c8f5"/><stop offset="0.6397" stop-color="#bfbef5"/><stop offset="0.6589" stop-color="#cacbf5"/><stop offset="0.6836" stop-color="#eff2fa"/><stop offset="0.689" stop-color="#fcfbfb"/><stop offset="0.6945" stop-color="#fff5ea"/><stop offset="0.7055" stop-color="#ffddb8"/><stop offset="0.7219" stop-color="#ffcb94"/><stop offset="0.7411" stop-color="#ffbe89"/><stop offset="0.8096" stop-color="#ffb898"/><stop offset="0.9986" stop-color="#ffb899"/></linearGradient><linearGradient id="g67" gradientUnits="userSpaceOnUse" x1="56" x2="421"><stop offset="0.00137" stop-color="#8273f8"/><stop offset="0.05616" stop-color="#8b7bf7"/><stop offset="0.07534" stop-color="#9c8ef5"/><stop offset="0.111" stop-color="#cdd1f5"/><stop offset="0.1438" stop-color="#f5f7fc"/><stop offset="0.1575" stop-color="#fffcf9"/><stop offset="0.1795" stop-color="#fbfbfb"/><stop offset="0.2096" stop-color="#dadef6"/><stop offset="0.2562" stop-color="#a094f5"/><stop offset="0.2726" stop-color="#9d8ff5"/><stop offset="0.2918" stop-color="#aca3f5"/><stop offset="0.3247" stop-color="#d0d3f5"/><stop offset="0.3548" stop-color="#e5e9f7"/><stop offset="0.3822" stop-color="#e1e5f7"/><stop offset="0.4397" stop-color="#c0bff5"/><stop offset="0.4616" stop-color="#c3c3f5"/><stop offset="0.5" stop-color="#e9edf8"/><stop offset="0.5164" stop-color="#fefcfa"/><stop offset="0.5411" stop-color="#fff2e4"/><stop offset="0.5575" stop-color="#fff5eb"/><stop offset="0.5712" stop-color="#fdfcfb"/><stop offset="0.6178" stop-color="#c7c8f5"/><stop offset="0.6397" stop-color="#bdbaf5"/><stop offset="0.6562" stop-color="#c3c3f5"/><stop offset="0.6781" stop-color="#e1e5f7"/><stop offset="0.6918" stop-color="#fffdfa"/><stop offset="0.7027" stop-color="#ffe6cc"/><stop offset="0.7082" stop-color="#ffdbb3"/><stop offset="0.7219" stop-color="#ffcb94"/><stop offset="0.7411" stop-color="#ffbe89"/><stop offset="0.8068" stop-color="#ffb898"/><stop offset="0.9986" stop-color="#ffb899"/></linearGradient><linearGradient id="g68" gradientUnits="userSpaceOnUse" x1="56" x2="421"><stop offset="0.00137" stop-color="#7f6ff9"/><stop offset="0.05068" stop-color="#8777f8"/><stop offset="0.0726" stop-color="#9686f5"/><stop offset="0.09178" stop-color="#b3acf5"/><stop offset="0.1192" stop-color="#d9ddf6"/><stop offset="0.1466" stop-color="#fcfbfb"/><stop offset="0.1658" stop-color="#fff8f0"/><stop offset="0.1822" stop-color="#fefcfa"/><stop offset="0.2123" stop-color="#d7dbf6"/><stop offset="0.2534" stop-color="#a093f5"/><stop offset="0.2671" stop-color="#998af5"/><stop offset="0.2836" stop-color="#a296f5"/><stop offset="0.3247" stop-color="#d3d7f5"/><stop offset="0.3548" stop-color="#ebeef9"/><stop offset="0.3767" stop-color="#e9edf8"/><stop offset="0.4205" stop-color="#c8caf5"/><stop offset="0.4452" stop-color="#bcb9f5"/><stop offset="0.4644" stop-color="#c0bff5"/><stop offset="0.5027" stop-color="#ebeef9"/><stop offset="0.5164" stop-color="#fefcfa"/><stop offset="0.5411" stop-color="#ffefde"/><stop offset="0.5548" stop-color="#ffefdf"/><stop offset="0.574" stop-color="#fffdfa"/><stop offset="0.6178" stop-color="#c7c8f5"/><stop offset="0.6397" stop-color="#bab6f5"/><stop offset="0.6562" stop-color="#bfbdf5"/><stop offset="0.6781" stop-color="#dde1f6"/><stop offset="0.6918" stop-color="#fbfbfb"/><stop offset="0.6973" stop-color="#fff5eb"/><stop offset="0.7082" stop-color="#ffdcb5"/><stop offset="0.7219" stop-color="#ffcc95"/><stop offset="0.7411" stop-color="#ffbe89"/><stop offset="0.8041" stop-color="#ffb898"/><stop offset="0.9986" stop-color="#ffb899"/></linearGradient><linearGradient id="g69" gradientUnits="userSpaceOnUse" x1="56" x2="421"><stop offset="0.00137" stop-color="#7b6cf9"/><stop offset="0.04521" stop-color="#8071f8"/><stop offset="0.0726" stop-color="#9383f5"/><stop offset="0.09178" stop-color="#b1aaf5"/><stop offset="0.1164" stop-color="#d7dbf6"/><stop offset="0.1438" stop-color="#fefcfa"/><stop offset="0.163" stop-color="#fff4e8"/><stop offset="0.1767" stop-color="#fff8ef"/><stop offset="0.1877" stop-color="#fcfbfb"/><stop offset="0.2178" stop-color="#d0d4f5"/><stop offset="0.2534" stop-color="#9c8ef5"/><stop offset="0.2671" stop-color="#9686f5"/><stop offset="0.2836" stop-color="#a093f5"/><stop offset="0.3192" stop-color="#cfd3f5"/><stop offset="0.3493" stop-color="#eef1fa"/><stop offset="0.3685" stop-color="#f2f5fb"/><stop offset="0.4014" stop-color="#dadef6"/><stop offset="0.4425" stop-color="#b9b5f5"/><stop offset="0.4589" stop-color="#b8b4f5"/><stop offset="0.4781" stop-color="#c8c9f5"/><stop offset="0.5164" stop-color="#fefcfa"/><stop offset="0.5384" stop-color="#ffecd9"/><stop offset="0.5521" stop-color="#ffead5"/><stop offset="0.5658" stop-color="#fff2e4"/><stop offset="0.5795" stop-color="#fcfbfb"/><stop offset="0.6205" stop-color="#c4c4f5"/><stop offset="0.6425" stop-color="#b5b0f5"/><stop offset="0.6589" stop-color="#bcbaf5"/><stop offset="0.6808" stop-color="#dee2f6"/><stop offset="0.6945" stop-color="#fffdfa"/><stop offset="0.7055" stop-color="#ffe4c8"/><stop offset="0.711" stop-color="#ffd9b0"/><stop offset="0.7219" stop-color="#ffcc95"/><stop offset="0.7411" stop-color="#ffbe89"/><stop offset="0.8014" stop-color="#ffb898"/><stop offset="0.9986" stop-color="#ffb899"/></linearGradient><linearGradient id="g70" gradientUnits="userSpaceOnUse" x1="56" x2="421"><stop offset="0.00137" stop-color="#7769f9"/><stop offset="0.04795" stop-color="#7c6df9"/><stop offset="0.07534" stop-color="#9383f5"/><stop offset="0.09178" stop-color="#b0a8f5"/><stop offset="0.1164" stop-color="#d8dcf6"/><stop offset="0.1411" stop-color="#fefdfa"/><stop offset="0.1603" stop-color="#ffefdf"/><stop offset="0.174" stop-color="#fff1e3"/><stop offset="0.1904" stop-color="#fcfbfb"/><stop offset="0.2205" stop-color="#cccff5"/><stop offset="0.2507" stop-color="#9c8ef5"/><stop offset="0.2644" stop-color="#9282f6"/><stop offset="0.2781" stop-color="#9889f5"/><stop offset="0.2973" stop-color="#b3adf5"/><stop offset="0.3247" stop-color="#d9ddf6"/><stop offset="0.3521" stop-color="#f6f8fc"/><stop offset="0.3685" stop-color="#fafafb"/><stop offset="0.3959" stop-color="#e2e6f7"/><stop offset="0.4452" stop-color="#b2abf5"/><stop offset="0.4589" stop-color="#b1aaf5"/><stop offset="0.4836" stop-color="#cbcdf5"/><stop offset="0.5164" stop-color="#fefcfa"/><stop offset="0.5411" stop-color="#ffe7cf"/><stop offset="0.5548" stop-color="#ffe6cb"/><stop offset="0.5712" stop-color="#fff2e5"/><stop offset="0.5822" stop-color="#fcfcfb"/><stop offset="0.6205" stop-color="#c3c3f5"/><stop offset="0.6425" stop-color="#b0a9f5"/><stop offset="0.6534" stop-color="#b2abf5"/><stop offset="0.6726" stop-color="#caccf5"/><stop offset="0.6918" stop-color="#f2f5fb"/><stop offset="0.6945" stop-color="#fbfbfb"/><stop offset="0.7" stop-color="#fff4e9"/><stop offset="0.711" stop-color="#ffdab2"/><stop offset="0.7247" stop-color="#ffca93"/><stop offset="0.7411" stop-color="#ffbe89"/><stop offset="0.8014" stop-color="#ffb898"/><stop offset="0.9986" stop-color="#ffb899"/></linearGradient><linearGradient id="g71" gradientUnits="userSpaceOnUse" x1="56" x2="421"><stop offset="0.00137" stop-color="#7365fa"/><stop offset="0.04795" stop-color="#7567f9"/><stop offset="0.07534" stop-color="#9080f6"/><stop offset="0.08904" stop-color="#a89ef5"/><stop offset="0.1055" stop-color="#c6c7f5"/><stop offset="0.1329" stop-color="#f4f6fb"/><stop offset="0.1384" stop-color="#fefdfa"/><stop offset="0.1575" stop-color="#ffebd7"/><stop offset="0.1685" stop-color="#ffead4"/><stop offset="0.1822" stop-color="#fff3e7"/><stop offset="0.1932" stop-color="#fcfbfb"/><stop offset="0.2205" stop-color="#cdd0f5"/><stop offset="0.2507" stop-color="#9889f5"/><stop offset="0.2644" stop-color="#8e7ef6"/><stop offset="0.2781" stop-color="#9585f5"/><stop offset="0.2945" stop-color="#aea6f5"/><stop offset="0.3164" stop-color="#d0d4f5"/><stop offset="0.3466" stop-color="#f9fafb"/><stop offset="0.3575" stop-color="#fffbf5"/><stop offset="0.3712" stop-color="#fffcf8"/><stop offset="0.3877" stop-color="#f0f2fa"/><stop offset="0.4205" stop-color="#c7c8f5"/><stop offset="0.4479" stop-color="#aaa0f5"/><stop offset="0.4589" stop-color="#a99ff5"/><stop offset="0.4726" stop-color="#b8b3f5"/><stop offset="0.511" stop-color="#f4f6fb"/><stop offset="0.5164" stop-color="#fefdfa"/><stop offset="0.5411" stop-color="#ffe3c6"/><stop offset="0.5521" stop-color="#ffe0be"/><stop offset="0.563" stop-color="#ffe4c8"/><stop offset="0.5849" stop-color="#fcfcfb"/><stop offset="0.6205" stop-color="#c3c2f5"/><stop offset="0.6425" stop-color="#aaa0f5"/><stop offset="0.6534" stop-color="#aaa1f5"/><stop offset="0.6699" stop-color="#c0bff5"/><stop offset="0.6918" stop-color="#eff2fa"/><stop offset="0.6973" stop-color="#fffdf9"/><stop offset="0.711" stop-color="#ffdbb3"/><stop offset="0.7247" stop-color="#ffca93"/><stop offset="0.7384" stop-color="#ffbf88"/><stop offset="0.7877" stop-color="#ffb897"/><stop offset="0.9986" stop-color="#ffb899"/></linearGradient><linearGradient id="g72" gradientUnits="userSpaceOnUse" x1="56" x2="421"><stop offset="0.00137" stop-color="#6f62fa"/><stop offset="0.05068" stop-color="#6f62fa"/><stop offset="0.06438" stop-color="#7d6ef9"/><stop offset="0.08356" stop-color="#9b8cf5"/><stop offset="0.1027" stop-color="#c2c1f5"/><stop offset="0.1219" stop-color="#e3e7f7"/><stop offset="0.1356" stop-color="#fefcfa"/><stop offset="0.1575" stop-color="#ffe6cb"/><stop offset="0.1685" stop-color="#ffe4c7"/><stop offset="0.1822" stop-color="#ffeedd"/><stop offset="0.1932" stop-color="#fffcf8"/><stop offset="0.2014" stop-color="#f0f2fa"/><stop offset="0.2233" stop-color="#c8c9f5"/><stop offset="0.2507" stop-color="#9484f5"/><stop offset="0.2644" stop-color="#8979f7"/><stop offset="0.2808" stop-color="#9585f5"/><stop offset="0.311" stop-color="#caccf5"/><stop offset="0.3411" stop-color="#f9fafb"/><stop offset="0.3493" stop-color="#fff9f3"/><stop offset="0.3603" stop-color="#fff3e7"/><stop offset="0.3712" stop-color="#fff6ec"/><stop offset="0.3822" stop-color="#fdfcfa"/><stop offset="0.4151" stop-color="#ced1f5"/><stop offset="0.4479" stop-color="#a296f5"/><stop offset="0.4589" stop-color="#a093f5"/><stop offset="0.4699" stop-color="#aba2f5"/><stop offset="0.4973" stop-color="#dadef6"/><stop offset="0.5164" stop-color="#fffdfa"/><stop offset="0.5411" stop-color="#ffdfbc"/><stop offset="0.5521" stop-color="#ffdbb3"/><stop offset="0.563" stop-color="#ffdeba"/><stop offset="0.5849" stop-color="#fffbf7"/><stop offset="0.5932" stop-color="#f0f3fa"/><stop offset="0.6288" stop-color="#b6b1f5"/><stop offset="0.6425" stop-color="#a498f5"/><stop offset="0.6534" stop-color="#a295f5"/><stop offset="0.6644" stop-color="#b0a8f5"/><stop offset="0.6918" stop-color="#ebeff9"/><stop offset="0.6973" stop-color="#fcfbfb"/><stop offset="0.7027" stop-color="#fff2e4"/><stop offset="0.711" stop-color="#ffdcb5"/><stop offset="0.7219" stop-color="#ffcd97"/><stop offset="0.7384" stop-color="#ffbf89"/><stop offset="0.7849" stop-color="#ffb897"/><stop offset="0.9986" stop-color="#ffb899"/></linearGradient><linearGradient id="g73" gradientUnits="userSpaceOnUse" x1="56" x2="421"><stop offset="0.00137" stop-color="#6b5ffa"/><stop offset="0.05342" stop-color="#695cfb"/><stop offset="0.06712" stop-color="#786af9"/><stop offset="0.0863" stop-color="#9d90f5"/><stop offset="0.1027" stop-color="#c1c0f5"/><stop offset="0.1219" stop-color="#e5e9f8"/><stop offset="0.1329" stop-color="#fcfbfb"/><stop offset="0.1438" stop-color="#ffefdf"/><stop offset="0.1575" stop-color="#ffe0bd"/><stop offset="0.1658" stop-color="#ffddb7"/><stop offset="0.1767" stop-color="#ffe3c5"/><stop offset="0.1959" stop-color="#fffdfa"/><stop offset="0.2205" stop-color="#cdd0f5"/><stop offset="0.2342" stop-color="#b2acf5"/><stop offset="0.2479" stop-color="#9484f5"/><stop offset="0.2616" stop-color="#8474f8"/><stop offset="0.2753" stop-color="#8a7af7"/><stop offset="0.2863" stop-color="#9b8df5"/><stop offset="0.3055" stop-color="#c2c1f5"/><stop offset="0.3247" stop-color="#e3e7f7"/><stop offset="0.3384" stop-color="#fcfbfb"/><stop offset="0.3575" stop-color="#ffecd9"/><stop offset="0.3685" stop-color="#ffedda"/><stop offset="0.3849" stop-color="#fffdf9"/><stop offset="0.3959" stop-color="#edf0f9"/><stop offset="0.4205" stop-color="#c5c6f5"/><stop offset="0.4452" stop-color="#9d90f5"/><stop offset="0.4562" stop-color="#9686f5"/><stop offset="0.4671" stop-color="#9e90f5"/><stop offset="0.4973" stop-color="#d8dcf6"/><stop offset="0.5137" stop-color="#f9fafb"/><stop offset="0.5164" stop-color="#fffcf9"/><stop offset="0.5384" stop-color="#ffddb8"/><stop offset="0.5521" stop-color="#ffd7ac"/><stop offset="0.5658" stop-color="#ffdbb3"/><stop offset="0.5767" stop-color="#ffead4"/><stop offset="0.5877" stop-color="#fffcf8"/><stop offset="0.5959" stop-color="#eef1fa"/><stop offset="0.626" stop-color="#b8b4f5"/><stop offset="0.6397" stop-color="#a093f5"/><stop offset="0.6507" stop-color="#9888f5"/><stop offset="0.6589" stop-color="#9d8ff5"/><stop offset="0.6699" stop-color="#b4aef5"/><stop offset="0.6945" stop-color="#eff2fa"/><stop offset="0.6973" stop-color="#f8f9fc"/><stop offset="0.7" stop-color="#fffbf6"/><stop offset="0.711" stop-color="#ffddb7"/><stop offset="0.7219" stop-color="#ffcd96"/><stop offset="0.7384" stop-color="#ffbe89"/><stop offset="0.7849" stop-color="#ffb897"/><stop offset="0.9986" stop-color="#ffb899"/></linearGradient><linearGradient id="g74" gradientUnits="userSpaceOnUse" x1="56" x2="421"><stop offset="0.00137" stop-color="#685cfb"/><stop offset="0.05616" stop-color="#6156fb"/><stop offset="0.06712" stop-color="#6d61fa"/><stop offset="0.07808" stop-color="#8979f7"/><stop offset="0.08904" stop-color="#a194f5"/><stop offset="0.1027" stop-color="#c1c0f5"/><stop offset="0.1219" stop-color="#e7ebf8"/><stop offset="0.1301" stop-color="#f9fafb"/><stop offset="0.1329" stop-color="#fffcf8"/><stop offset="0.1548" stop-color="#ffdcb4"/><stop offset="0.1685" stop-color="#ffd9af"/><stop offset="0.1767" stop-color="#ffddb7"/><stop offset="0.1986" stop-color="#fdfcfa"/><stop offset="0.2233" stop-color="#c8c9f5"/><stop offset="0.2342" stop-color="#b0a8f5"/><stop offset="0.2452" stop-color="#9585f5"/><stop offset="0.2616" stop-color="#7668f9"/><stop offset="0.2699" stop-color="#796bf9"/><stop offset="0.2863" stop-color="#9889f5"/><stop offset="0.3055" stop-color="#c3c2f5"/><stop offset="0.3247" stop-color="#e7ebf8"/><stop offset="0.3356" stop-color="#fdfcfa"/><stop offset="0.3575" stop-color="#ffe3c5"/><stop offset="0.3658" stop-color="#ffe3c5"/><stop offset="0.3795" stop-color="#fff1e2"/><stop offset="0.3877" stop-color="#fffcf7"/><stop offset="0.3959" stop-color="#f1f3fa"/><stop offset="0.4205" stop-color="#c5c5f5"/><stop offset="0.4452" stop-color="#9686f5"/><stop offset="0.4589" stop-color="#8c7cf7"/><stop offset="0.4699" stop-color="#998af5"/><stop offset="0.4918" stop-color="#caccf5"/><stop offset="0.5137" stop-color="#fafafb"/><stop offset="0.5192" stop-color="#fff8ef"/><stop offset="0.5356" stop-color="#ffdcb5"/><stop offset="0.5521" stop-color="#ffd4a4"/><stop offset="0.5658" stop-color="#ffd7ac"/><stop offset="0.5712" stop-color="#ffdbb4"/><stop offset="0.5904" stop-color="#fffdfa"/><stop offset="0.6151" stop-color="#caccf5"/><stop offset="0.6397" stop-color="#9889f5"/><stop offset="0.6507" stop-color="#8e7ef6"/><stop offset="0.6589" stop-color="#9383f5"/><stop offset="0.6671" stop-color="#a498f5"/><stop offset="0.6836" stop-color="#ced2f5"/><stop offset="0.7" stop-color="#fffdfa"/><stop offset="0.7082" stop-color="#ffe6cb"/><stop offset="0.711" stop-color="#ffdeb9"/><stop offset="0.7219" stop-color="#ffcc96"/><stop offset="0.7356" stop-color="#ffbf88"/><stop offset="0.7767" stop-color="#ffb897"/><stop offset="0.9986" stop-color="#ffb899"/></linearGradient><linearGradient id="g75" gradientUnits="userSpaceOnUse" x1="56" x2="421"><stop offset="0.00137" stop-color="#6459fb"/><stop offset="0.0589" stop-color="#584efc"/><stop offset="0.06712" stop-color="#6156fb"/><stop offset="0.08082" stop-color="#8a7af7"/><stop offset="0.09178" stop-color="#a599f5"/><stop offset="0.1055" stop-color="#c6c7f5"/><stop offset="0.1274" stop-color="#f6f8fc"/><stop offset="0.1301" stop-color="#fefcfa"/><stop offset="0.1493" stop-color="#ffdcb5"/><stop offset="0.163" stop-color="#ffd4a6"/><stop offset="0.174" stop-color="#ffd7ab"/><stop offset="0.1822" stop-color="#ffdeba"/><stop offset="0.1986" stop-color="#fffcf7"/><stop offset="0.2041" stop-color="#f2f5fb"/><stop offset="0.2233" stop-color="#c8c9f5"/><stop offset="0.2342" stop-color="#ada5f5"/><stop offset="0.2452" stop-color="#9080f6"/><stop offset="0.2507" stop-color="#8575f8"/><stop offset="0.2589" stop-color="#695dfb"/><stop offset="0.2644" stop-color="#6358fb"/><stop offset="0.2726" stop-color="#7164fa"/><stop offset="0.2781" stop-color="#8474f8"/><stop offset="0.289" stop-color="#9b8df5"/><stop offset="0.3027" stop-color="#bebcf5"/><stop offset="0.3192" stop-color="#dfe3f7"/><stop offset="0.3329" stop-color="#fefcfa"/><stop offset="0.3548" stop-color="#ffdcb5"/><stop offset="0.3658" stop-color="#ffdbb2"/><stop offset="0.3712" stop-color="#ffdfbb"/><stop offset="0.3904" stop-color="#fffbf7"/><stop offset="0.3959" stop-color="#f5f7fc"/><stop offset="0.4178" stop-color="#c9cbf5"/><stop offset="0.4315" stop-color="#aca3f5"/><stop offset="0.4425" stop-color="#9383f5"/><stop offset="0.4562" stop-color="#7d6ef9"/><stop offset="0.4616" stop-color="#8071f8"/><stop offset="0.4726" stop-color="#9585f5"/><stop offset="0.4918" stop-color="#c7c8f5"/><stop offset="0.5137" stop-color="#fafafb"/><stop offset="0.5192" stop-color="#fff6ec"/><stop offset="0.5329" stop-color="#ffdcb5"/><stop offset="0.5521" stop-color="#ffd09c"/><stop offset="0.563" stop-color="#ffd1a0"/><stop offset="0.574" stop-color="#ffdab2"/><stop offset="0.5904" stop-color="#fffaf4"/><stop offset="0.5932" stop-color="#fcfbfb"/><stop offset="0.6151" stop-color="#c9cbf5"/><stop offset="0.626" stop-color="#b1aaf5"/><stop offset="0.637" stop-color="#9687f5"/><stop offset="0.6507" stop-color="#8373f8"/><stop offset="0.6589" stop-color="#8878f7"/><stop offset="0.6671" stop-color="#998af5"/><stop offset="0.6836" stop-color="#caccf5"/><stop offset="0.7" stop-color="#fcfcfb"/><stop offset="0.7027" stop-color="#fff8f0"/><stop offset="0.711" stop-color="#ffdeba"/><stop offset="0.7219" stop-color="#ffcc95"/><stop offset="0.7356" stop-color="#ffbf88"/><stop offset="0.774" stop-color="#ffb898"/><stop offset="0.9986" stop-color="#ffb899"/></linearGradient><linearGradient id="g76" gradientUnits="userSpaceOnUse" x1="56" x2="421"><stop offset="0.00137" stop-color="#6056fb"/><stop offset="0.03973" stop-color="#554cfc"/><stop offset="0.06164" stop-color="#4d46fd"/><stop offset="0.06986" stop-color="#5a50fc"/><stop offset="0.08082" stop-color="#8676f8"/><stop offset="0.09178" stop-color="#a296f5"/><stop offset="0.1027" stop-color="#c0bef5"/><stop offset="0.1192" stop-color="#e5e9f7"/><stop offset="0.1274" stop-color="#fafafb"/><stop offset="0.1329" stop-color="#fff6ec"/><stop offset="0.1466" stop-color="#ffdbb4"/><stop offset="0.163" stop-color="#ffd09c"/><stop offset="0.174" stop-color="#ffd3a3"/><stop offset="0.1849" stop-color="#ffddb7"/><stop offset="0.2014" stop-color="#fefcfa"/><stop offset="0.2233" stop-color="#c7c9f5"/><stop offset="0.2342" stop-color="#aba1f5"/><stop offset="0.2452" stop-color="#8b7bf7"/><stop offset="0.2479" stop-color="#8575f8"/><stop offset="0.2562" stop-color="#5f54fc"/><stop offset="0.2616" stop-color="#5049fd"/><stop offset="0.2671" stop-color="#524afd"/><stop offset="0.2753" stop-color="#6c5ffa"/><stop offset="0.2808" stop-color="#8575f8"/><stop offset="0.2918" stop-color="#a093f5"/><stop offset="0.3027" stop-color="#bebcf5"/><stop offset="0.3164" stop-color="#dce0f6"/><stop offset="0.3301" stop-color="#fdfcfa"/><stop offset="0.3411" stop-color="#ffe9d3"/><stop offset="0.3493" stop-color="#ffdbb3"/><stop offset="0.3603" stop-color="#ffd4a5"/><stop offset="0.3712" stop-color="#ffd8ae"/><stop offset="0.3767" stop-color="#ffdeba"/><stop offset="0.3932" stop-color="#fffcf7"/><stop offset="0.3986" stop-color="#f3f5fb"/><stop offset="0.4178" stop-color="#c9caf5"/><stop offset="0.4288" stop-color="#afa7f5"/><stop offset="0.4397" stop-color="#9181f6"/><stop offset="0.4452" stop-color="#8575f8"/><stop offset="0.4534" stop-color="#665afb"/><stop offset="0.4589" stop-color="#5f54fc"/><stop offset="0.4644" stop-color="#6b5efa"/><stop offset="0.4699" stop-color="#8575f8"/><stop offset="0.4781" stop-color="#9b8df5"/><stop offset="0.489" stop-color="#bdbaf5"/><stop offset="0.5027" stop-color="#dee2f6"/><stop offset="0.5137" stop-color="#fbfbfb"/><stop offset="0.5192" stop-color="#fff4e9"/><stop offset="0.5301" stop-color="#ffddb7"/><stop offset="0.5493" stop-color="#ffcd96"/><stop offset="0.563" stop-color="#ffcd96"/><stop offset="0.5767" stop-color="#ffdab1"/><stop offset="0.5822" stop-color="#ffe4c7"/><stop offset="0.5932" stop-color="#fffcf8"/><stop offset="0.5986" stop-color="#f0f3fa"/><stop offset="0.6178" stop-color="#c3c2f5"/><stop offset="0.637" stop-color="#8f7ff6"/><stop offset="0.6425" stop-color="#8373f8"/><stop offset="0.6507" stop-color="#675bfb"/><stop offset="0.6562" stop-color="#665bfb"/><stop offset="0.6671" stop-color="#8e7ef6"/><stop offset="0.6753" stop-color="#aba1f5"/><stop offset="0.6863" stop-color="#cdd0f5"/><stop offset="0.7" stop-color="#f9fafb"/><stop offset="0.7027" stop-color="#fff9f3"/><stop offset="0.711" stop-color="#ffdfbc"/><stop offset="0.7192" stop-color="#ffd09d"/><stop offset="0.7247" stop-color="#ffc891"/><stop offset="0.7356" stop-color="#ffbe89"/><stop offset="0.7712" stop-color="#ffb898"/><stop offset="0.9986" stop-color="#ffb899"/></linearGradient><linearGradient id="g77" gradientUnits="userSpaceOnUse" x1="56" x2="421"><stop offset="0.00137" stop-color="#5d53fc"/><stop offset="0.03425" stop-color="#524afd"/><stop offset="0.06438" stop-color="#403cfe"/><stop offset="0.06986" stop-color="#4a44fd"/><stop offset="0.07808" stop-color="#6e61fa"/><stop offset="0.08356" stop-color="#8878f7"/><stop offset="0.09178" stop-color="#9f92f5"/><stop offset="0.1027" stop-color="#bfbdf5"/><stop offset="0.1192" stop-color="#e7ebf8"/><stop offset="0.1274" stop-color="#fefdfa"/><stop offset="0.1438" stop-color="#ffdbb3"/><stop offset="0.1603" stop-color="#ffcc95"/><stop offset="0.1712" stop-color="#ffcc96"/><stop offset="0.1877" stop-color="#ffddb6"/><stop offset="0.2014" stop-color="#fffbf6"/><stop offset="0.2068" stop-color="#f1f4fb"/><stop offset="0.2233" stop-color="#c7c8f5"/><stop offset="0.2315" stop-color="#b1aaf5"/><stop offset="0.2425" stop-color="#8e7ef6"/><stop offset="0.2452" stop-color="#8676f8"/><stop offset="0.2562" stop-color="#4b45fd"/><stop offset="0.2616" stop-color="#3937fe"/><stop offset="0.2671" stop-color="#3d3afe"/><stop offset="0.2753" stop-color="#5c52fc"/><stop offset="0.2836" stop-color="#8676f8"/><stop offset="0.2918" stop-color="#9e90f5"/><stop offset="0.3027" stop-color="#bebcf5"/><stop offset="0.3164" stop-color="#dfe3f6"/><stop offset="0.3274" stop-color="#fcfbfb"/><stop offset="0.3329" stop-color="#fff4e9"/><stop offset="0.3438" stop-color="#ffddb6"/><stop offset="0.3575" stop-color="#ffcf9a"/><stop offset="0.3658" stop-color="#ffcf9a"/><stop offset="0.3795" stop-color="#ffdcb5"/><stop offset="0.3959" stop-color="#fffdfa"/><stop offset="0.4178" stop-color="#c8caf5"/><stop offset="0.4288" stop-color="#aba2f5"/><stop offset="0.4397" stop-color="#8a7af7"/><stop offset="0.4425" stop-color="#8272f8"/><stop offset="0.4507" stop-color="#544cfc"/><stop offset="0.4562" stop-color="#403cfe"/><stop offset="0.4589" stop-color="#3d3afe"/><stop offset="0.4616" stop-color="#403cfe"/><stop offset="0.4671" stop-color="#594ffc"/><stop offset="0.4726" stop-color="#7d6ef9"/><stop offset="0.4836" stop-color="#a59af5"/><stop offset="0.4918" stop-color="#c0bff5"/><stop offset="0.5055" stop-color="#e4e8f7"/><stop offset="0.5137" stop-color="#fdfcfb"/><stop offset="0.5219" stop-color="#ffebd8"/><stop offset="0.5301" stop-color="#ffdab2"/><stop offset="0.5466" stop-color="#ffca93"/><stop offset="0.5603" stop-color="#ffc790"/><stop offset="0.5712" stop-color="#ffd09d"/><stop offset="0.5822" stop-color="#ffdeba"/><stop offset="0.5932" stop-color="#fff9f2"/><stop offset="0.5959" stop-color="#fdfcfb"/><stop offset="0.6151" stop-color="#c8caf5"/><stop offset="0.626" stop-color="#aaa0f5"/><stop offset="0.6342" stop-color="#9080f6"/><stop offset="0.6397" stop-color="#7d6ef9"/><stop offset="0.6479" stop-color="#514afd"/><stop offset="0.6534" stop-color="#423efe"/><stop offset="0.6562" stop-color="#433ffe"/><stop offset="0.6616" stop-color="#5b51fc"/><stop offset="0.6671" stop-color="#8273f8"/><stop offset="0.6753" stop-color="#a295f5"/><stop offset="0.6808" stop-color="#b8b4f5"/><stop offset="0.6945" stop-color="#e3e7f7"/><stop offset="0.7" stop-color="#f6f8fc"/><stop offset="0.7027" stop-color="#fffbf5"/><stop offset="0.711" stop-color="#ffdfbc"/><stop offset="0.7192" stop-color="#ffcf9c"/><stop offset="0.7274" stop-color="#ffc48d"/><stop offset="0.7329" stop-color="#ffbf88"/><stop offset="0.763" stop-color="#ffb899"/><stop offset="0.9986" stop-color="#ffb899"/></linearGradient><linearGradient id="g78" gradientUnits="userSpaceOnUse" x1="56" x2="421"><stop offset="0.00137" stop-color="#5a50fc"/><stop offset="0.03151" stop-color="#4f48fd"/><stop offset="0.06438" stop-color="#2f2fff"/><stop offset="0.06712" stop-color="#3030ff"/><stop offset="0.0726" stop-color="#433ffe"/><stop offset="0.08082" stop-color="#7163fa"/><stop offset="0.08356" stop-color="#8272f8"/><stop offset="0.09178" stop-color="#9b8df5"/><stop offset="0.1027" stop-color="#bebcf5"/><stop offset="0.1192" stop-color="#e9edf8"/><stop offset="0.1247" stop-color="#f9fafb"/><stop offset="0.1274" stop-color="#fffbf6"/><stop offset="0.1411" stop-color="#ffdbb3"/><stop offset="0.1548" stop-color="#ffcb94"/><stop offset="0.1685" stop-color="#ffc68f"/><stop offset="0.1795" stop-color="#ffd09c"/><stop offset="0.1904" stop-color="#ffddb7"/><stop offset="0.2014" stop-color="#fff8f0"/><stop offset="0.2041" stop-color="#fefcfa"/><stop offset="0.2233" stop-color="#c7c8f5"/><stop offset="0.2315" stop-color="#aea6f5"/><stop offset="0.2397" stop-color="#9181f6"/><stop offset="0.2452" stop-color="#7b6cf9"/><stop offset="0.2534" stop-color="#4641fd"/><stop offset="0.2616" stop-color="#1b1bff"/><stop offset="0.2644" stop-color="#1a1aff"/><stop offset="0.2699" stop-color="#2f2fff"/><stop offset="0.2808" stop-color="#6c60fa"/><stop offset="0.2836" stop-color="#7e6ff9"/><stop offset="0.2945" stop-color="#a498f5"/><stop offset="0.3027" stop-color="#bebcf5"/><stop offset="0.3164" stop-color="#e2e6f7"/><stop offset="0.3247" stop-color="#f9f9fb"/><stop offset="0.3274" stop-color="#fffbf7"/><stop offset="0.3411" stop-color="#ffdbb4"/><stop offset="0.3548" stop-color="#ffcb94"/><stop offset="0.363" stop-color="#ffc68f"/><stop offset="0.3712" stop-color="#ffce99"/><stop offset="0.3822" stop-color="#ffdbb3"/><stop offset="0.3959" stop-color="#fffaf3"/><stop offset="0.3986" stop-color="#fcfbfb"/><stop offset="0.4178" stop-color="#c8c9f5"/><stop offset="0.426" stop-color="#b1aaf5"/><stop offset="0.437" stop-color="#8b7bf7"/><stop offset="0.4397" stop-color="#8171f8"/><stop offset="0.4479" stop-color="#4943fd"/><stop offset="0.4562" stop-color="#1919ff"/><stop offset="0.4589" stop-color="#1010ff"/><stop offset="0.4616" stop-color="#1616ff"/><stop offset="0.4726" stop-color="#6358fb"/><stop offset="0.4753" stop-color="#7a6bf9"/><stop offset="0.4808" stop-color="#9383f5"/><stop offset="0.4918" stop-color="#bcbaf5"/><stop offset="0.5055" stop-color="#e3e7f7"/><stop offset="0.5137" stop-color="#fefdfa"/><stop offset="0.5219" stop-color="#ffe9d2"/><stop offset="0.5274" stop-color="#ffdcb4"/><stop offset="0.5411" stop-color="#ffcc95"/><stop offset="0.5575" stop-color="#ffc18a"/><stop offset="0.5712" stop-color="#ffcc95"/><stop offset="0.5822" stop-color="#ffdab1"/><stop offset="0.5959" stop-color="#fffcf7"/><stop offset="0.5986" stop-color="#f7f8fc"/><stop offset="0.6151" stop-color="#c8c9f5"/><stop offset="0.6233" stop-color="#afa8f5"/><stop offset="0.6315" stop-color="#9282f6"/><stop offset="0.637" stop-color="#7b6cf9"/><stop offset="0.6452" stop-color="#433ffe"/><stop offset="0.6534" stop-color="#1717ff"/><stop offset="0.6562" stop-color="#1616ff"/><stop offset="0.6589" stop-color="#2424ff"/><stop offset="0.6671" stop-color="#655afb"/><stop offset="0.6699" stop-color="#7e6ff9"/><stop offset="0.6781" stop-color="#a498f5"/><stop offset="0.6863" stop-color="#c4c4f5"/><stop offset="0.7" stop-color="#f4f6fb"/><stop offset="0.7027" stop-color="#fffcf7"/><stop offset="0.711" stop-color="#ffdfbc"/><stop offset="0.7192" stop-color="#ffcf9a"/><stop offset="0.7301" stop-color="#ffc18a"/><stop offset="0.7548" stop-color="#ffb89b"/><stop offset="0.9986" stop-color="#ffb899"/></linearGradient><linearGradient id="g79" gradientUnits="userSpaceOnUse" x1="56" x2="421"><stop offset="0.00137" stop-color="#574dfc"/><stop offset="0.02877" stop-color="#4c46fd"/><stop offset="0.05616" stop-color="#2d2dff"/><stop offset="0.06712" stop-color="#1414ff"/><stop offset="0.07534" stop-color="#413dfe"/><stop offset="0.0863" stop-color="#8676f8"/><stop offset="0.09452" stop-color="#a195f5"/><stop offset="0.1027" stop-color="#bdbbf5"/><stop offset="0.1164" stop-color="#e3e7f7"/><stop offset="0.1247" stop-color="#fdfcfa"/><stop offset="0.1301" stop-color="#fff0e1"/><stop offset="0.1384" stop-color="#ffdcb4"/><stop offset="0.1521" stop-color="#ffca93"/><stop offset="0.1658" stop-color="#ffbf88"/><stop offset="0.1795" stop-color="#ffcc95"/><stop offset="0.1932" stop-color="#ffdeba"/><stop offset="0.2041" stop-color="#fffbf6"/><stop offset="0.2068" stop-color="#f8f9fc"/><stop offset="0.2233" stop-color="#c6c7f5"/><stop offset="0.2315" stop-color="#aba2f5"/><stop offset="0.2397" stop-color="#8c7cf7"/><stop offset="0.2425" stop-color="#8272f8"/><stop offset="0.2507" stop-color="#4540fe"/><stop offset="0.2562" stop-color="#1e1eff"/><stop offset="0.2589" stop-color="#0808ff"/><stop offset="0.2616" stop-color="#0000fa"/><stop offset="0.2671" stop-color="#0404ff"/><stop offset="0.2753" stop-color="#3a38fe"/><stop offset="0.2863" stop-color="#8575f8"/><stop offset="0.2945" stop-color="#a295f5"/><stop offset="0.3027" stop-color="#bebcf5"/><stop offset="0.3164" stop-color="#e4e8f7"/><stop offset="0.3247" stop-color="#fffdfa"/><stop offset="0.3384" stop-color="#ffdbb3"/><stop offset="0.3493" stop-color="#ffcc95"/><stop offset="0.363" stop-color="#ffbf88"/><stop offset="0.3767" stop-color="#ffd09d"/><stop offset="0.3849" stop-color="#ffdbb2"/><stop offset="0.3986" stop-color="#fffcf7"/><stop offset="0.4014" stop-color="#f7f9fc"/><stop offset="0.4178" stop-color="#c8c9f5"/><stop offset="0.4233" stop-color="#b8b4f5"/><stop offset="0.4342" stop-color="#8e7ef6"/><stop offset="0.437" stop-color="#8474f8"/><stop offset="0.4479" stop-color="#2f2fff"/><stop offset="0.4534" stop-color="#0202ff"/><stop offset="0.4589" stop-color="#0000f0"/><stop offset="0.4644" stop-color="#0000fd"/><stop offset="0.4699" stop-color="#3130ff"/><stop offset="0.4781" stop-color="#7b6cf9"/><stop offset="0.4836" stop-color="#9686f5"/><stop offset="0.4918" stop-color="#b9b5f5"/><stop offset="0.5027" stop-color="#dbdff6"/><stop offset="0.511" stop-color="#f5f7fc"/><stop offset="0.5137" stop-color="#fffcf9"/><stop offset="0.5247" stop-color="#ffdeba"/><stop offset="0.5384" stop-color="#ffcb94"/><stop offset="0.5521" stop-color="#ffbf88"/><stop offset="0.5603" stop-color="#ffbd8b"/><stop offset="0.5658" stop-color="#ffc28b"/><stop offset="0.5767" stop-color="#ffcf9b"/><stop offset="0.5849" stop-color="#ffdbb2"/><stop offset="0.5959" stop-color="#fff9f2"/><stop offset="0.5986" stop-color="#fbfbfb"/><stop offset="0.6151" stop-color="#c7c8f5"/><stop offset="0.6205" stop-color="#b7b2f5"/><stop offset="0.6288" stop-color="#9686f5"/><stop offset="0.6342" stop-color="#7e6ff9"/><stop offset="0.6452" stop-color="#2727ff"/><stop offset="0.6479" stop-color="#1010ff"/><stop offset="0.6507" stop-color="#0000fc"/><stop offset="0.6562" stop-color="#0000f1"/><stop offset="0.6589" stop-color="#0000fa"/><stop offset="0.6616" stop-color="#1010ff"/><stop offset="0.6644" stop-color="#2d2dff"/><stop offset="0.6726" stop-color="#7f70f8"/><stop offset="0.6808" stop-color="#a89ef5"/><stop offset="0.6863" stop-color="#c0bef5"/><stop offset="0.6973" stop-color="#e7ebf8"/><stop offset="0.7027" stop-color="#fffdf9"/><stop offset="0.711" stop-color="#ffdfbb"/><stop offset="0.7192" stop-color="#ffce98"/><stop offset="0.7301" stop-color="#ffbf88"/><stop offset="0.7493" stop-color="#ffb89b"/><stop offset="0.7575" stop-color="#ffb89f"/><stop offset="0.9932" stop-color="#ffb899"/><stop offset="0.9986" stop-color="#ffb899"/></linearGradient><linearGradient id="g80" gradientUnits="userSpaceOnUse" x1="56" x2="421"><stop offset="0.00137" stop-color="#544bfc"/><stop offset="0.02603" stop-color="#4a44fd"/><stop offset="0.05068" stop-color="#2d2dff"/><stop offset="0.06164" stop-color="#1111ff"/><stop offset="0.06438" stop-color="#0606ff"/><stop offset="0.06986" stop-color="#0909ff"/><stop offset="0.07534" stop-color="#3030ff"/><stop offset="0.0863" stop-color="#7d6ef9"/><stop offset="0.09726" stop-color="#a99ef5"/><stop offset="0.1055" stop-color="#c4c5f5"/><stop offset="0.1219" stop-color="#f7f8fc"/><stop offset="0.1247" stop-color="#fffbf7"/><stop offset="0.1356" stop-color="#ffddb7"/><stop offset="0.1493" stop-color="#ffca93"/><stop offset="0.1603" stop-color="#ffbe89"/><stop offset="0.1685" stop-color="#ffbd8b"/><stop offset="0.174" stop-color="#ffc28b"/><stop offset="0.1849" stop-color="#ffcf9a"/><stop offset="0.1932" stop-color="#ffdab1"/><stop offset="0.2041" stop-color="#fff8f1"/><stop offset="0.2068" stop-color="#fcfbfb"/><stop offset="0.2233" stop-color="#c6c7f5"/><stop offset="0.2315" stop-color="#a89ef5"/><stop offset="0.2397" stop-color="#8777f7"/><stop offset="0.2507" stop-color="#3232ff"/><stop offset="0.2562" stop-color="#0505ff"/><stop offset="0.2616" stop-color="#0000f2"/><stop offset="0.2671" stop-color="#0000f5"/><stop offset="0.2699" stop-color="#0000fd"/><stop offset="0.2808" stop-color="#5048fd"/><stop offset="0.2863" stop-color="#7b6cf9"/><stop offset="0.2945" stop-color="#9f92f5"/><stop offset="0.3027" stop-color="#bebcf5"/><stop offset="0.3137" stop-color="#dfe3f7"/><stop offset="0.3219" stop-color="#fafafb"/><stop offset="0.3247" stop-color="#fff9f3"/><stop offset="0.3356" stop-color="#ffdbb3"/><stop offset="0.3466" stop-color="#ffcb94"/><stop offset="0.3548" stop-color="#ffc089"/><stop offset="0.363" stop-color="#ffbc8c"/><stop offset="0.3712" stop-color="#ffc58e"/><stop offset="0.3795" stop-color="#ffcf9b"/><stop offset="0.3877" stop-color="#ffdbb2"/><stop offset="0.3986" stop-color="#fff8f1"/><stop offset="0.4014" stop-color="#fcfbfb"/><stop offset="0.4178" stop-color="#c7c8f5"/><stop offset="0.4233" stop-color="#b5b0f5"/><stop offset="0.4315" stop-color="#9282f6"/><stop offset="0.4342" stop-color="#8777f7"/><stop offset="0.4452" stop-color="#2a2aff"/><stop offset="0.4479" stop-color="#1111ff"/><stop offset="0.4507" stop-color="#0000fc"/><stop offset="0.4589" stop-color="#0000de"/><stop offset="0.4616" stop-color="#0000e0"/><stop offset="0.4671" stop-color="#0000fa"/><stop offset="0.4699" stop-color="#0f0fff"/><stop offset="0.4726" stop-color="#2d2dff"/><stop offset="0.4808" stop-color="#8070f8"/><stop offset="0.489" stop-color="#a79df5"/><stop offset="0.4945" stop-color="#bebcf5"/><stop offset="0.5027" stop-color="#dadef6"/><stop offset="0.511" stop-color="#f6f8fc"/><stop offset="0.5137" stop-color="#fffbf6"/><stop offset="0.5247" stop-color="#ffdbb3"/><stop offset="0.5356" stop-color="#ffcc95"/><stop offset="0.5493" stop-color="#ffbe89"/><stop offset="0.5575" stop-color="#ffba8f"/><stop offset="0.5658" stop-color="#ffbf89"/><stop offset="0.5767" stop-color="#ffcb94"/><stop offset="0.5877" stop-color="#ffdcb5"/><stop offset="0.5986" stop-color="#fffdf9"/><stop offset="0.6068" stop-color="#e1e5f7"/><stop offset="0.6178" stop-color="#bebcf5"/><stop offset="0.6288" stop-color="#9080f6"/><stop offset="0.6315" stop-color="#8575f8"/><stop offset="0.6425" stop-color="#2121ff"/><stop offset="0.6452" stop-color="#0707ff"/><stop offset="0.6479" stop-color="#0000f8"/><stop offset="0.6534" stop-color="#0000e0"/><stop offset="0.6562" stop-color="#0000de"/><stop offset="0.6616" stop-color="#0000f6"/><stop offset="0.6644" stop-color="#0707ff"/><stop offset="0.6671" stop-color="#2828ff"/><stop offset="0.6753" stop-color="#8474f8"/><stop offset="0.6808" stop-color="#9f92f5"/><stop offset="0.6863" stop-color="#bbb8f5"/><stop offset="0.6945" stop-color="#dadef6"/><stop offset="0.7027" stop-color="#fefdfa"/><stop offset="0.7082" stop-color="#ffe9d2"/><stop offset="0.711" stop-color="#ffdeb9"/><stop offset="0.7192" stop-color="#ffcc96"/><stop offset="0.7301" stop-color="#ffbe89"/><stop offset="0.7466" stop-color="#ffb89a"/><stop offset="0.7548" stop-color="#ffb8a3"/><stop offset="0.8178" stop-color="#ffb89b"/><stop offset="0.9986" stop-color="#ffb899"/></linearGradient><linearGradient id="g81" gradientUnits="userSpaceOnUse" x1="56" x2="421"><stop offset="0.00137" stop-color="#5149fd"/><stop offset="0.02603" stop-color="#4641fd"/><stop offset="0.04795" stop-color="#2a2aff"/><stop offset="0.0589" stop-color="#0f0fff"/><stop offset="0.06164" stop-color="#0505ff"/><stop offset="0.0726" stop-color="#0808ff"/><stop offset="0.07808" stop-color="#3332ff"/><stop offset="0.0863" stop-color="#7063fa"/><stop offset="0.08904" stop-color="#8575f8"/><stop offset="0.09726" stop-color="#a59af5"/><stop offset="0.1055" stop-color="#c4c4f5"/><stop offset="0.1192" stop-color="#f0f3fa"/><stop offset="0.1219" stop-color="#fbfbfb"/><stop offset="0.1247" stop-color="#fff9f1"/><stop offset="0.1329" stop-color="#ffdfbc"/><stop offset="0.1411" stop-color="#ffd19f"/><stop offset="0.1493" stop-color="#ffc68f"/><stop offset="0.1575" stop-color="#ffbe8a"/><stop offset="0.1712" stop-color="#ffbd8b"/><stop offset="0.1767" stop-color="#ffc28b"/><stop offset="0.1877" stop-color="#ffcf9b"/><stop offset="0.1959" stop-color="#ffdbb4"/><stop offset="0.2068" stop-color="#fffcf8"/><stop offset="0.2096" stop-color="#f4f7fc"/><stop offset="0.2233" stop-color="#c6c6f5"/><stop offset="0.2315" stop-color="#a59af5"/><stop offset="0.2397" stop-color="#7e6ff9"/><stop offset="0.2507" stop-color="#1d1dff"/><stop offset="0.2534" stop-color="#0505ff"/><stop offset="0.2589" stop-color="#0000f1"/><stop offset="0.2671" stop-color="#0000f0"/><stop offset="0.2726" stop-color="#0000fd"/><stop offset="0.2753" stop-color="#1111ff"/><stop offset="0.2808" stop-color="#403cfe"/><stop offset="0.289" stop-color="#8676f8"/><stop offset="0.2973" stop-color="#a89ef5"/><stop offset="0.3055" stop-color="#c7c8f5"/><stop offset="0.3192" stop-color="#f4f7fc"/><stop offset="0.3219" stop-color="#fffcf9"/><stop offset="0.3329" stop-color="#ffdcb4"/><stop offset="0.3438" stop-color="#ffcb94"/><stop offset="0.3521" stop-color="#ffc089"/><stop offset="0.3658" stop-color="#ffbc8d"/><stop offset="0.3712" stop-color="#ffc18a"/><stop offset="0.3822" stop-color="#ffcf9b"/><stop offset="0.3904" stop-color="#ffdbb4"/><stop offset="0.4014" stop-color="#fffcf7"/><stop offset="0.4041" stop-color="#f5f7fc"/><stop offset="0.4178" stop-color="#c7c7f5"/><stop offset="0.426" stop-color="#a69bf5"/><stop offset="0.4342" stop-color="#7c6df9"/><stop offset="0.4425" stop-color="#2b2bff"/><stop offset="0.4452" stop-color="#0f0fff"/><stop offset="0.4479" stop-color="#0000fa"/><stop offset="0.4562" stop-color="#0000dc"/><stop offset="0.4644" stop-color="#0000de"/><stop offset="0.4699" stop-color="#0000f8"/><stop offset="0.4726" stop-color="#0d0dff"/><stop offset="0.4753" stop-color="#2e2eff"/><stop offset="0.4836" stop-color="#8676f8"/><stop offset="0.489" stop-color="#a194f5"/><stop offset="0.4945" stop-color="#bbb8f5"/><stop offset="0.5027" stop-color="#d9ddf6"/><stop offset="0.511" stop-color="#f7f9fc"/><stop offset="0.5137" stop-color="#fffaf4"/><stop offset="0.5219" stop-color="#ffdeba"/><stop offset="0.5329" stop-color="#ffcc95"/><stop offset="0.5466" stop-color="#ffbe8a"/><stop offset="0.5575" stop-color="#ffba90"/><stop offset="0.5658" stop-color="#ffbc8c"/><stop offset="0.5712" stop-color="#ffc18a"/><stop offset="0.5795" stop-color="#ffcb94"/><stop offset="0.5904" stop-color="#ffdfbb"/><stop offset="0.5986" stop-color="#fffaf4"/><stop offset="0.6014" stop-color="#f7f9fc"/><stop offset="0.6151" stop-color="#c6c7f5"/><stop offset="0.6233" stop-color="#a498f5"/><stop offset="0.6288" stop-color="#8a7af7"/><stop offset="0.6315" stop-color="#7567f9"/><stop offset="0.6397" stop-color="#2222ff"/><stop offset="0.6425" stop-color="#0404ff"/><stop offset="0.6507" stop-color="#0000de"/><stop offset="0.6589" stop-color="#0000dd"/><stop offset="0.6616" stop-color="#0000e5"/><stop offset="0.6671" stop-color="#0404ff"/><stop offset="0.6699" stop-color="#2828ff"/><stop offset="0.6781" stop-color="#8777f7"/><stop offset="0.6836" stop-color="#a69af5"/><stop offset="0.689" stop-color="#c1c0f5"/><stop offset="0.7" stop-color="#eff2fa"/><stop offset="0.7027" stop-color="#fdfcfa"/><stop offset="0.7055" stop-color="#fff4e9"/><stop offset="0.711" stop-color="#ffddb7"/><stop offset="0.7192" stop-color="#ffcb94"/><stop offset="0.7274" stop-color="#ffc089"/><stop offset="0.7438" stop-color="#ffb899"/><stop offset="0.7521" stop-color="#ffb8a3"/><stop offset="0.8699" stop-color="#ffb899"/><stop offset="0.9986" stop-color="#ffb899"/></linearGradient><linearGradient id="g82" gradientUnits="userSpaceOnUse" x1="56" x2="421"><stop offset="0.00137" stop-color="#4e47fd"/><stop offset="0.02329" stop-color="#4540fd"/><stop offset="0.04247" stop-color="#2d2dff"/><stop offset="0.05616" stop-color="#0e0eff"/><stop offset="0.0589" stop-color="#0505ff"/><stop offset="0.0726" stop-color="#0505ff"/><stop offset="0.07534" stop-color="#0c0cff"/><stop offset="0.08082" stop-color="#3735ff"/><stop offset="0.08904" stop-color="#7a6bf9"/><stop offset="0.09452" stop-color="#9586f5"/><stop offset="0.1027" stop-color="#bab7f5"/><stop offset="0.1137" stop-color="#dfe3f6"/><stop offset="0.1219" stop-color="#fffdfa"/><stop offset="0.1329" stop-color="#ffdbb2"/><stop offset="0.1438" stop-color="#ffca93"/><stop offset="0.1521" stop-color="#ffc089"/><stop offset="0.1712" stop-color="#ffbc8d"/><stop offset="0.1795" stop-color="#ffc18a"/><stop offset="0.1877" stop-color="#ffcb94"/><stop offset="0.1986" stop-color="#ffddb8"/><stop offset="0.2068" stop-color="#fff9f2"/><stop offset="0.2096" stop-color="#f8f9fb"/><stop offset="0.2233" stop-color="#c5c5f5"/><stop offset="0.2288" stop-color="#afa7f5"/><stop offset="0.2342" stop-color="#9484f5"/><stop offset="0.237" stop-color="#8777f7"/><stop offset="0.2479" stop-color="#2020ff"/><stop offset="0.2507" stop-color="#0606ff"/><stop offset="0.2534" stop-color="#0000f9"/><stop offset="0.2562" stop-color="#0000f1"/><stop offset="0.2699" stop-color="#0000f0"/><stop offset="0.2753" stop-color="#0000fe"/><stop offset="0.2808" stop-color="#3030ff"/><stop offset="0.289" stop-color="#7c6df9"/><stop offset="0.2973" stop-color="#a69bf5"/><stop offset="0.3027" stop-color="#bebcf5"/><stop offset="0.311" stop-color="#dadef6"/><stop offset="0.3192" stop-color="#fafafb"/><stop offset="0.3219" stop-color="#fff9f1"/><stop offset="0.3301" stop-color="#ffddb8"/><stop offset="0.3411" stop-color="#ffcb94"/><stop offset="0.3493" stop-color="#ffc089"/><stop offset="0.3658" stop-color="#ffbc8d"/><stop offset="0.374" stop-color="#ffc18a"/><stop offset="0.3849" stop-color="#ffcf9b"/><stop offset="0.3932" stop-color="#ffddb6"/><stop offset="0.4014" stop-color="#fff8f1"/><stop offset="0.4041" stop-color="#fafafb"/><stop offset="0.4178" stop-color="#c6c7f5"/><stop offset="0.4233" stop-color="#b0a9f5"/><stop offset="0.4288" stop-color="#9484f5"/><stop offset="0.4315" stop-color="#8676f8"/><stop offset="0.4397" stop-color="#3030ff"/><stop offset="0.4425" stop-color="#1111ff"/><stop offset="0.4452" stop-color="#0000fa"/><stop offset="0.4507" stop-color="#0000e3"/><stop offset="0.4534" stop-color="#0000dc"/><stop offset="0.4671" stop-color="#0000de"/><stop offset="0.4726" stop-color="#0000f8"/><stop offset="0.4753" stop-color="#1010ff"/><stop offset="0.4781" stop-color="#3333ff"/><stop offset="0.4836" stop-color="#7467f9"/><stop offset="0.4863" stop-color="#8b7bf7"/><stop offset="0.4945" stop-color="#b8b4f5"/><stop offset="0.5027" stop-color="#d8dcf6"/><stop offset="0.511" stop-color="#f9fafb"/><stop offset="0.5137" stop-color="#fff8f0"/><stop offset="0.5219" stop-color="#ffdbb3"/><stop offset="0.5301" stop-color="#ffcd97"/><stop offset="0.5411" stop-color="#ffc089"/><stop offset="0.5575" stop-color="#ffba90"/><stop offset="0.5685" stop-color="#ffbc8c"/><stop offset="0.574" stop-color="#ffc18a"/><stop offset="0.5822" stop-color="#ffcc95"/><stop offset="0.5904" stop-color="#ffdab1"/><stop offset="0.5986" stop-color="#fff7ed"/><stop offset="0.6014" stop-color="#fcfbfb"/><stop offset="0.6123" stop-color="#d0d4f5"/><stop offset="0.6178" stop-color="#bbb8f5"/><stop offset="0.626" stop-color="#9181f6"/><stop offset="0.6288" stop-color="#8373f8"/><stop offset="0.637" stop-color="#2727ff"/><stop offset="0.6397" stop-color="#0707ff"/><stop offset="0.6425" stop-color="#0000f6"/><stop offset="0.6479" stop-color="#0000de"/><stop offset="0.6616" stop-color="#0000dc"/><stop offset="0.6644" stop-color="#0000e5"/><stop offset="0.6699" stop-color="#0505ff"/><stop offset="0.6726" stop-color="#2c2cff"/><stop offset="0.6781" stop-color="#7466fa"/><stop offset="0.6808" stop-color="#8d7df6"/><stop offset="0.689" stop-color="#bdbaf5"/><stop offset="0.6973" stop-color="#e1e5f7"/><stop offset="0.7027" stop-color="#fcfbfb"/><stop offset="0.7055" stop-color="#fff4e9"/><stop offset="0.711" stop-color="#ffdcb4"/><stop offset="0.7164" stop-color="#ffcf9b"/><stop offset="0.7247" stop-color="#ffc18a"/><stop offset="0.7301" stop-color="#ffbc8c"/><stop offset="0.7411" stop-color="#ffb899"/><stop offset="0.7493" stop-color="#ffb8a3"/><stop offset="0.8945" stop-color="#ffb899"/><stop offset="0.9986" stop-color="#ffb899"/></linearGradient><linearGradient id="g83" gradientUnits="userSpaceOnUse" x1="56" x2="421"><stop offset="0.00137" stop-color="#4c45fd"/><stop offset="0.02329" stop-color="#423efe"/><stop offset="0.03973" stop-color="#2b2bff"/><stop offset="0.0589" stop-color="#0202ff"/><stop offset="0.07534" stop-color="#0404ff"/><stop offset="0.07808" stop-color="#0f0fff"/><stop offset="0.08904" stop-color="#6b5ffa"/><stop offset="0.09178" stop-color="#8575f8"/><stop offset="0.09726" stop-color="#9e90f5"/><stop offset="0.1027" stop-color="#b9b5f5"/><stop offset="0.1137" stop-color="#e0e4f7"/><stop offset="0.1192" stop-color="#f6f8fc"/><stop offset="0.1219" stop-color="#fffaf5"/><stop offset="0.1301" stop-color="#ffddb7"/><stop offset="0.1411" stop-color="#ffca93"/><stop offset="0.1521" stop-color="#ffbe8a"/><stop offset="0.1767" stop-color="#ffbd8c"/><stop offset="0.1822" stop-color="#ffc18a"/><stop offset="0.1904" stop-color="#ffcc95"/><stop offset="0.1986" stop-color="#ffd9b0"/><stop offset="0.2014" stop-color="#ffe1c0"/><stop offset="0.2068" stop-color="#fff5eb"/><stop offset="0.2096" stop-color="#fdfcfa"/><stop offset="0.2205" stop-color="#cfd3f5"/><stop offset="0.226" stop-color="#bab7f5"/><stop offset="0.2342" stop-color="#8f7ff6"/><stop offset="0.237" stop-color="#7e6ff9"/><stop offset="0.2452" stop-color="#2626ff"/><stop offset="0.2479" stop-color="#0909ff"/><stop offset="0.2507" stop-color="#0000f9"/><stop offset="0.2534" stop-color="#0000f1"/><stop offset="0.2726" stop-color="#0000f0"/><stop offset="0.2781" stop-color="#0101ff"/><stop offset="0.2836" stop-color="#3736fe"/><stop offset="0.2918" stop-color="#8878f7"/><stop offset="0.2973" stop-color="#a397f5"/><stop offset="0.3055" stop-color="#c8c9f5"/><stop offset="0.3192" stop-color="#fffdf9"/><stop offset="0.3274" stop-color="#ffdfbd"/><stop offset="0.3329" stop-color="#ffd4a5"/><stop offset="0.3384" stop-color="#ffcb94"/><stop offset="0.3466" stop-color="#ffc089"/><stop offset="0.3658" stop-color="#ffbc8d"/><stop offset="0.3767" stop-color="#ffc089"/><stop offset="0.3877" stop-color="#ffcf9b"/><stop offset="0.3932" stop-color="#ffd9ae"/><stop offset="0.3959" stop-color="#ffdfbc"/><stop offset="0.4041" stop-color="#fffdfa"/><stop offset="0.4151" stop-color="#d0d4f5"/><stop offset="0.4205" stop-color="#bbb8f5"/><stop offset="0.4288" stop-color="#8e7ef6"/><stop offset="0.4315" stop-color="#7a6cf9"/><stop offset="0.437" stop-color="#3937fe"/><stop offset="0.4397" stop-color="#1717ff"/><stop offset="0.4425" stop-color="#0000fb"/><stop offset="0.4479" stop-color="#0000e2"/><stop offset="0.4507" stop-color="#0000db"/><stop offset="0.4699" stop-color="#0000de"/><stop offset="0.4753" stop-color="#0000fa"/><stop offset="0.4781" stop-color="#1818ff"/><stop offset="0.4808" stop-color="#3c39fe"/><stop offset="0.4863" stop-color="#8373f8"/><stop offset="0.4918" stop-color="#a498f5"/><stop offset="0.4973" stop-color="#c0bff5"/><stop offset="0.5082" stop-color="#eef1fa"/><stop offset="0.511" stop-color="#fcfbfb"/><stop offset="0.5137" stop-color="#fff5eb"/><stop offset="0.5192" stop-color="#ffdfbc"/><stop offset="0.5247" stop-color="#ffd3a3"/><stop offset="0.5301" stop-color="#ffca93"/><stop offset="0.5411" stop-color="#ffbe89"/><stop offset="0.5548" stop-color="#ffba90"/><stop offset="0.5685" stop-color="#ffbb8f"/><stop offset="0.574" stop-color="#ffbf89"/><stop offset="0.5849" stop-color="#ffcd96"/><stop offset="0.5932" stop-color="#ffdcb6"/><stop offset="0.6014" stop-color="#fffcf8"/><stop offset="0.6068" stop-color="#e6eaf8"/><stop offset="0.6151" stop-color="#c5c5f5"/><stop offset="0.6178" stop-color="#bab6f5"/><stop offset="0.626" stop-color="#8b7bf7"/><stop offset="0.6288" stop-color="#7365fa"/><stop offset="0.6342" stop-color="#3030ff"/><stop offset="0.637" stop-color="#0d0dff"/><stop offset="0.6397" stop-color="#0000f8"/><stop offset="0.6452" stop-color="#0000de"/><stop offset="0.6644" stop-color="#0000dc"/><stop offset="0.6671" stop-color="#0000e5"/><stop offset="0.6699" stop-color="#0000f4"/><stop offset="0.6726" stop-color="#0a0aff"/><stop offset="0.6753" stop-color="#3433ff"/><stop offset="0.6808" stop-color="#8272f8"/><stop offset="0.6863" stop-color="#a69bf5"/><stop offset="0.689" stop-color="#b8b4f5"/><stop offset="0.6973" stop-color="#dfe3f6"/><stop offset="0.7027" stop-color="#fbfbfb"/><stop offset="0.7055" stop-color="#fff4e8"/><stop offset="0.711" stop-color="#ffdab2"/><stop offset="0.7164" stop-color="#ffcd97"/><stop offset="0.7247" stop-color="#ffc089"/><stop offset="0.7384" stop-color="#ffb898"/><stop offset="0.7438" stop-color="#ffb8a2"/><stop offset="0.7822" stop-color="#ffb89f"/><stop offset="0.9493" stop-color="#ffb899"/><stop offset="0.9986" stop-color="#ffb899"/></linearGradient><linearGradient id="g84" gradientUnits="userSpaceOnUse" x1="56" x2="421"><stop offset="0.00137" stop-color="#4a44fd"/><stop offset="0.02055" stop-color="#423efe"/><stop offset="0.03699" stop-color="#2b2bff"/><stop offset="0.05616" stop-color="#0202ff"/><stop offset="0.07808" stop-color="#0505ff"/><stop offset="0.08082" stop-color="#1111ff"/><stop offset="0.08904" stop-color="#5b51fc"/><stop offset="0.09178" stop-color="#786af9"/><stop offset="0.09452" stop-color="#8c7cf7"/><stop offset="0.1" stop-color="#a89ef5"/><stop offset="0.1055" stop-color="#c2c1f5"/><stop offset="0.1164" stop-color="#ecf0f9"/><stop offset="0.1192" stop-color="#f9fafb"/><stop offset="0.1219" stop-color="#fff7ef"/><stop offset="0.1274" stop-color="#ffe1c0"/><stop offset="0.1301" stop-color="#ffd9af"/><stop offset="0.1384" stop-color="#ffcb94"/><stop offset="0.1493" stop-color="#ffbe89"/><stop offset="0.1767" stop-color="#ffbc8d"/><stop offset="0.1822" stop-color="#ffbf89"/><stop offset="0.1932" stop-color="#ffcc96"/><stop offset="0.2014" stop-color="#ffdbb3"/><stop offset="0.2096" stop-color="#fffbf7"/><stop offset="0.2123" stop-color="#f3f5fb"/><stop offset="0.2233" stop-color="#c4c4f5"/><stop offset="0.226" stop-color="#b9b5f5"/><stop offset="0.2315" stop-color="#998af5"/><stop offset="0.2342" stop-color="#8a7af7"/><stop offset="0.237" stop-color="#6f62fa"/><stop offset="0.2425" stop-color="#2f2fff"/><stop offset="0.2452" stop-color="#0e0eff"/><stop offset="0.2479" stop-color="#0000fa"/><stop offset="0.2507" stop-color="#0000f1"/><stop offset="0.2753" stop-color="#0000f1"/><stop offset="0.2781" stop-color="#0000f8"/><stop offset="0.2808" stop-color="#0707ff"/><stop offset="0.2863" stop-color="#413dfe"/><stop offset="0.2918" stop-color="#8171f8"/><stop offset="0.3027" stop-color="#bdbbf5"/><stop offset="0.311" stop-color="#dee2f6"/><stop offset="0.3164" stop-color="#f6f8fc"/><stop offset="0.3192" stop-color="#fff9f2"/><stop offset="0.3274" stop-color="#ffdab1"/><stop offset="0.3356" stop-color="#ffcb94"/><stop offset="0.3438" stop-color="#ffc089"/><stop offset="0.3603" stop-color="#ffbc8d"/><stop offset="0.3767" stop-color="#ffbe8a"/><stop offset="0.3849" stop-color="#ffc790"/><stop offset="0.3904" stop-color="#ffd09d"/><stop offset="0.3959" stop-color="#ffdab1"/><stop offset="0.4041" stop-color="#fff9f3"/><stop offset="0.4068" stop-color="#f5f7fc"/><stop offset="0.4178" stop-color="#c5c6f5"/><stop offset="0.4205" stop-color="#bab6f5"/><stop offset="0.426" stop-color="#998af5"/><stop offset="0.4288" stop-color="#8979f7"/><stop offset="0.4342" stop-color="#4640fd"/><stop offset="0.4397" stop-color="#0000fe"/><stop offset="0.4452" stop-color="#0000e3"/><stop offset="0.4479" stop-color="#0000dc"/><stop offset="0.4726" stop-color="#0000df"/><stop offset="0.4781" stop-color="#0000fd"/><stop offset="0.4836" stop-color="#4842fd"/><stop offset="0.4863" stop-color="#6f62fa"/><stop offset="0.489" stop-color="#8c7cf7"/><stop offset="0.4973" stop-color="#bebcf5"/><stop offset="0.5055" stop-color="#e2e6f7"/><stop offset="0.511" stop-color="#fffdfa"/><stop offset="0.5192" stop-color="#ffdbb3"/><stop offset="0.5274" stop-color="#ffcb94"/><stop offset="0.5384" stop-color="#ffbe89"/><stop offset="0.5521" stop-color="#ffba90"/><stop offset="0.5712" stop-color="#ffbb8f"/><stop offset="0.5767" stop-color="#ffbf88"/><stop offset="0.5877" stop-color="#ffce98"/><stop offset="0.5932" stop-color="#ffd9ae"/><stop offset="0.5959" stop-color="#ffe1c0"/><stop offset="0.6014" stop-color="#fff9f2"/><stop offset="0.6041" stop-color="#f5f7fc"/><stop offset="0.6123" stop-color="#d0d4f5"/><stop offset="0.6178" stop-color="#b8b4f5"/><stop offset="0.6233" stop-color="#9686f5"/><stop offset="0.626" stop-color="#8575f8"/><stop offset="0.6342" stop-color="#1717ff"/><stop offset="0.637" stop-color="#0000fa"/><stop offset="0.6425" stop-color="#0000df"/><stop offset="0.6644" stop-color="#0000dc"/><stop offset="0.6671" stop-color="#0000dc"/><stop offset="0.6699" stop-color="#0000e5"/><stop offset="0.6726" stop-color="#0000f6"/><stop offset="0.6753" stop-color="#1313ff"/><stop offset="0.6781" stop-color="#3f3bfe"/><stop offset="0.6808" stop-color="#695dfb"/><stop offset="0.6836" stop-color="#8b7bf7"/><stop offset="0.6918" stop-color="#c1c0f5"/><stop offset="0.6973" stop-color="#dde1f6"/><stop offset="0.7027" stop-color="#fbfbfb"/><stop offset="0.7055" stop-color="#fff3e6"/><stop offset="0.711" stop-color="#ffd9af"/><stop offset="0.7164" stop-color="#ffcb94"/><stop offset="0.7247" stop-color="#ffbe89"/><stop offset="0.7384" stop-color="#ffb89d"/><stop offset="0.7438" stop-color="#ffb8a3"/><stop offset="0.7986" stop-color="#ffb89e"/><stop offset="0.9986" stop-color="#ffb899"/></linearGradient><linearGradient id="g85" gradientUnits="userSpaceOnUse" x1="56" x2="421"><stop offset="0.00137" stop-color="#4842fd"/><stop offset="0.02055" stop-color="#403cfe"/><stop offset="0.03425" stop-color="#2c2cff"/><stop offset="0.05342" stop-color="#0202ff"/><stop offset="0.08082" stop-color="#0606ff"/><stop offset="0.08356" stop-color="#1212ff"/><stop offset="0.09178" stop-color="#675cfb"/><stop offset="0.09452" stop-color="#8676f8"/><stop offset="0.1" stop-color="#a599f5"/><stop offset="0.1055" stop-color="#c1bff5"/><stop offset="0.1164" stop-color="#eff2fa"/><stop offset="0.1192" stop-color="#fefcfa"/><stop offset="0.1247" stop-color="#ffe6cd"/><stop offset="0.1274" stop-color="#ffdbb4"/><stop offset="0.1356" stop-color="#ffcb94"/><stop offset="0.1466" stop-color="#ffbe89"/><stop offset="0.163" stop-color="#ffbc8d"/><stop offset="0.1822" stop-color="#ffbd8c"/><stop offset="0.1849" stop-color="#ffbf88"/><stop offset="0.1959" stop-color="#ffcd97"/><stop offset="0.2014" stop-color="#ffd7ac"/><stop offset="0.2041" stop-color="#ffdfbc"/><stop offset="0.2096" stop-color="#fff8f1"/><stop offset="0.2123" stop-color="#f6f8fc"/><stop offset="0.2205" stop-color="#cfd3f5"/><stop offset="0.226" stop-color="#b7b2f5"/><stop offset="0.2315" stop-color="#9484f5"/><stop offset="0.2342" stop-color="#8374f8"/><stop offset="0.2425" stop-color="#1616ff"/><stop offset="0.2452" stop-color="#0000fb"/><stop offset="0.2479" stop-color="#0000f2"/><stop offset="0.2781" stop-color="#0000f1"/><stop offset="0.2808" stop-color="#0000f9"/><stop offset="0.2836" stop-color="#0e0eff"/><stop offset="0.2863" stop-color="#2f2fff"/><stop offset="0.2918" stop-color="#7365fa"/><stop offset="0.2945" stop-color="#8c7cf7"/><stop offset="0.3027" stop-color="#bcbaf5"/><stop offset="0.311" stop-color="#e0e4f7"/><stop offset="0.3164" stop-color="#fcfbfb"/><stop offset="0.3192" stop-color="#fff4e8"/><stop offset="0.3247" stop-color="#ffdcb4"/><stop offset="0.3329" stop-color="#ffcb94"/><stop offset="0.3411" stop-color="#ffc089"/><stop offset="0.3575" stop-color="#ffbb8d"/><stop offset="0.3795" stop-color="#ffbe8a"/><stop offset="0.3877" stop-color="#ffc891"/><stop offset="0.3932" stop-color="#ffd09e"/><stop offset="0.3986" stop-color="#ffdcb5"/><stop offset="0.4041" stop-color="#fff5ea"/><stop offset="0.4068" stop-color="#fafafb"/><stop offset="0.4151" stop-color="#d1d5f5"/><stop offset="0.4205" stop-color="#b8b4f5"/><stop offset="0.426" stop-color="#9484f5"/><stop offset="0.4288" stop-color="#8071f8"/><stop offset="0.4342" stop-color="#3131ff"/><stop offset="0.437" stop-color="#0808ff"/><stop offset="0.4397" stop-color="#0000f4"/><stop offset="0.4425" stop-color="#0000e4"/><stop offset="0.4452" stop-color="#0000dc"/><stop offset="0.4726" stop-color="#0000db"/><stop offset="0.4753" stop-color="#0000e3"/><stop offset="0.4808" stop-color="#0404ff"/><stop offset="0.4836" stop-color="#3030ff"/><stop offset="0.489" stop-color="#8474f8"/><stop offset="0.4918" stop-color="#9788f5"/><stop offset="0.4973" stop-color="#bcb9f5"/><stop offset="0.5055" stop-color="#e3e7f7"/><stop offset="0.5082" stop-color="#f1f3fa"/><stop offset="0.511" stop-color="#fffbf7"/><stop offset="0.5164" stop-color="#ffe1c1"/><stop offset="0.5192" stop-color="#ffd8ad"/><stop offset="0.5247" stop-color="#ffcc95"/><stop offset="0.5356" stop-color="#ffbe89"/><stop offset="0.5493" stop-color="#ffba90"/><stop offset="0.574" stop-color="#ffbb8f"/><stop offset="0.5795" stop-color="#ffbf88"/><stop offset="0.5877" stop-color="#ffca93"/><stop offset="0.5932" stop-color="#ffd5a6"/><stop offset="0.5959" stop-color="#ffdbb3"/><stop offset="0.6014" stop-color="#fff5eb"/><stop offset="0.6041" stop-color="#f9fafb"/><stop offset="0.6123" stop-color="#d0d4f5"/><stop offset="0.6178" stop-color="#b6b1f5"/><stop offset="0.6233" stop-color="#9080f6"/><stop offset="0.626" stop-color="#7769f9"/><stop offset="0.6342" stop-color="#0000fe"/><stop offset="0.6397" stop-color="#0000e2"/><stop offset="0.6425" stop-color="#0000db"/><stop offset="0.6699" stop-color="#0000dd"/><stop offset="0.6726" stop-color="#0000e7"/><stop offset="0.6753" stop-color="#0000fa"/><stop offset="0.6781" stop-color="#2121ff"/><stop offset="0.6836" stop-color="#7d6ef9"/><stop offset="0.6918" stop-color="#bebcf5"/><stop offset="0.6973" stop-color="#dbdff6"/><stop offset="0.7027" stop-color="#fbfbfb"/><stop offset="0.7055" stop-color="#fff2e4"/><stop offset="0.7082" stop-color="#ffe2c3"/><stop offset="0.711" stop-color="#ffd7ab"/><stop offset="0.7137" stop-color="#ffcf9b"/><stop offset="0.7192" stop-color="#ffc38c"/><stop offset="0.7219" stop-color="#ffbf88"/><stop offset="0.7356" stop-color="#ffb89c"/><stop offset="0.7411" stop-color="#ffb8a3"/><stop offset="0.7932" stop-color="#ffb89f"/><stop offset="0.9521" stop-color="#ffb899"/><stop offset="0.9986" stop-color="#ffb899"/></linearGradient><linearGradient id="g86" gradientUnits="userSpaceOnUse" x1="56" x2="421"><stop offset="0.00137" stop-color="#4741fd"/><stop offset="0.02055" stop-color="#3e3bfe"/><stop offset="0.03425" stop-color="#2828ff"/><stop offset="0.05068" stop-color="#0202ff"/><stop offset="0.08356" stop-color="#0606ff"/><stop offset="0.0863" stop-color="#1515ff"/><stop offset="0.09452" stop-color="#796af9"/><stop offset="0.1" stop-color="#a194f5"/><stop offset="0.1055" stop-color="#c0bef5"/><stop offset="0.1164" stop-color="#f1f4fb"/><stop offset="0.1192" stop-color="#fffbf6"/><stop offset="0.1247" stop-color="#ffe0bf"/><stop offset="0.1274" stop-color="#ffd7ac"/><stop offset="0.1329" stop-color="#ffcc95"/><stop offset="0.1438" stop-color="#ffbe89"/><stop offset="0.1603" stop-color="#ffbb8d"/><stop offset="0.1849" stop-color="#ffbd8b"/><stop offset="0.1904" stop-color="#ffc28b"/><stop offset="0.1986" stop-color="#ffcd98"/><stop offset="0.2041" stop-color="#ffd9b0"/><stop offset="0.2096" stop-color="#fff4e7"/><stop offset="0.2123" stop-color="#fafafb"/><stop offset="0.2205" stop-color="#d0d3f5"/><stop offset="0.226" stop-color="#b5aff5"/><stop offset="0.2315" stop-color="#8f7ff6"/><stop offset="0.2342" stop-color="#7366fa"/><stop offset="0.2397" stop-color="#2323ff"/><stop offset="0.2425" stop-color="#0000fd"/><stop offset="0.2452" stop-color="#0000f2"/><stop offset="0.2808" stop-color="#0000f2"/><stop offset="0.2836" stop-color="#0000fb"/><stop offset="0.2863" stop-color="#1717ff"/><stop offset="0.2945" stop-color="#8777f7"/><stop offset="0.3027" stop-color="#bcb9f5"/><stop offset="0.311" stop-color="#e2e6f7"/><stop offset="0.3137" stop-color="#f0f3fa"/><stop offset="0.3164" stop-color="#fffcf7"/><stop offset="0.3219" stop-color="#ffe0be"/><stop offset="0.3247" stop-color="#ffd7ab"/><stop offset="0.3301" stop-color="#ffcb94"/><stop offset="0.3384" stop-color="#ffc089"/><stop offset="0.3548" stop-color="#ffbb8d"/><stop offset="0.3822" stop-color="#ffbe8a"/><stop offset="0.3932" stop-color="#ffcc95"/><stop offset="0.3986" stop-color="#ffd7ac"/><stop offset="0.4014" stop-color="#ffe1c0"/><stop offset="0.4068" stop-color="#fffdfa"/><stop offset="0.4151" stop-color="#d2d6f5"/><stop offset="0.4205" stop-color="#b6b1f5"/><stop offset="0.426" stop-color="#8f7ff6"/><stop offset="0.4288" stop-color="#7063fa"/><stop offset="0.4342" stop-color="#1717ff"/><stop offset="0.437" stop-color="#0000f8"/><stop offset="0.4425" stop-color="#0000dd"/><stop offset="0.4753" stop-color="#0000dc"/><stop offset="0.4781" stop-color="#0000e4"/><stop offset="0.4808" stop-color="#0000f5"/><stop offset="0.4836" stop-color="#1111ff"/><stop offset="0.489" stop-color="#7164fa"/><stop offset="0.4918" stop-color="#9181f6"/><stop offset="0.4973" stop-color="#bab6f5"/><stop offset="0.5055" stop-color="#e3e7f7"/><stop offset="0.5082" stop-color="#f2f5fb"/><stop offset="0.511" stop-color="#fff9f3"/><stop offset="0.5164" stop-color="#ffdcb5"/><stop offset="0.5219" stop-color="#ffcd98"/><stop offset="0.5301" stop-color="#ffc18a"/><stop offset="0.5466" stop-color="#ffba90"/><stop offset="0.5767" stop-color="#ffbb8f"/><stop offset="0.5822" stop-color="#ffbf88"/><stop offset="0.5904" stop-color="#ffca93"/><stop offset="0.5959" stop-color="#ffd7ab"/><stop offset="0.5986" stop-color="#ffe1c0"/><stop offset="0.6014" stop-color="#fff0e1"/><stop offset="0.6041" stop-color="#fefcfa"/><stop offset="0.6123" stop-color="#d0d4f5"/><stop offset="0.6178" stop-color="#b3adf5"/><stop offset="0.6233" stop-color="#8b7bf7"/><stop offset="0.626" stop-color="#655afb"/><stop offset="0.6288" stop-color="#3836fe"/><stop offset="0.6315" stop-color="#0909ff"/><stop offset="0.6342" stop-color="#0000f3"/><stop offset="0.637" stop-color="#0000e3"/><stop offset="0.6397" stop-color="#0000dc"/><stop offset="0.6726" stop-color="#0000dd"/><stop offset="0.6781" stop-color="#0000fe"/><stop offset="0.6808" stop-color="#3231ff"/><stop offset="0.6836" stop-color="#6458fb"/><stop offset="0.6863" stop-color="#8d7df6"/><stop offset="0.6918" stop-color="#bab7f5"/><stop offset="0.6973" stop-color="#dadef6"/><stop offset="0.7027" stop-color="#fcfbfb"/><stop offset="0.7055" stop-color="#fff0e1"/><stop offset="0.7082" stop-color="#ffdfbc"/><stop offset="0.7137" stop-color="#ffcc95"/><stop offset="0.7192" stop-color="#ffc089"/><stop offset="0.7301" stop-color="#ffb894"/><stop offset="0.7356" stop-color="#ffb8a2"/><stop offset="0.7877" stop-color="#ffb8a1"/><stop offset="0.9219" stop-color="#ffb899"/><stop offset="0.9986" stop-color="#ffb899"/></linearGradient><linearGradient id="g87" gradientUnits="userSpaceOnUse" x1="56" x2="421"><stop offset="0.00137" stop-color="#4640fd"/><stop offset="0.02055" stop-color="#3c39fe"/><stop offset="0.03151" stop-color="#2b2bff"/><stop offset="0.04521" stop-color="#0505ff"/><stop offset="0.0589" stop-color="#0202ff"/><stop offset="0.0863" stop-color="#0707ff"/><stop offset="0.08904" stop-color="#1919ff"/><stop offset="0.09726" stop-color="#8a7af7"/><stop offset="0.1055" stop-color="#bfbdf5"/><stop offset="0.1164" stop-color="#f3f6fb"/><stop offset="0.1192" stop-color="#fff9f2"/><stop offset="0.1247" stop-color="#ffdbb2"/><stop offset="0.1301" stop-color="#ffcc95"/><stop offset="0.1411" stop-color="#ffbe89"/><stop offset="0.1575" stop-color="#ffbb8d"/><stop offset="0.1877" stop-color="#ffbd8b"/><stop offset="0.1932" stop-color="#ffc28b"/><stop offset="0.2014" stop-color="#ffce98"/><stop offset="0.2068" stop-color="#ffdeb9"/><stop offset="0.2096" stop-color="#ffeedd"/><stop offset="0.2123" stop-color="#fffdfa"/><stop offset="0.2205" stop-color="#d0d4f5"/><stop offset="0.226" stop-color="#b2acf5"/><stop offset="0.2315" stop-color="#8979f7"/><stop offset="0.237" stop-color="#3534ff"/><stop offset="0.2397" stop-color="#0808ff"/><stop offset="0.2425" stop-color="#0000f4"/><stop offset="0.2808" stop-color="#0000f1"/><stop offset="0.2836" stop-color="#0000f2"/><stop offset="0.2863" stop-color="#0000fd"/><stop offset="0.289" stop-color="#2424ff"/><stop offset="0.2945" stop-color="#7f70f8"/><stop offset="0.3027" stop-color="#bbb8f5"/><stop offset="0.311" stop-color="#e3e7f7"/><stop offset="0.3137" stop-color="#f3f5fb"/><stop offset="0.3164" stop-color="#fff8f1"/><stop offset="0.3219" stop-color="#ffd9b0"/><stop offset="0.3274" stop-color="#ffcb94"/><stop offset="0.3356" stop-color="#ffc089"/><stop offset="0.3521" stop-color="#ffbc8d"/><stop offset="0.3822" stop-color="#ffbc8d"/><stop offset="0.3877" stop-color="#ffc18a"/><stop offset="0.3959" stop-color="#ffcc95"/><stop offset="0.4014" stop-color="#ffdab1"/><stop offset="0.4068" stop-color="#fffaf3"/><stop offset="0.4096" stop-color="#f0f3fa"/><stop offset="0.4178" stop-color="#c4c4f5"/><stop offset="0.4205" stop-color="#b4aff5"/><stop offset="0.426" stop-color="#8a7af7"/><stop offset="0.4288" stop-color="#5e53fc"/><stop offset="0.4315" stop-color="#2c2cff"/><stop offset="0.4342" stop-color="#0000fd"/><stop offset="0.4397" stop-color="#0000de"/><stop offset="0.4781" stop-color="#0000dc"/><stop offset="0.4808" stop-color="#0000e6"/><stop offset="0.4836" stop-color="#0000f9"/><stop offset="0.4863" stop-color="#2525ff"/><stop offset="0.489" stop-color="#5c52fc"/><stop offset="0.4918" stop-color="#8a7af7"/><stop offset="0.4973" stop-color="#b8b3f5"/><stop offset="0.5055" stop-color="#e4e8f7"/><stop offset="0.5082" stop-color="#f4f6fb"/><stop offset="0.511" stop-color="#fff7ee"/><stop offset="0.5164" stop-color="#ffd8ad"/><stop offset="0.5192" stop-color="#ffcf9c"/><stop offset="0.5247" stop-color="#ffc48d"/><stop offset="0.5301" stop-color="#ffbe89"/><stop offset="0.5438" stop-color="#ffba90"/><stop offset="0.5795" stop-color="#ffbb8f"/><stop offset="0.5849" stop-color="#ffbf88"/><stop offset="0.5932" stop-color="#ffcb94"/><stop offset="0.5986" stop-color="#ffdbb2"/><stop offset="0.6041" stop-color="#fffbf6"/><stop offset="0.6068" stop-color="#eef1fa"/><stop offset="0.6123" stop-color="#d0d4f5"/><stop offset="0.6178" stop-color="#b1aaf5"/><stop offset="0.6233" stop-color="#8575f8"/><stop offset="0.6288" stop-color="#1d1dff"/><stop offset="0.6315" stop-color="#0000f7"/><stop offset="0.6342" stop-color="#0000e5"/><stop offset="0.637" stop-color="#0000dc"/><stop offset="0.6726" stop-color="#0000dc"/><stop offset="0.6753" stop-color="#0000df"/><stop offset="0.6781" stop-color="#0000f1"/><stop offset="0.6808" stop-color="#0d0dff"/><stop offset="0.6863" stop-color="#8272f8"/><stop offset="0.689" stop-color="#9d8ff5"/><stop offset="0.6918" stop-color="#b6b1f5"/><stop offset="0.6973" stop-color="#d8dcf6"/><stop offset="0.7027" stop-color="#fdfcfb"/><stop offset="0.7055" stop-color="#ffeedd"/><stop offset="0.7082" stop-color="#ffdcb5"/><stop offset="0.711" stop-color="#ffd1a0"/><stop offset="0.7137" stop-color="#ffc891"/><stop offset="0.7164" stop-color="#ffc28b"/><stop offset="0.7274" stop-color="#ffb894"/><stop offset="0.7329" stop-color="#ffb8a1"/><stop offset="0.7877" stop-color="#ffb8a1"/><stop offset="0.8973" stop-color="#ffb899"/><stop offset="0.9986" stop-color="#ffb899"/></linearGradient><linearGradient id="g88" gradientUnits="userSpaceOnUse" x1="56" x2="421"><stop offset="0.00137" stop-color="#4540fe"/><stop offset="0.02055" stop-color="#3b38fe"/><stop offset="0.03151" stop-color="#2828ff"/><stop offset="0.04521" stop-color="#0202ff"/><stop offset="0.08356" stop-color="#0707ff"/><stop offset="0.08904" stop-color="#0909ff"/><stop offset="0.09178" stop-color="#2424ff"/><stop offset="0.09726" stop-color="#8272f8"/><stop offset="0.1027" stop-color="#ada4f5"/><stop offset="0.1082" stop-color="#cbcdf5"/><stop offset="0.1164" stop-color="#f5f7fc"/><stop offset="0.1192" stop-color="#fff6ec"/><stop offset="0.1219" stop-color="#ffe4c7"/><stop offset="0.1247" stop-color="#ffd6a9"/><stop offset="0.1274" stop-color="#ffcd96"/><stop offset="0.1356" stop-color="#ffc089"/><stop offset="0.1575" stop-color="#ffbb8d"/><stop offset="0.1904" stop-color="#ffbd8b"/><stop offset="0.1959" stop-color="#ffc18a"/><stop offset="0.2014" stop-color="#ffc891"/><stop offset="0.2041" stop-color="#ffce99"/><stop offset="0.2068" stop-color="#ffd8ad"/><stop offset="0.2123" stop-color="#fffbf6"/><stop offset="0.2151" stop-color="#eef1fa"/><stop offset="0.2205" stop-color="#d0d4f5"/><stop offset="0.226" stop-color="#b0a9f5"/><stop offset="0.2315" stop-color="#8373f8"/><stop offset="0.237" stop-color="#1818ff"/><stop offset="0.2397" stop-color="#0000f7"/><stop offset="0.2425" stop-color="#0000f0"/><stop offset="0.2863" stop-color="#0000f3"/><stop offset="0.289" stop-color="#0505ff"/><stop offset="0.2918" stop-color="#3b38fe"/><stop offset="0.2945" stop-color="#7164fa"/><stop offset="0.2973" stop-color="#9282f6"/><stop offset="0.3027" stop-color="#bbb7f5"/><stop offset="0.3137" stop-color="#f6f8fc"/><stop offset="0.3164" stop-color="#fff4e8"/><stop offset="0.3192" stop-color="#ffe0bf"/><stop offset="0.3219" stop-color="#ffd3a4"/><stop offset="0.3247" stop-color="#ffcb94"/><stop offset="0.3329" stop-color="#ffc089"/><stop offset="0.3521" stop-color="#ffbc8d"/><stop offset="0.3849" stop-color="#ffbc8c"/><stop offset="0.3932" stop-color="#ffc38c"/><stop offset="0.3986" stop-color="#ffcb94"/><stop offset="0.4014" stop-color="#ffd4a5"/><stop offset="0.4041" stop-color="#ffe2c2"/><stop offset="0.4068" stop-color="#fff6ec"/><stop offset="0.4096" stop-color="#f3f5fb"/><stop offset="0.4178" stop-color="#c3c3f5"/><stop offset="0.4205" stop-color="#b3acf5"/><stop offset="0.426" stop-color="#8474f8"/><stop offset="0.4288" stop-color="#4a43fd"/><stop offset="0.4315" stop-color="#0d0dff"/><stop offset="0.4342" stop-color="#0000f0"/><stop offset="0.437" stop-color="#0000df"/><stop offset="0.4671" stop-color="#0000db"/><stop offset="0.4808" stop-color="#0000dd"/><stop offset="0.4836" stop-color="#0000e9"/><stop offset="0.4863" stop-color="#0101ff"/><stop offset="0.489" stop-color="#4540fd"/><stop offset="0.4918" stop-color="#8474f8"/><stop offset="0.4973" stop-color="#b5b0f5"/><stop offset="0.5027" stop-color="#d5d9f5"/><stop offset="0.5082" stop-color="#f5f8fc"/><stop offset="0.511" stop-color="#fff4e8"/><stop offset="0.5137" stop-color="#ffe1c0"/><stop offset="0.5164" stop-color="#ffd4a4"/><stop offset="0.5192" stop-color="#ffca93"/><stop offset="0.5247" stop-color="#ffc089"/><stop offset="0.5438" stop-color="#ffba90"/><stop offset="0.5822" stop-color="#ffbb8e"/><stop offset="0.5904" stop-color="#ffc18a"/><stop offset="0.5959" stop-color="#ffcb94"/><stop offset="0.5986" stop-color="#ffd6a8"/><stop offset="0.6041" stop-color="#fff9f2"/><stop offset="0.6068" stop-color="#f0f3fa"/><stop offset="0.6123" stop-color="#d0d4f5"/><stop offset="0.6178" stop-color="#afa8f5"/><stop offset="0.6205" stop-color="#9889f5"/><stop offset="0.6233" stop-color="#7a6cf9"/><stop offset="0.626" stop-color="#3d3afe"/><stop offset="0.6288" stop-color="#0000fd"/><stop offset="0.6315" stop-color="#0000e8"/><stop offset="0.6342" stop-color="#0000dd"/><stop offset="0.6753" stop-color="#0000dd"/><stop offset="0.6781" stop-color="#0000e0"/><stop offset="0.6808" stop-color="#0000f4"/><stop offset="0.6836" stop-color="#2424ff"/><stop offset="0.6863" stop-color="#695dfb"/><stop offset="0.689" stop-color="#9686f5"/><stop offset="0.6918" stop-color="#b2abf5"/><stop offset="0.6945" stop-color="#c6c6f5"/><stop offset="0.7027" stop-color="#fdfcfa"/><stop offset="0.7055" stop-color="#ffedda"/><stop offset="0.7082" stop-color="#ffdab1"/><stop offset="0.711" stop-color="#ffce99"/><stop offset="0.7137" stop-color="#ffc48d"/><stop offset="0.7164" stop-color="#ffbe8a"/><stop offset="0.7274" stop-color="#ffb89a"/><stop offset="0.7329" stop-color="#ffb8a3"/><stop offset="0.7959" stop-color="#ffb8a0"/><stop offset="0.9384" stop-color="#ffb899"/><stop offset="0.9986" stop-color="#ffb899"/></linearGradient><linearGradient id="g89" gradientUnits="userSpaceOnUse" x1="56" x2="421"><stop offset="0.00137" stop-color="#443ffe"/><stop offset="0.02055" stop-color="#3a38fe"/><stop offset="0.03151" stop-color="#2727ff"/><stop offset="0.04247" stop-color="#0202ff"/><stop offset="0.06712" stop-color="#0404ff"/><stop offset="0.08904" stop-color="#0707ff"/><stop offset="0.09178" stop-color="#0d0dff"/><stop offset="0.09452" stop-color="#3634ff"/><stop offset="0.09726" stop-color="#7164fa"/><stop offset="0.1" stop-color="#9484f5"/><stop offset="0.1055" stop-color="#bdbbf5"/><stop offset="0.1164" stop-color="#f7f8fc"/><stop offset="0.1192" stop-color="#fff3e7"/><stop offset="0.1219" stop-color="#ffe0bd"/><stop offset="0.1247" stop-color="#ffd19f"/><stop offset="0.1274" stop-color="#ffc58e"/><stop offset="0.1329" stop-color="#ffbe89"/><stop offset="0.1548" stop-color="#ffbb8d"/><stop offset="0.1959" stop-color="#ffbe8a"/><stop offset="0.2014" stop-color="#ffc18a"/><stop offset="0.2041" stop-color="#ffc68f"/><stop offset="0.2068" stop-color="#ffd3a3"/><stop offset="0.2123" stop-color="#fff9f2"/><stop offset="0.2151" stop-color="#eff2fa"/><stop offset="0.2205" stop-color="#d0d4f5"/><stop offset="0.226" stop-color="#afa7f5"/><stop offset="0.2288" stop-color="#9788f5"/><stop offset="0.2315" stop-color="#7668f9"/><stop offset="0.2342" stop-color="#3131ff"/><stop offset="0.237" stop-color="#0000fa"/><stop offset="0.2397" stop-color="#0000f2"/><stop offset="0.2863" stop-color="#0000f2"/><stop offset="0.289" stop-color="#0000f5"/><stop offset="0.2918" stop-color="#1f1fff"/><stop offset="0.2945" stop-color="#6459fb"/><stop offset="0.2973" stop-color="#8f7ff6"/><stop offset="0.3027" stop-color="#bab7f5"/><stop offset="0.3137" stop-color="#f8f9fc"/><stop offset="0.3164" stop-color="#fff0e1"/><stop offset="0.3192" stop-color="#ffdbb2"/><stop offset="0.3219" stop-color="#ffcc95"/><stop offset="0.3274" stop-color="#ffc089"/><stop offset="0.3548" stop-color="#ffbc8d"/><stop offset="0.3904" stop-color="#ffbd8b"/><stop offset="0.3986" stop-color="#ffc38c"/><stop offset="0.4014" stop-color="#ffcc95"/><stop offset="0.4041" stop-color="#ffdbb4"/><stop offset="0.4068" stop-color="#fff3e5"/><stop offset="0.4096" stop-color="#f5f7fc"/><stop offset="0.4178" stop-color="#c3c3f5"/><stop offset="0.4205" stop-color="#b1abf5"/><stop offset="0.4233" stop-color="#998bf5"/><stop offset="0.426" stop-color="#7a6bf9"/><stop offset="0.4288" stop-color="#3433ff"/><stop offset="0.4315" stop-color="#0000f5"/><stop offset="0.4342" stop-color="#0000e0"/><stop offset="0.4644" stop-color="#0000db"/><stop offset="0.4836" stop-color="#0000de"/><stop offset="0.4863" stop-color="#0000ef"/><stop offset="0.489" stop-color="#2e2eff"/><stop offset="0.4918" stop-color="#796af9"/><stop offset="0.4945" stop-color="#9b8cf5"/><stop offset="0.4973" stop-color="#b4aef5"/><stop offset="0.5027" stop-color="#d5d9f5"/><stop offset="0.5082" stop-color="#f7f8fc"/><stop offset="0.511" stop-color="#fff2e4"/><stop offset="0.5137" stop-color="#ffdcb6"/><stop offset="0.5164" stop-color="#ffce9a"/><stop offset="0.5192" stop-color="#ffc28b"/><stop offset="0.5301" stop-color="#ffbb8f"/><stop offset="0.5849" stop-color="#ffbb8e"/><stop offset="0.5932" stop-color="#ffbe89"/><stop offset="0.5959" stop-color="#ffc38c"/><stop offset="0.5986" stop-color="#ffd09d"/><stop offset="0.6014" stop-color="#ffe0bf"/><stop offset="0.6041" stop-color="#fff7ed"/><stop offset="0.6068" stop-color="#f1f4fb"/><stop offset="0.6123" stop-color="#d0d4f5"/><stop offset="0.6178" stop-color="#aea6f5"/><stop offset="0.6205" stop-color="#9585f5"/><stop offset="0.6233" stop-color="#6f62fa"/><stop offset="0.626" stop-color="#2626ff"/><stop offset="0.6288" stop-color="#0000ee"/><stop offset="0.6315" stop-color="#0000de"/><stop offset="0.6726" stop-color="#0000dd"/><stop offset="0.6808" stop-color="#0000e2"/><stop offset="0.6836" stop-color="#0000fa"/><stop offset="0.6863" stop-color="#4e47fd"/><stop offset="0.689" stop-color="#9080f6"/><stop offset="0.6918" stop-color="#afa7f5"/><stop offset="0.6945" stop-color="#c5c5f5"/><stop offset="0.7" stop-color="#e8ecf8"/><stop offset="0.7027" stop-color="#fefcfa"/><stop offset="0.7055" stop-color="#ffebd7"/><stop offset="0.7082" stop-color="#ffd8ae"/><stop offset="0.711" stop-color="#ffcb94"/><stop offset="0.7137" stop-color="#ffbf89"/><stop offset="0.7219" stop-color="#ffb898"/><stop offset="0.7329" stop-color="#ffb8a3"/><stop offset="0.7959" stop-color="#ffb8a1"/><stop offset="0.9137" stop-color="#ffb899"/><stop offset="0.9986" stop-color="#ffb899"/></linearGradient><linearGradient id="g90" gradientUnits="userSpaceOnUse" x1="56" x2="421"><stop offset="0.00137" stop-color="#443ffe"/><stop offset="0.02055" stop-color="#3a38fe"/><stop offset="0.03151" stop-color="#2626ff"/><stop offset="0.03973" stop-color="#0303ff"/><stop offset="0.06712" stop-color="#0404ff"/><stop offset="0.09178" stop-color="#0a0aff"/><stop offset="0.09452" stop-color="#1414ff"/><stop offset="0.09726" stop-color="#665afb"/><stop offset="0.1" stop-color="#9383f5"/><stop offset="0.1055" stop-color="#bdbbf5"/><stop offset="0.1164" stop-color="#f8f9fc"/><stop offset="0.1192" stop-color="#fff3e5"/><stop offset="0.1219" stop-color="#ffdeb9"/><stop offset="0.1247" stop-color="#ffcd98"/><stop offset="0.1274" stop-color="#ffbe8a"/><stop offset="0.1658" stop-color="#ffbb8d"/><stop offset="0.2014" stop-color="#ffbc8c"/><stop offset="0.2041" stop-color="#ffbe89"/><stop offset="0.2068" stop-color="#ffcf9b"/><stop offset="0.2123" stop-color="#fff8f1"/><stop offset="0.2151" stop-color="#f0f3fa"/><stop offset="0.2205" stop-color="#d0d4f5"/><stop offset="0.226" stop-color="#afa7f5"/><stop offset="0.2288" stop-color="#9687f5"/><stop offset="0.2315" stop-color="#6f62fa"/><stop offset="0.2342" stop-color="#1212ff"/><stop offset="0.237" stop-color="#0000f2"/><stop offset="0.289" stop-color="#0000f4"/><stop offset="0.2918" stop-color="#0303ff"/><stop offset="0.2945" stop-color="#5e53fc"/><stop offset="0.2973" stop-color="#8e7ef6"/><stop offset="0.3027" stop-color="#bab7f5"/><stop offset="0.311" stop-color="#e6eaf8"/><stop offset="0.3137" stop-color="#f9fafb"/><stop offset="0.3164" stop-color="#ffefde"/><stop offset="0.3192" stop-color="#ffd9ae"/><stop offset="0.3219" stop-color="#ffc58e"/><stop offset="0.3247" stop-color="#ffbd8b"/><stop offset="0.3986" stop-color="#ffbd8b"/><stop offset="0.4014" stop-color="#ffc58e"/><stop offset="0.4041" stop-color="#ffd9b0"/><stop offset="0.4068" stop-color="#fff1e3"/><stop offset="0.4096" stop-color="#f5f8fc"/><stop offset="0.4178" stop-color="#c3c3f5"/><stop offset="0.4205" stop-color="#b1aaf5"/><stop offset="0.4233" stop-color="#9889f5"/><stop offset="0.426" stop-color="#7567f9"/><stop offset="0.4288" stop-color="#2525ff"/><stop offset="0.4315" stop-color="#0000e3"/><stop offset="0.437" stop-color="#0000de"/><stop offset="0.4781" stop-color="#0000dd"/><stop offset="0.4863" stop-color="#0000e3"/><stop offset="0.489" stop-color="#1d1dff"/><stop offset="0.4918" stop-color="#7466fa"/><stop offset="0.4945" stop-color="#998bf5"/><stop offset="0.4973" stop-color="#b3adf5"/><stop offset="0.5027" stop-color="#d5d9f5"/><stop offset="0.5082" stop-color="#f7f9fc"/><stop offset="0.511" stop-color="#fff1e2"/><stop offset="0.5137" stop-color="#ffdbb3"/><stop offset="0.5164" stop-color="#ffcb94"/><stop offset="0.5192" stop-color="#ffbc8c"/><stop offset="0.5548" stop-color="#ffba90"/><stop offset="0.5932" stop-color="#ffbb8f"/><stop offset="0.5959" stop-color="#ffbc8c"/><stop offset="0.5986" stop-color="#ffcc95"/><stop offset="0.6014" stop-color="#ffdeba"/><stop offset="0.6041" stop-color="#fff6eb"/><stop offset="0.6068" stop-color="#f2f5fb"/><stop offset="0.6123" stop-color="#d0d4f5"/><stop offset="0.6178" stop-color="#ada5f5"/><stop offset="0.6205" stop-color="#9484f5"/><stop offset="0.6233" stop-color="#6a5efa"/><stop offset="0.626" stop-color="#1717ff"/><stop offset="0.6288" stop-color="#0000e3"/><stop offset="0.6534" stop-color="#0000db"/><stop offset="0.6808" stop-color="#0000df"/><stop offset="0.6836" stop-color="#0000e5"/><stop offset="0.6863" stop-color="#3d3afe"/><stop offset="0.689" stop-color="#8e7ef6"/><stop offset="0.6918" stop-color="#ada5f5"/><stop offset="0.6945" stop-color="#c4c4f5"/><stop offset="0.7" stop-color="#e8ecf8"/><stop offset="0.7027" stop-color="#fefdfa"/><stop offset="0.7055" stop-color="#ffebd6"/><stop offset="0.7082" stop-color="#ffd8ac"/><stop offset="0.711" stop-color="#ffc992"/><stop offset="0.7137" stop-color="#ffbb8f"/><stop offset="0.7164" stop-color="#ffb89c"/><stop offset="0.7329" stop-color="#ffb8a3"/><stop offset="0.7959" stop-color="#ffb8a1"/><stop offset="0.9027" stop-color="#ffb899"/><stop offset="0.9986" stop-color="#ffb899"/></linearGradient><linearGradient id="g91" gradientUnits="userSpaceOnUse" x1="56" x2="421"><stop offset="0.00137" stop-color="#443ffe"/><stop offset="0.02055" stop-color="#3a38fe"/><stop offset="0.03151" stop-color="#2626ff"/><stop offset="0.03973" stop-color="#0303ff"/><stop offset="0.06712" stop-color="#0404ff"/><stop offset="0.09178" stop-color="#0a0aff"/><stop offset="0.09452" stop-color="#1414ff"/><stop offset="0.09726" stop-color="#665afb"/><stop offset="0.1" stop-color="#9383f5"/><stop offset="0.1055" stop-color="#bdbbf5"/><stop offset="0.1164" stop-color="#f8f9fc"/><stop offset="0.1192" stop-color="#fff3e5"/><stop offset="0.1219" stop-color="#ffdeb9"/><stop offset="0.1247" stop-color="#ffcd98"/><stop offset="0.1274" stop-color="#ffbe8a"/><stop offset="0.1658" stop-color="#ffbb8d"/><stop offset="0.2014" stop-color="#ffbc8c"/><stop offset="0.2041" stop-color="#ffbe89"/><stop offset="0.2068" stop-color="#ffcf9b"/><stop offset="0.2123" stop-color="#fff8f1"/><stop offset="0.2151" stop-color="#f0f3fa"/><stop offset="0.2205" stop-color="#d0d4f5"/><stop offset="0.226" stop-color="#afa7f5"/><stop offset="0.2288" stop-color="#9687f5"/><stop offset="0.2315" stop-color="#6f62fa"/><stop offset="0.2342" stop-color="#1212ff"/><stop offset="0.237" stop-color="#0000f2"/><stop offset="0.2863" stop-color="#0000f4"/><stop offset="0.289" stop-color="#0000f5"/><stop offset="0.2918" stop-color="#0303ff"/><stop offset="0.2945" stop-color="#5e53fc"/><stop offset="0.2973" stop-color="#8e7ef6"/><stop offset="0.3027" stop-color="#bab7f5"/><stop offset="0.311" stop-color="#e6eaf8"/><stop offset="0.3137" stop-color="#f9fafb"/><stop offset="0.3164" stop-color="#ffefde"/><stop offset="0.3192" stop-color="#ffd9ae"/><stop offset="0.3219" stop-color="#ffc58e"/><stop offset="0.3247" stop-color="#ffbd8b"/><stop offset="0.3986" stop-color="#ffbd8b"/><stop offset="0.4014" stop-color="#ffc58e"/><stop offset="0.4041" stop-color="#ffd9b0"/><stop offset="0.4068" stop-color="#fff1e3"/><stop offset="0.4096" stop-color="#f5f8fc"/><stop offset="0.4178" stop-color="#c3c3f5"/><stop offset="0.4205" stop-color="#b1aaf5"/><stop offset="0.4233" stop-color="#9889f5"/><stop offset="0.426" stop-color="#7567f9"/><stop offset="0.4288" stop-color="#2525ff"/><stop offset="0.4315" stop-color="#0000e3"/><stop offset="0.437" stop-color="#0000de"/><stop offset="0.4753" stop-color="#0000dd"/><stop offset="0.4863" stop-color="#0000e4"/><stop offset="0.489" stop-color="#1d1dff"/><stop offset="0.4918" stop-color="#7466fa"/><stop offset="0.4945" stop-color="#998bf5"/><stop offset="0.4973" stop-color="#b3adf5"/><stop offset="0.5027" stop-color="#d5d9f5"/><stop offset="0.5082" stop-color="#f7f9fc"/><stop offset="0.511" stop-color="#fff1e2"/><stop offset="0.5137" stop-color="#ffdbb3"/><stop offset="0.5164" stop-color="#ffcb94"/><stop offset="0.5192" stop-color="#ffbc8c"/><stop offset="0.5548" stop-color="#ffba90"/><stop offset="0.5932" stop-color="#ffbb8f"/><stop offset="0.5959" stop-color="#ffbc8c"/><stop offset="0.5986" stop-color="#ffcc95"/><stop offset="0.6014" stop-color="#ffdeba"/><stop offset="0.6041" stop-color="#fff6eb"/><stop offset="0.6068" stop-color="#f2f5fb"/><stop offset="0.6123" stop-color="#d0d4f5"/><stop offset="0.6178" stop-color="#ada5f5"/><stop offset="0.6205" stop-color="#9484f5"/><stop offset="0.6233" stop-color="#6a5efa"/><stop offset="0.626" stop-color="#1717ff"/><stop offset="0.6288" stop-color="#0000e3"/><stop offset="0.6589" stop-color="#0000db"/><stop offset="0.6808" stop-color="#0000df"/><stop offset="0.6836" stop-color="#0000e5"/><stop offset="0.6863" stop-color="#3d3afe"/><stop offset="0.689" stop-color="#8e7ef6"/><stop offset="0.6918" stop-color="#ada5f5"/><stop offset="0.6945" stop-color="#c4c4f5"/><stop offset="0.7" stop-color="#e8ecf8"/><stop offset="0.7027" stop-color="#fefdfa"/><stop offset="0.7055" stop-color="#ffebd6"/><stop offset="0.7082" stop-color="#ffd8ac"/><stop offset="0.711" stop-color="#ffc992"/><stop offset="0.7137" stop-color="#ffbb8f"/><stop offset="0.7164" stop-color="#ffb89c"/><stop offset="0.7329" stop-color="#ffb8a3"/><stop offset="0.7959" stop-color="#ffb8a1"/><stop offset="0.9027" stop-color="#ffb899"/><stop offset="0.9986" stop-color="#ffb899"/></linearGradient>
<clipPath id="ch"><polygon points="57.0,205.0 181.0,205.0 193.4,217.8 205.8,205.0 221.0,205.0 233.4,217.8 245.8,205.0 261.1,205.0 273.5,217.8 285.9,205.0 301.2,205.0 313.6,217.8 325.9,205.0 354.1,205.0 378.3,177.3 396.6,197.3 371.7,225.6 419.3,225.6 419.3,253.9 363.4,253.9 363.4,266.6 341.1,266.6 331.1,255.8 321.1,266.6 305.3,266.6 295.3,255.8 285.3,266.6 269.5,266.6 259.5,255.8 249.5,266.6 233.7,266.6 223.7,255.8 213.7,266.6 197.9,266.6 187.9,255.8 177.9,266.6 162.1,266.6 152.1,255.8 142.1,266.6 126.3,266.6 116.3,255.8 106.3,266.6 90.5,266.6 80.5,255.8 70.5,266.6 57.0,266.6"/></clipPath>
<linearGradient id="vcb" x1="0" y1="0" x2="0" y2="1"><stop offset="0.0000" stop-color="#0000c4"/><stop offset="0.0384" stop-color="#0000d8"/><stop offset="0.0768" stop-color="#0000ee"/><stop offset="0.1152" stop-color="#0000ff"/><stop offset="0.1536" stop-color="#3030ff"/><stop offset="0.1920" stop-color="#5a50fc"/><stop offset="0.2304" stop-color="#8474f8"/><stop offset="0.2689" stop-color="#9585f5"/><stop offset="0.3073" stop-color="#a79cf5"/><stop offset="0.3457" stop-color="#b8b4f5"/><stop offset="0.3841" stop-color="#c4c4f5"/><stop offset="0.4225" stop-color="#d0d4f5"/><stop offset="0.4610" stop-color="#dce0f6"/><stop offset="0.4994" stop-color="#e8ecf8"/><stop offset="0.5378" stop-color="#f6f8fc"/><stop offset="0.5570" stop-color="#fffdfa"/><stop offset="0.5762" stop-color="#fff8f0"/><stop offset="0.6146" stop-color="#ffead5"/><stop offset="0.6531" stop-color="#ffdcb5"/><stop offset="0.6915" stop-color="#ffd4a5"/><stop offset="0.7299" stop-color="#ffcc95"/><stop offset="0.7683" stop-color="#ffc58e"/><stop offset="0.8067" stop-color="#ffbf88"/><stop offset="0.8451" stop-color="#ffbb8e"/><stop offset="0.8836" stop-color="#ffb894"/><stop offset="0.9220" stop-color="#ffb8a4"/><stop offset="0.9604" stop-color="#ffbab2"/><stop offset="1.0000" stop-color="#ffc6ce"/></linearGradient>
<linearGradient id="mcb" x1="0" y1="0" x2="0" y2="1"><stop offset="0.0000" stop-color="#a80000"/><stop offset="0.0233" stop-color="#b80000"/><stop offset="0.0833" stop-color="#e00000"/><stop offset="0.1667" stop-color="#ff1a00"/><stop offset="0.2500" stop-color="#ff5500"/><stop offset="0.3333" stop-color="#ff9000"/><stop offset="0.4167" stop-color="#ffc400"/><stop offset="0.5000" stop-color="#ffff00"/><stop offset="0.5833" stop-color="#c8ff00"/><stop offset="0.6933" stop-color="#80ff00"/><stop offset="0.7667" stop-color="#50ff00"/><stop offset="0.8600" stop-color="#10ff00"/><stop offset="0.9333" stop-color="#00dd00"/><stop offset="0.9833" stop-color="#00bb00"/><stop offset="1.0000" stop-color="#00b000"/></linearGradient>
</defs>
<g clip-path="url(#ch)"><rect x="56" y="176" width="365" height="1" fill="url(#g0)"/><rect x="56" y="177" width="365" height="1" fill="url(#g1)"/><rect x="56" y="178" width="365" height="1" fill="url(#g2)"/><rect x="56" y="179" width="365" height="1" fill="url(#g3)"/><rect x="56" y="180" width="365" height="1" fill="url(#g4)"/><rect x="56" y="181" width="365" height="1" fill="url(#g5)"/><rect x="56" y="182" width="365" height="1" fill="url(#g6)"/><rect x="56" y="183" width="365" height="1" fill="url(#g7)"/><rect x="56" y="184" width="365" height="1" fill="url(#g8)"/><rect x="56" y="185" width="365" height="1" fill="url(#g9)"/><rect x="56" y="186" width="365" height="1" fill="url(#g10)"/><rect x="56" y="187" width="365" height="1" fill="url(#g11)"/><rect x="56" y="188" width="365" height="1" fill="url(#g12)"/><rect x="56" y="189" width="365" height="1" fill="url(#g13)"/><rect x="56" y="190" width="365" height="1" fill="url(#g14)"/><rect x="56" y="191" width="365" height="1" fill="url(#g15)"/><rect x="56" y="192" width="365" height="1" fill="url(#g16)"/><rect x="56" y="193" width="365" height="1" fill="url(#g17)"/><rect x="56" y="194" width="365" height="1" fill="url(#g18)"/><rect x="56" y="195" width="365" height="1" fill="url(#g19)"/><rect x="56" y="196" width="365" height="1" fill="url(#g20)"/><rect x="56" y="197" width="365" height="1" fill="url(#g21)"/><rect x="56" y="198" width="365" height="1" fill="url(#g22)"/><rect x="56" y="199" width="365" height="1" fill="url(#g23)"/><rect x="56" y="200" width="365" height="1" fill="url(#g24)"/><rect x="56" y="201" width="365" height="1" fill="url(#g25)"/><rect x="56" y="202" width="365" height="1" fill="url(#g26)"/><rect x="56" y="203" width="365" height="1" fill="url(#g27)"/><rect x="56" y="204" width="365" height="1" fill="url(#g28)"/><rect x="56" y="205" width="365" height="1" fill="url(#g29)"/><rect x="56" y="206" width="365" height="1" fill="url(#g30)"/><rect x="56" y="207" width="365" height="1" fill="url(#g31)"/><rect x="56" y="208" width="365" height="1" fill="url(#g32)"/><rect x="56" y="209" width="365" height="1" fill="url(#g33)"/><rect x="56" y="210" width="365" height="1" fill="url(#g34)"/><rect x="56" y="211" width="365" height="1" fill="url(#g35)"/><rect x="56" y="212" width="365" height="1" fill="url(#g36)"/><rect x="56" y="213" width="365" height="1" fill="url(#g37)"/><rect x="56" y="214" width="365" height="1" fill="url(#g38)"/><rect x="56" y="215" width="365" height="1" fill="url(#g39)"/><rect x="56" y="216" width="365" height="1" fill="url(#g40)"/><rect x="56" y="217" width="365" height="1" fill="url(#g41)"/><rect x="56" y="218" width="365" height="1" fill="url(#g42)"/><rect x="56" y="219" width="365" height="1" fill="url(#g43)"/><rect x="56" y="220" width="365" height="1" fill="url(#g44)"/><rect x="56" y="221" width="365" height="1" fill="url(#g45)"/><rect x="56" y="222" width="365" height="1" fill="url(#g46)"/><rect x="56" y="223" width="365" height="1" fill="url(#g47)"/><rect x="56" y="224" width="365" height="1" fill="url(#g48)"/><rect x="56" y="225" width="365" height="1" fill="url(#g49)"/><rect x="56" y="226" width="365" height="1" fill="url(#g50)"/><rect x="56" y="227" width="365" height="1" fill="url(#g51)"/><rect x="56" y="228" width="365" height="1" fill="url(#g52)"/><rect x="56" y="229" width="365" height="1" fill="url(#g53)"/><rect x="56" y="230" width="365" height="1" fill="url(#g54)"/><rect x="56" y="231" width="365" height="1" fill="url(#g55)"/><rect x="56" y="232" width="365" height="1" fill="url(#g56)"/><rect x="56" y="233" width="365" height="1" fill="url(#g57)"/><rect x="56" y="234" width="365" height="1" fill="url(#g58)"/><rect x="56" y="235" width="365" height="1" fill="url(#g59)"/><rect x="56" y="236" width="365" height="1" fill="url(#g60)"/><rect x="56" y="237" width="365" height="1" fill="url(#g61)"/><rect x="56" y="238" width="365" height="1" fill="url(#g62)"/><rect x="56" y="239" width="365" height="1" fill="url(#g63)"/><rect x="56" y="240" width="365" height="1" fill="url(#g64)"/><rect x="56" y="241" width="365" height="1" fill="url(#g65)"/><rect x="56" y="242" width="365" height="1" fill="url(#g66)"/><rect x="56" y="243" width="365" height="1" fill="url(#g67)"/><rect x="56" y="244" width="365" height="1" fill="url(#g68)"/><rect x="56" y="245" width="365" height="1" fill="url(#g69)"/><rect x="56" y="246" width="365" height="1" fill="url(#g70)"/><rect x="56" y="247" width="365" height="1" fill="url(#g71)"/><rect x="56" y="248" width="365" height="1" fill="url(#g72)"/><rect x="56" y="249" width="365" height="1" fill="url(#g73)"/><rect x="56" y="250" width="365" height="1" fill="url(#g74)"/><rect x="56" y="251" width="365" height="1" fill="url(#g75)"/><rect x="56" y="252" width="365" height="1" fill="url(#g76)"/><rect x="56" y="253" width="365" height="1" fill="url(#g77)"/><rect x="56" y="254" width="365" height="1" fill="url(#g78)"/><rect x="56" y="255" width="365" height="1" fill="url(#g79)"/><rect x="56" y="256" width="365" height="1" fill="url(#g80)"/><rect x="56" y="257" width="365" height="1" fill="url(#g81)"/><rect x="56" y="258" width="365" height="1" fill="url(#g82)"/><rect x="56" y="259" width="365" height="1" fill="url(#g83)"/><rect x="56" y="260" width="365" height="1" fill="url(#g84)"/><rect x="56" y="261" width="365" height="1" fill="url(#g85)"/><rect x="56" y="262" width="365" height="1" fill="url(#g86)"/><rect x="56" y="263" width="365" height="1" fill="url(#g87)"/><rect x="56" y="264" width="365" height="1" fill="url(#g88)"/><rect x="56" y="265" width="365" height="1" fill="url(#g89)"/><rect x="56" y="266" width="365" height="1" fill="url(#g90)"/><rect x="56" y="267" width="365" height="1" fill="url(#g91)"/></g>
<polygon points="57.0,205.0 181.0,205.0 193.4,217.8 205.8,205.0 221.0,205.0 233.4,217.8 245.8,205.0 261.1,205.0 273.5,217.8 285.9,205.0 301.2,205.0 313.6,217.8 325.9,205.0 354.1,205.0 378.3,177.3 396.6,197.3 371.7,225.6 419.3,225.6 419.3,253.9 363.4,253.9 363.4,266.6 341.1,266.6 331.1,255.8 321.1,266.6 305.3,266.6 295.3,255.8 285.3,266.6 269.5,266.6 259.5,255.8 249.5,266.6 233.7,266.6 223.7,255.8 213.7,266.6 197.9,266.6 187.9,255.8 177.9,266.6 162.1,266.6 152.1,255.8 142.1,266.6 126.3,266.6 116.3,255.8 106.3,266.6 90.5,266.6 80.5,255.8 70.5,266.6 57.0,266.6" fill="none" stroke="#3a3a3a" stroke-width="1.4" stroke-linejoin="miter"/>
<path d="M47.6 40.7H427.6V404.4H47.6Z" fill="none" stroke="#2a2a2a" stroke-width="1.5"/>
<path d="M55.80 404.40V397.60M55.80 40.70V46.70M112.69 404.40V397.60M112.69 40.70V46.70M169.57 404.40V397.60M169.57 40.70V46.70M226.45 404.40V397.60M226.45 40.70V46.70M283.34 404.40V397.60M283.34 40.70V46.70M340.23 404.40V397.60M340.23 40.70V46.70M397.11 404.40V397.60M397.11 40.70V46.70M47.60 392.20H53.60M427.60 392.20H421.60M47.60 366.20H53.60M427.60 366.20H421.60M47.60 340.20H53.60M427.60 340.20H421.60M47.60 314.20H53.60M427.60 314.20H421.60M47.60 288.20H53.60M427.60 288.20H421.60M47.60 262.20H53.60M427.60 262.20H421.60M47.60 236.20H53.60M427.60 236.20H421.60M47.60 210.20H53.60M427.60 210.20H421.60M47.60 184.20H53.60M427.60 184.20H421.60M47.60 158.20H53.60M427.60 158.20H421.60M47.60 132.20H53.60M427.60 132.20H421.60M47.60 106.20H53.60M427.60 106.20H421.60M47.60 80.20H53.60M427.60 80.20H421.60M47.60 54.20H53.60M427.60 54.20H421.60" stroke="#2a2a2a" stroke-width="1.3" fill="none"/>
<g fill="#fff" fill-opacity="0.28"><ellipse cx="71.8" cy="231.8" rx="4.7" ry="5.1"/><ellipse cx="92.5" cy="229.6" rx="4.7" ry="5.1"/><ellipse cx="114.2" cy="226.8" rx="4.7" ry="5.1"/><ellipse cx="135.3" cy="225.0" rx="4.7" ry="5.1"/><ellipse cx="156.2" cy="225.3" rx="4.7" ry="5.1"/><ellipse cx="173.5" cy="228.9" rx="4.7" ry="5.1"/><ellipse cx="187.5" cy="232.6" rx="4.7" ry="5.1"/><ellipse cx="215.8" cy="237.8" rx="4.7" ry="5.1"/><ellipse cx="234.0" cy="238.5" rx="4.7" ry="5.1"/><ellipse cx="257.5" cy="238.0" rx="4.7" ry="5.1"/><ellipse cx="282.2" cy="238.8" rx="4.7" ry="5.1"/><ellipse cx="297.2" cy="238.1" rx="4.7" ry="5.1"/><ellipse cx="321.5" cy="237.0" rx="4.7" ry="5.1"/><ellipse cx="347.5" cy="232.2" rx="4.7" ry="5.1"/><ellipse cx="365.6" cy="225.4" rx="4.7" ry="5.1"/><ellipse cx="375.7" cy="214.0" rx="4.7" ry="5.1"/><ellipse cx="385.7" cy="202.6" rx="4.7" ry="5.1"/><ellipse cx="393.2" cy="194.0" rx="4.7" ry="5.1"/><ellipse cx="57.2" cy="236.0" rx="4.7" ry="5.1"/><ellipse cx="72.2" cy="233.7" rx="4.7" ry="5.1"/><ellipse cx="94.0" cy="233.0" rx="4.7" ry="5.1"/><ellipse cx="116.0" cy="233.0" rx="4.7" ry="5.1"/><ellipse cx="138.1" cy="233.9" rx="4.7" ry="5.1"/><ellipse cx="160.0" cy="234.4" rx="4.7" ry="5.1"/><ellipse cx="184.0" cy="237.6" rx="4.7" ry="5.1"/><ellipse cx="208.8" cy="238.7" rx="4.7" ry="5.1"/><ellipse cx="235.6" cy="239.3" rx="4.7" ry="5.1"/><ellipse cx="260.5" cy="238.3" rx="4.7" ry="5.1"/><ellipse cx="285.3" cy="238.6" rx="4.7" ry="5.1"/><ellipse cx="311.5" cy="239.8" rx="4.7" ry="5.1"/><ellipse cx="335.4" cy="236.9" rx="4.7" ry="5.1"/><ellipse cx="356.7" cy="231.9" rx="4.7" ry="5.1"/><ellipse cx="370.5" cy="228.6" rx="4.7" ry="5.1"/><ellipse cx="377.5" cy="228.6" rx="4.7" ry="5.1"/><ellipse cx="385.5" cy="228.7" rx="4.7" ry="5.1"/><ellipse cx="391.5" cy="228.7" rx="4.7" ry="5.1"/><ellipse cx="396.5" cy="228.7" rx="4.7" ry="5.1"/><ellipse cx="407.5" cy="228.7" rx="4.7" ry="5.1"/><ellipse cx="412.5" cy="228.7" rx="4.7" ry="5.1"/><ellipse cx="418.5" cy="228.6" rx="4.7" ry="5.1"/></g><ellipse cx="71.8" cy="231.8" rx="3.6" ry="4.0" fill="#b00000"/><ellipse cx="92.5" cy="229.6" rx="3.6" ry="4.0" fill="#b00000"/><ellipse cx="114.2" cy="226.8" rx="3.6" ry="4.0" fill="#b00000"/><ellipse cx="135.3" cy="225.0" rx="3.6" ry="4.0" fill="#b00000"/><ellipse cx="156.2" cy="225.3" rx="3.6" ry="4.0" fill="#b00000"/><ellipse cx="173.5" cy="228.9" rx="3.6" ry="4.0" fill="#b00000"/><ellipse cx="187.5" cy="232.6" rx="3.6" ry="4.0" fill="#b00000"/><ellipse cx="215.8" cy="237.8" rx="3.6" ry="4.0" fill="#b00000"/><ellipse cx="234.0" cy="238.5" rx="3.6" ry="4.0" fill="#b00000"/><ellipse cx="257.5" cy="238.0" rx="3.6" ry="4.0" fill="#b00000"/><ellipse cx="282.2" cy="238.8" rx="3.6" ry="4.0" fill="#b00000"/><ellipse cx="297.2" cy="238.1" rx="3.6" ry="4.0" fill="#b00000"/><ellipse cx="321.5" cy="237.0" rx="3.6" ry="4.0" fill="#b00000"/><ellipse cx="347.5" cy="232.2" rx="3.6" ry="4.0" fill="#b00000"/><ellipse cx="365.6" cy="225.4" rx="3.6" ry="4.0" fill="#b00000"/><ellipse cx="375.7" cy="214.0" rx="3.6" ry="4.0" fill="#b00000"/><ellipse cx="385.7" cy="202.6" rx="3.6" ry="4.0" fill="#b00000"/><ellipse cx="393.2" cy="194.0" rx="3.6" ry="4.0" fill="#b00000"/><ellipse cx="57.2" cy="236.0" rx="3.8" ry="4.3" fill="#00a800"/><ellipse cx="72.2" cy="233.7" rx="3.8" ry="4.3" fill="#00a800"/><ellipse cx="94.0" cy="233.0" rx="3.8" ry="4.3" fill="#00a800"/><ellipse cx="116.0" cy="233.0" rx="3.8" ry="4.3" fill="#00a800"/><ellipse cx="138.1" cy="233.9" rx="3.8" ry="4.3" fill="#00a800"/><ellipse cx="160.0" cy="234.4" rx="3.8" ry="4.3" fill="#00a800"/><ellipse cx="184.0" cy="237.6" rx="3.8" ry="4.3" fill="#00a800"/><ellipse cx="208.8" cy="238.7" rx="3.8" ry="4.3" fill="#00a800"/><ellipse cx="235.6" cy="239.3" rx="3.8" ry="4.3" fill="#00a800"/><ellipse cx="260.5" cy="238.3" rx="3.8" ry="4.3" fill="#00a800"/><ellipse cx="285.3" cy="238.6" rx="3.8" ry="4.3" fill="#00a800"/><ellipse cx="311.5" cy="239.8" rx="3.8" ry="4.3" fill="#00a800"/><ellipse cx="335.4" cy="236.9" rx="3.8" ry="4.3" fill="#00a800"/><ellipse cx="356.7" cy="231.9" rx="3.8" ry="4.3" fill="#00a800"/><ellipse cx="370.5" cy="228.6" rx="3.8" ry="4.3" fill="#00a800"/><ellipse cx="377.5" cy="228.6" rx="3.8" ry="4.3" fill="#00a800"/><ellipse cx="385.5" cy="228.7" rx="3.8" ry="4.3" fill="#00a800"/><ellipse cx="391.5" cy="228.7" rx="3.8" ry="4.3" fill="#00a800"/><ellipse cx="396.5" cy="228.7" rx="3.8" ry="4.3" fill="#00a800"/><ellipse cx="407.5" cy="228.7" rx="3.8" ry="4.3" fill="#00a800"/><ellipse cx="412.5" cy="228.7" rx="3.8" ry="4.3" fill="#00a800"/><ellipse cx="418.5" cy="228.6" rx="3.8" ry="4.3" fill="#00a800"/>
<rect x="449.0" y="76.4" width="14.60" height="321.20" fill="url(#vcb)" stroke="#222" stroke-width="1.2"/>
<rect x="533.0" y="76.4" width="15.20" height="321.20" fill="url(#mcb)" stroke="#222" stroke-width="1.2"/>
<path d="M449.00 113.40H452.00M463.60 113.40H460.60M449.00 175.10H452.00M463.60 175.10H460.60M449.00 236.80H452.00M463.60 236.80H460.60M449.00 298.50H452.00M463.60 298.50H460.60M449.00 360.20H452.00M463.60 360.20H460.60M533.00 129.35H536.00M548.20 129.35H545.20M533.00 183.00H536.00M548.20 183.00H545.20M533.00 236.65H536.00M548.20 236.65H545.20M533.00 290.30H536.00M548.20 290.30H545.20M533.00 343.95H536.00M548.20 343.95H545.20" stroke="#222" stroke-width="1.2" fill="none"/>
<g font-family="&quot;Liberation Sans&quot;, sans-serif" fill="#1a1a1a" stroke="#1a1a1a" stroke-width="0.25"><text x="16.60" y="27.80" font-size="13.50" text-anchor="start" textLength="66.5" lengthAdjust="spacingAndGlyphs">Time=1.5 s</text><text x="241.80" y="28.40" font-size="13.50" text-anchor="start" textLength="112.5" lengthAdjust="spacingAndGlyphs">Particle trajectories</text><text x="43.20" y="396.10" font-size="13.50" text-anchor="end" >-100</text><text x="43.20" y="370.10" font-size="13.50" text-anchor="end" >-80</text><text x="43.20" y="344.10" font-size="13.50" text-anchor="end" >-60</text><text x="43.20" y="318.10" font-size="13.50" text-anchor="end" >-40</text><text x="43.20" y="292.10" font-size="13.50" text-anchor="end" >-20</text><text x="43.20" y="266.10" font-size="13.50" text-anchor="end" >0</text><text x="43.20" y="240.10" font-size="13.50" text-anchor="end" >20</text><text x="43.20" y="214.10" font-size="13.50" text-anchor="end" >40</text><text x="43.20" y="188.10" font-size="13.50" text-anchor="end" >60</text><text x="43.20" y="162.10" font-size="13.50" text-anchor="end" >80</text><text x="43.20" y="136.10" font-size="13.50" text-anchor="end" >100</text><text x="43.20" y="110.10" font-size="13.50" text-anchor="end" >120</text><text x="43.20" y="84.10" font-size="13.50" text-anchor="end" >140</text><text x="57.40" y="424.20" font-size="13.50" text-anchor="middle" >0</text><text x="114.28" y="424.20" font-size="13.50" text-anchor="middle" >50</text><text x="171.17" y="424.20" font-size="13.50" text-anchor="middle" >100</text><text x="228.05" y="424.20" font-size="13.50" text-anchor="middle" >150</text><text x="284.94" y="424.20" font-size="13.50" text-anchor="middle" >200</text><text x="341.83" y="424.20" font-size="13.50" text-anchor="middle" >250</text><text x="472.20" y="117.20" font-size="13.50" text-anchor="start" >1</text><text x="472.20" y="178.90" font-size="13.50" text-anchor="start" >0.5</text><text x="472.20" y="240.60" font-size="13.50" text-anchor="start" >0</text><text x="472.20" y="302.30" font-size="13.50" text-anchor="start" >-0.5</text><text x="472.20" y="364.00" font-size="13.50" text-anchor="start" >-1</text><text x="555.60" y="79.70" font-size="13.50" text-anchor="start" >14</text><text x="555.60" y="133.35" font-size="13.50" text-anchor="start" >13.5</text><text x="555.60" y="187.00" font-size="13.50" text-anchor="start" >13</text><text x="555.60" y="240.65" font-size="13.50" text-anchor="start" >12.5</text><text x="555.60" y="294.30" font-size="13.50" text-anchor="start" >12</text><text x="555.60" y="347.95" font-size="13.50" text-anchor="start" >11.5</text><text x="555.60" y="401.60" font-size="13.50" text-anchor="start" >11</text></g>
<g font-family="&quot;Liberation Sans&quot;, sans-serif" fill="#000">
<text x="450.2" y="63.8" font-size="20" textLength="11.2" lengthAdjust="spacingAndGlyphs">V</text>
<text x="536.3" y="62.2" font-size="17" textLength="12.6" lengthAdjust="spacingAndGlyphs">μ</text>
<text x="174.3" y="351.6" font-size="20.4" textLength="39.6" lengthAdjust="spacingAndGlyphs">WBC</text>
<text x="173.0" y="380.2" font-size="19.9" textLength="44.4" lengthAdjust="spacingAndGlyphs">Ht-29</text>
</g>
<g font-family="&quot;Liberation Serif&quot;, serif" font-style="italic" fill="#1a1a1a" stroke="#1a1a1a" stroke-width="0.05">
<text x="2.9" y="48.0" font-size="18.5">μ</text>
<text x="408.8" y="419.6" font-size="18.5">μ</text>
</g>
<g font-family="&quot;Liberation Sans&quot;, sans-serif" fill="#1a1a1a" stroke="#1a1a1a" stroke-width="0.25">
<text x="13.0" y="47.6" font-size="12.2">m</text>
<text x="419.6" y="419.5" font-size="12.2">m</text>
</g>
<ellipse cx="142.5" cy="347" rx="7.6" ry="8.0" fill="#c00000" stroke="#2f4a7a" stroke-width="1"/>
<ellipse cx="142.5" cy="375.3" rx="7.6" ry="7.6" fill="#70ad47" stroke="#2f4a7a" stroke-width="1"/>
</svg>
</body></html>
